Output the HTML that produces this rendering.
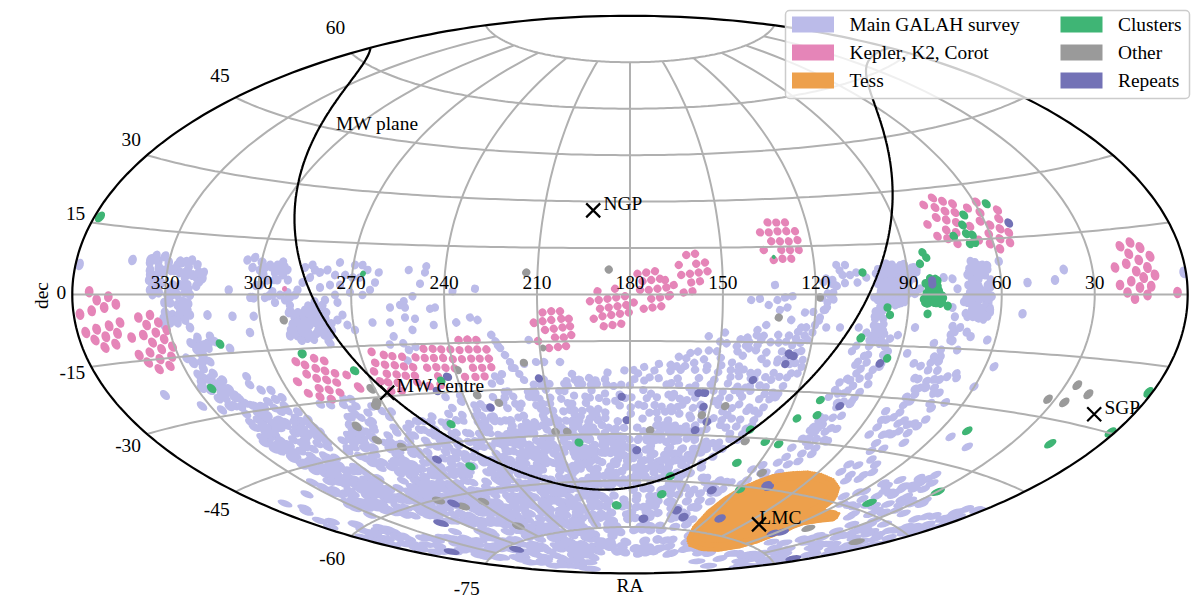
<!DOCTYPE html>
<html><head><meta charset="utf-8"><style>
html,body{margin:0;padding:0;background:#fff;width:1200px;height:614px;overflow:hidden}
svg{display:block}
text{font-family:"Liberation Serif",serif;fill:#000}
</style></head><body>
<svg width="1200" height="614" viewBox="0 0 1200 614">
<defs><clipPath id="ell"><path d="M1187.7,294.6 1187.6,299.0 1187.4,303.4 1187.1,307.8 1186.6,312.2 1186.0,316.5 1185.2,320.9 1184.3,325.3 1183.3,329.6 1182.1,334.0 1180.8,338.3 1179.3,342.7 1177.8,347.0 1176.0,351.3 1174.2,355.6 1172.2,359.8 1170.1,364.1 1167.8,368.4 1165.4,372.6 1162.9,376.8 1160.3,381.0 1157.5,385.1 1154.6,389.3 1151.5,393.4 1148.3,397.5 1145.0,401.6 1141.6,405.6 1138.0,409.6 1134.4,413.6 1130.5,417.5 1126.6,421.5 1122.5,425.4 1118.4,429.2 1114.1,433.1 1109.6,436.9 1105.1,440.6 1100.4,444.3 1095.7,448.0 1090.8,451.7 1085.8,455.3 1080.7,458.8 1075.4,462.4 1070.1,465.9 1064.6,469.3 1059.1,472.7 1053.4,476.1 1047.7,479.4 1041.8,482.6 1035.8,485.8 1029.7,489.0 1023.6,492.1 1017.3,495.2 1010.9,498.2 1004.5,501.2 997.9,504.1 991.3,507.0 984.5,509.8 977.7,512.6 970.8,515.3 963.8,518.0 956.7,520.6 949.6,523.1 942.3,525.6 935.0,528.0 927.6,530.4 920.2,532.7 912.6,535.0 905.0,537.2 897.4,539.3 889.6,541.4 881.8,543.4 873.9,545.3 866.0,547.2 858.0,549.0 850.0,550.8 841.9,552.5 833.7,554.1 825.5,555.7 817.3,557.2 809.0,558.7 800.7,560.0 792.3,561.4 783.8,562.6 775.4,563.8 766.9,564.9 758.4,565.9 749.8,566.9 741.2,567.8 732.6,568.7 723.9,569.4 715.3,570.1 706.6,570.8 697.9,571.3 689.2,571.8 680.4,572.3 671.7,572.6 662.9,572.9 654.1,573.2 645.3,573.3 636.6,573.4 627.8,573.4 619.0,573.4 610.2,573.2 601.4,573.1 592.7,572.8 583.9,572.5 575.2,572.1 566.4,571.6 557.7,571.1 549.0,570.5 540.4,569.8 531.7,569.1 523.1,568.2 514.5,567.4 505.9,566.4 497.3,565.4 488.8,564.3 480.3,563.2 471.9,562.0 463.5,560.7 455.1,559.4 446.8,558.0 438.5,556.5 430.3,554.9 422.1,553.3 414.0,551.7 405.9,549.9 397.9,548.1 390.0,546.3 382.1,544.4 374.2,542.4 366.5,540.3 358.8,538.2 351.1,536.1 343.6,533.8 336.1,531.6 328.6,529.2 321.3,526.8 314.0,524.3 306.8,521.8 299.7,519.3 292.6,516.6 285.7,513.9 278.8,511.2 272.1,508.4 265.4,505.6 258.8,502.7 252.3,499.7 245.8,496.7 239.5,493.7 233.3,490.6 227.2,487.4 221.1,484.2 215.2,481.0 209.4,477.7 203.7,474.4 198.1,471.0 192.6,467.6 187.2,464.1 181.9,460.6 176.7,457.1 171.7,453.5 166.7,449.8 161.9,446.2 157.2,442.5 152.6,438.7 148.1,435.0 143.7,431.1 139.5,427.3 135.4,423.4 131.4,419.5 127.5,415.6 123.8,411.6 120.1,407.6 116.6,403.6 113.3,399.5 110.0,395.4 106.9,391.3 103.9,387.2 101.1,383.1 98.4,378.9 95.8,374.7 93.3,370.5 91.0,366.2 88.8,362.0 86.7,357.7 84.8,353.4 83.0,349.1 81.4,344.8 79.9,340.5 78.5,336.2 77.3,331.8 76.2,327.5 75.2,323.1 74.4,318.7 73.7,314.3 73.1,310.0 72.7,305.6 72.4,301.2 72.3,296.8 72.3,292.4 72.4,288.0 72.7,283.6 73.1,279.2 73.7,274.9 74.4,270.5 75.2,266.1 76.2,261.7 77.3,257.4 78.5,253.0 79.9,248.7 81.4,244.4 83.0,240.1 84.8,235.8 86.7,231.5 88.8,227.2 91.0,223.0 93.3,218.7 95.8,214.5 98.4,210.3 101.1,206.1 103.9,202.0 106.9,197.9 110.0,193.8 113.3,189.7 116.6,185.6 120.1,181.6 123.8,177.6 127.5,173.6 131.4,169.7 135.4,165.8 139.5,161.9 143.7,158.1 148.1,154.2 152.6,150.5 157.2,146.7 161.9,143.0 166.7,139.4 171.7,135.7 176.7,132.1 181.9,128.6 187.2,125.1 192.6,121.6 198.1,118.2 203.7,114.8 209.4,111.5 215.2,108.2 221.1,105.0 227.2,101.8 233.3,98.6 239.5,95.5 245.8,92.5 252.3,89.5 258.8,86.5 265.4,83.6 272.1,80.8 278.8,78.0 285.7,75.3 292.6,72.6 299.7,69.9 306.8,67.4 314.0,64.9 321.3,62.4 328.6,60.0 336.1,57.6 343.6,55.4 351.1,53.1 358.8,51.0 366.5,48.9 374.2,46.8 382.1,44.8 390.0,42.9 397.9,41.1 405.9,39.3 414.0,37.5 422.1,35.9 430.3,34.3 438.5,32.7 446.8,31.2 455.1,29.8 463.5,28.5 471.9,27.2 480.3,26.0 488.8,24.9 497.3,23.8 505.9,22.8 514.5,21.8 523.1,21.0 531.7,20.1 540.4,19.4 549.0,18.7 557.7,18.1 566.4,17.6 575.2,17.1 583.9,16.7 592.7,16.4 601.4,16.1 610.2,16.0 619.0,15.8 627.8,15.8 636.6,15.8 645.3,15.9 654.1,16.0 662.9,16.3 671.7,16.6 680.4,16.9 689.2,17.4 697.9,17.9 706.6,18.4 715.3,19.1 723.9,19.8 732.6,20.5 741.2,21.4 749.8,22.3 758.4,23.3 766.9,24.3 775.4,25.4 783.8,26.6 792.3,27.8 800.7,29.2 809.0,30.5 817.3,32.0 825.5,33.5 833.7,35.1 841.9,36.7 850.0,38.4 858.0,40.2 866.0,42.0 873.9,43.9 881.8,45.8 889.6,47.8 897.4,49.9 905.0,52.0 912.6,54.2 920.2,56.5 927.6,58.8 935.0,61.2 942.3,63.6 949.6,66.1 956.7,68.6 963.8,71.2 970.8,73.9 977.7,76.6 984.5,79.4 991.3,82.2 997.9,85.1 1004.5,88.0 1010.9,91.0 1017.3,94.0 1023.6,97.1 1029.7,100.2 1035.8,103.4 1041.8,106.6 1047.7,109.8 1053.4,113.1 1059.1,116.5 1064.6,119.9 1070.1,123.3 1075.4,126.8 1080.7,130.4 1085.8,133.9 1090.8,137.5 1095.7,141.2 1100.4,144.9 1105.1,148.6 1109.6,152.3 1114.1,156.1 1118.4,160.0 1122.5,163.8 1126.6,167.7 1130.5,171.7 1134.4,175.6 1138.0,179.6 1141.6,183.6 1145.0,187.6 1148.3,191.7 1151.5,195.8 1154.6,199.9 1157.5,204.1 1160.3,208.2 1162.9,212.4 1165.4,216.6 1167.8,220.8 1170.1,225.1 1172.2,229.4 1174.2,233.6 1176.0,237.9 1177.8,242.2 1179.3,246.5 1180.8,250.9 1182.1,255.2 1183.3,259.6 1184.3,263.9 1185.2,268.3 1186.0,272.7 1186.6,277.0 1187.1,281.4 1187.4,285.8 1187.6,290.2 1187.7,294.6 Z"/></clipPath></defs>
<g clip-path="url(#ell)">
<path fill="#bbbbe9" stroke="#bbbbe9" stroke-width="8" stroke-linejoin="round" d=""/>
<g stroke="#bbbbe9" stroke-linecap="round" fill="none"><path transform="matrix(2.300 3.382 2.574 -1.750 195 350)" stroke-width="2.60" d="M-0.78 1.35h0M0.81 2.52h0M1.36 0.73h0M0.54 -3.72h0M0.49 4.75h0M-2.00 0.13h0M-1.44 2.25h0M0.39 3.61h0M0.16 0.46h0M1.41 3.91h0M2.14 1.32h0"/><path transform="matrix(2.791 3.234 2.291 -1.978 195 370)" stroke-width="2.60" d="M-1.44 1.02h0M-0.50 4.24h0M0.98 2.44h0M1.95 -0.19h0M1.24 -0.21h0M-1.77 1.49h0M-0.26 3.17h0M1.99 0.34h0M3.05 0.62h0"/><path transform="matrix(2.762 3.094 2.240 -2.000 225 370)" stroke-width="2.60" d="M-3.91 -1.88h0M-1.27 -3.64h0M-0.80 -5.19h0M1.43 -2.75h0"/><path transform="matrix(2.302 3.238 2.516 -1.788 225 350)" stroke-width="2.60" d="M0.39 1.63h0M-3.17 -1.08h0"/><path transform="matrix(2.733 2.967 2.194 -2.021 255 370)" stroke-width="2.60" d="M-0.18 -3.57h0"/><path transform="matrix(3.232 3.113 2.040 -2.118 195 390)" stroke-width="2.60" d="M-0.05 3.30h0M0.99 5.77h0M2.41 3.48h0M0.80 2.05h0"/><path transform="matrix(3.176 2.979 1.997 -2.129 225 390)" stroke-width="2.60" d="M-2.89 -0.88h0M-1.89 0.95h0M-0.90 -0.89h0M0.17 0.64h0M0.07 -1.91h0M0.65 -0.03h0M2.38 1.18h0M0.28 -3.74h0M1.60 -2.03h0M3.87 1.24h0M-3.12 -1.08h0M-2.36 -3.32h0M0.52 1.30h0M0.79 -1.93h0M2.79 0.29h0M3.36 1.29h0"/><path transform="matrix(3.581 2.879 1.777 -2.211 225 410)" stroke-width="2.60" d="M0.30 1.95h0M1.00 3.25h0M-0.51 -0.66h0"/><path transform="matrix(3.501 2.764 1.748 -2.215 255 410)" stroke-width="2.60" d="M-2.81 -2.28h0M-0.99 -3.04h0M1.11 5.23h0M-1.22 0.56h0M0.75 2.59h0M2.92 1.43h0M2.59 -1.02h0M-2.62 -0.17h0M-0.47 1.23h0M1.24 2.85h0M0.88 -0.36h0M2.08 1.09h0M2.24 -0.55h0"/><path transform="matrix(3.119 2.858 1.960 -2.140 255 390)" stroke-width="2.60" d="M-1.80 0.13h0M1.06 1.42h0"/><path transform="matrix(3.063 2.749 1.931 -2.152 285 390)" stroke-width="2.60" d="M-2.48 -3.34h0M-0.20 -4.61h0M0.68 -2.60h0"/><path transform="matrix(3.421 2.660 1.727 -2.221 285 410)" stroke-width="2.60" d="M-2.17 -1.71h0M-0.72 1.14h0M-0.56 -1.39h0M0.66 0.35h0M0.49 -3.87h0M3.10 -0.00h0M2.61 2.30h0"/><path transform="matrix(3.800 2.575 1.535 -2.265 285 430)" stroke-width="2.60" d="M-3.66 -0.36h0M-0.75 2.60h0M-2.08 -1.85h0M-1.18 -0.21h0M-0.24 1.68h0M1.69 3.65h0M-2.33 1.38h0M-2.53 -1.99h0M-1.38 -0.60h0M1.97 2.83h0M2.08 1.01h0M-2.44 -3.51h0M-1.22 -3.40h0M-0.76 -4.09h0M2.68 -1.26h0M0.84 4.36h0M1.87 4.90h0"/><path transform="matrix(3.699 2.488 1.527 -2.270 315 430)" stroke-width="2.60" d="M-3.47 0.15h0M-2.43 -1.83h0M-0.48 0.73h0M-0.02 0.26h0M2.19 -0.27h0M1.02 0.67h0M-2.57 -2.41h0M-1.35 0.45h0M-2.37 -3.96h0M-0.83 -3.15h0M-0.06 -1.68h0M1.37 0.13h0M-0.89 -4.13h0M1.47 -1.84h0"/><path transform="matrix(3.341 2.568 1.713 -2.229 315 410)" stroke-width="2.60" d="M-0.03 -4.06h0M0.19 2.73h0"/><path transform="matrix(3.900 2.672 1.551 -2.263 255 430)" stroke-width="2.60" d="M-0.18 0.93h0M-0.38 0.73h0M1.58 3.36h0M2.57 2.19h0M-1.70 1.38h0M-0.65 3.64h0M0.47 3.32h0M-0.53 0.67h0M1.30 1.88h0M1.94 2.78h0M2.10 1.42h0M2.07 -0.87h0M3.27 0.67h0"/><path transform="matrix(0.959 3.422 3.064 -0.859 285 310)" stroke-width="2.60" d="M1.05 0.91h0M3.00 2.30h0M2.80 3.68h0M-2.79 -2.39h0M-2.71 0.85h0M0.38 1.51h0M2.30 3.36h0M-0.88 1.88h0M0.89 1.67h0M1.70 3.78h0M2.74 2.21h0"/><path transform="matrix(1.017 3.324 3.026 -0.925 315 310)" stroke-width="2.60" d="M0.19 -1.85h0M1.23 0.37h0M2.59 -0.68h0M2.93 0.30h0M2.43 2.47h0M-0.84 -3.02h0M-1.11 -1.28h0M0.21 0.76h0M-0.74 2.73h0M-1.91 3.95h0M-2.37 0.66h0M-1.72 -1.66h0M-1.31 0.44h0M-0.25 -3.49h0M0.48 -1.14h0M0.79 1.60h0M1.58 3.20h0M0.79 -4.09h0M1.73 -1.93h0M3.19 2.41h0"/><path transform="matrix(1.790 3.173 2.719 -1.533 285 330)" stroke-width="2.60" d="M-0.39 3.16h0M-0.33 4.74h0M0.86 3.45h0M1.96 1.35h0M-0.18 2.88h0M1.87 0.61h0M2.88 2.70h0M0.80 1.65h0M2.13 0.47h0M3.07 2.49h0"/><path transform="matrix(1.829 3.058 2.664 -1.594 315 330)" stroke-width="2.60" d="M-3.53 -1.35h0M-1.98 -0.63h0M-1.84 1.46h0M-1.03 3.10h0M-2.22 -3.79h0M-1.38 -2.44h0M0.60 0.82h0M-1.03 -3.89h0M0.84 -1.80h0M1.09 -0.18h0M2.55 1.67h0M0.92 -3.62h0M2.15 -1.85h0M-3.37 -3.32h0M-2.28 -1.25h0M-1.81 1.24h0M-1.69 3.04h0M-0.97 4.42h0M0.12 -2.90h0M0.72 1.38h0M-2.11 2.17h0M-2.28 -2.09h0M-1.63 1.27h0M-0.27 1.83h0M0.26 4.05h0M-1.29 -3.82h0M-0.68 -2.16h0M1.96 2.53h0M0.18 -4.32h0M0.86 -1.98h0"/><path transform="matrix(1.870 2.948 2.610 -1.655 345 330)" stroke-width="2.60" d="M-0.95 -4.62h0M-2.30 -4.10h0M-3.57 -0.32h0M-0.83 1.55h0M1.53 2.73h0M-3.66 -2.51h0M-1.98 -3.55h0"/><path transform="matrix(2.309 2.871 2.364 -1.901 315 350)" stroke-width="2.60" d="M-4.28 -1.51h0M0.47 5.30h0"/><path transform="matrix(2.311 2.766 2.320 -1.938 345 350)" stroke-width="2.60" d="M-3.89 -2.39h0"/><path transform="matrix(2.951 2.558 1.891 -2.181 345 390)" stroke-width="2.60" d="M-1.09 -5.70h0M1.20 -2.56h0M2.69 -1.02h0"/><path transform="matrix(3.262 2.483 1.706 -2.241 345 410)" stroke-width="2.60" d="M-3.53 -1.73h0M-1.03 1.15h0M1.55 3.50h0M1.31 1.60h0M2.64 1.10h0M1.73 -1.40h0M2.21 -0.75h0"/><path transform="matrix(3.183 2.405 1.705 -2.256 375 410)" stroke-width="2.60" d="M-1.15 0.31h0M-1.00 -2.27h0M1.57 1.23h0M-1.63 -5.14h0M3.99 1.12h0"/><path transform="matrix(3.106 2.332 1.709 -2.276 405 410)" stroke-width="2.60" d="M-2.53 -3.29h0"/><path transform="matrix(3.494 2.339 1.536 -2.294 375 430)" stroke-width="2.60" d="M-1.76 2.11h0M-0.94 0.82h0M-2.40 -3.66h0M0.40 -2.44h0M3.34 1.05h0M0.91 -3.10h0M-2.06 0.92h0M-3.10 -2.63h0M-1.35 -2.12h0M-0.28 -0.02h0M-1.25 -4.74h0M0.00 -2.77h0"/><path transform="matrix(3.597 2.410 1.528 -2.280 345 430)" stroke-width="2.60" d="M0.41 2.14h0M1.89 -0.01h0M0.30 2.57h0M1.47 1.46h0M1.21 -0.91h0M2.97 0.81h0"/><path transform="matrix(3.393 2.273 1.550 -2.314 405 430)" stroke-width="2.60" d="M-2.51 -1.52h0M-1.35 -2.38h0M0.15 2.80h0M1.20 4.93h0M0.21 0.91h0M2.94 2.99h0M1.77 -0.83h0M2.65 0.24h0"/><path transform="matrix(4.211 2.481 1.350 -2.292 285 450)" stroke-width="2.60" d="M-1.66 1.86h0M0.04 1.50h0M2.15 -1.40h0M-1.78 2.36h0M-3.30 -0.59h0M-1.59 0.51h0M-0.59 2.19h0M0.17 2.59h0M-1.97 -1.86h0M-0.74 -1.34h0M0.21 0.12h0M1.81 1.22h0M1.94 -1.21h0M2.48 0.26h0"/><path transform="matrix(4.093 2.401 1.346 -2.295 315 450)" stroke-width="2.60" d="M-3.26 -0.40h0M-2.73 0.92h0M1.26 4.76h0M-2.26 -1.03h0M-0.41 -0.02h0M2.02 3.36h0M2.32 -0.05h0M-2.44 -3.07h0M-0.09 -2.68h0M2.53 -0.31h0M3.18 0.05h0M-0.13 2.54h0"/><path transform="matrix(3.971 2.330 1.351 -2.303 345 450)" stroke-width="2.60" d="M-0.12 4.21h0M0.72 0.17h0M-0.93 -4.29h0M-1.46 2.64h0M0.78 3.91h0M1.64 5.79h0M0.34 1.14h0M1.48 2.65h0M3.37 0.83h0"/><path transform="matrix(3.847 2.267 1.365 -2.316 375 450)" stroke-width="2.60" d="M-2.90 0.41h0M1.17 4.16h0M-0.54 0.52h0M2.73 3.01h0M-0.96 -4.55h0M0.45 -3.02h0M-3.05 0.50h0M-2.28 -1.48h0M-1.28 -0.24h0M0.54 -1.37h0"/><path transform="matrix(3.721 2.209 1.387 -2.337 405 450)" stroke-width="2.60" d="M-3.36 -0.59h0M-1.28 1.40h0M-0.42 -2.82h0M-0.33 3.95h0M0.68 1.71h0M1.89 0.14h0M2.82 2.24h0M-3.78 -0.11h0M-1.86 0.45h0M-1.00 -1.37h0M0.03 1.17h0M-1.08 -3.27h0"/><path transform="matrix(4.533 2.296 1.168 -2.305 315 470)" stroke-width="2.60" d="M-1.60 2.03h0M1.71 4.98h0M-0.28 0.14h0M1.71 1.48h0M-3.12 -0.14h0M-2.38 0.82h0M-1.40 2.72h0M-0.47 3.66h0M1.35 5.47h0M-2.64 -0.65h0M-1.36 0.59h0M0.30 0.89h0M1.20 2.49h0M-0.05 -0.47h0M2.19 0.22h0"/><path transform="matrix(4.398 2.232 1.173 -2.311 345 470)" stroke-width="2.60" d="M-1.54 0.74h0M-1.79 -1.90h0M-0.29 -0.22h0M0.86 0.68h0M-2.00 -4.63h0M2.72 -1.42h0M-3.14 0.81h0M-2.83 -1.97h0M-2.00 -0.23h0M-0.71 -0.14h0M1.52 2.77h0M-2.26 -2.56h0M-1.09 -2.73h0M1.32 0.89h0M2.13 1.55h0M-0.45 -4.49h0M0.13 -3.74h0M1.23 -1.75h0"/><path transform="matrix(4.257 2.177 1.189 -2.324 375 470)" stroke-width="2.60" d="M-1.02 2.45h0M-0.16 2.66h0M-1.56 -2.52h0M-0.98 -5.02h0M-0.21 -3.74h0M1.49 -2.15h0M-1.28 1.76h0M0.74 4.06h0M0.92 1.74h0M-2.13 -2.32h0M1.16 -2.55h0"/><path transform="matrix(4.109 2.129 1.215 -2.344 405 470)" stroke-width="2.60" d="M-2.91 0.33h0M-1.02 -0.97h0M1.00 3.42h0M0.84 0.41h0M1.88 0.71h0M1.77 -1.16h0M-2.75 1.28h0M-2.04 1.43h0M-0.93 3.31h0M-3.00 -1.54h0M-0.31 0.92h0M0.77 1.83h0M2.33 2.47h0M-0.72 -2.11h0M1.36 -0.78h0M3.43 -0.96h0"/><path transform="matrix(-2.592 -1.987 -1.857 2.422 555 370)" stroke-width="2.60" d="M1.01 4.71h0M4.16 0.11h0M0.28 -3.08h0"/><path transform="matrix(-2.736 -1.907 -1.741 2.497 555 390)" stroke-width="2.60" d="M-1.33 -4.59h0M4.31 1.33h0M2.43 -0.65h0M-1.20 -3.45h0M-2.40 -3.53h0M2.34 1.64h0M-1.22 -0.52h0M-2.50 -1.46h0M-0.16 2.94h0M-3.04 1.21h0"/><path transform="matrix(-2.708 -1.740 -1.666 2.593 585 370)" stroke-width="2.60" d="M0.98 4.45h0M-0.13 3.70h0M-2.41 1.46h0M2.73 3.37h0"/><path transform="matrix(-2.840 -1.631 -1.536 2.676 585 390)" stroke-width="2.60" d="M-1.33 -4.45h0M2.80 -0.64h0M1.69 -1.26h0M-0.79 -2.39h0M-2.19 -3.71h0M-1.77 -0.98h0M2.05 3.34h0M-1.09 1.78h0M-2.44 1.36h0M-4.94 -0.02h0M2.84 -2.00h0"/><path transform="matrix(-2.712 -2.054 -1.815 2.397 525 390)" stroke-width="2.60" d="M-1.14 -3.19h0M-1.90 -1.21h0M-2.91 -1.37h0M1.60 4.08h0M-2.17 1.05h0M-3.51 0.21h0M-4.90 -0.65h0M2.01 -2.45h0M-1.06 -0.07h0"/><path transform="matrix(-2.724 -2.156 -1.845 2.331 495 390)" stroke-width="2.60" d="M-2.56 -1.55h0M-3.21 -2.35h0M-0.83 2.30h0M-3.53 -0.11h0M1.83 -1.04h0M0.48 -3.42h0"/><path transform="matrix(2.966 2.186 1.723 -2.338 465 410)" stroke-width="2.60" d="M-2.14 1.50h0M1.35 3.26h0M-3.08 -2.01h0M2.57 2.43h0M0.22 -1.92h0M3.35 0.35h0"/><path transform="matrix(-2.911 -2.104 -1.724 2.385 495 410)" stroke-width="2.60" d="M4.18 1.22h0M-0.48 -3.85h0M2.59 1.41h0M1.48 0.54h0M-2.50 -3.01h0M1.97 4.25h0M-0.30 2.75h0M-0.76 2.02h0"/><path transform="matrix(-2.876 -2.000 -1.706 2.453 525 410)" stroke-width="2.60" d="M3.26 0.13h0M1.87 -1.03h0M-1.91 -3.48h0M1.65 0.46h0M0.28 3.29h0M-0.65 1.77h0"/><path transform="matrix(-2.880 -1.845 -1.639 2.558 555 410)" stroke-width="2.60" d="M3.91 0.42h0M2.29 -0.96h0M-2.14 -4.22h0M3.57 2.26h0M2.07 1.85h0M0.40 0.50h0M-2.29 -1.13h0M-3.69 -2.61h0M2.05 3.66h0M-0.84 2.02h0M1.20 4.33h0M-1.66 2.55h0"/><path transform="matrix(-2.966 -1.547 -1.429 2.740 585 410)" stroke-width="2.60" d="M4.30 0.05h0M0.73 -2.17h0M2.82 1.58h0M0.58 0.60h0M-1.28 -0.99h0M-3.39 -2.30h0M2.05 2.90h0M0.32 2.35h0M-2.58 -0.09h0M-3.08 0.14h0M-3.74 -0.27h0M-2.49 1.71h0M-4.43 0.54h0"/><path transform="matrix(3.033 2.260 1.716 -2.303 435 410)" stroke-width="2.60" d="M0.41 -2.38h0M3.52 1.74h0"/><path transform="matrix(3.293 2.207 1.569 -2.341 435 430)" stroke-width="2.60" d="M-3.82 0.21h0M-1.99 1.67h0M0.45 3.71h0M1.81 4.83h0M-2.25 -2.12h0M-0.08 0.25h0M1.95 3.29h0M-0.70 -1.96h0M0.60 -1.86h0M2.06 -0.48h0M3.83 -0.64h0"/><path transform="matrix(3.199 2.139 1.589 -2.377 465 430)" stroke-width="2.60" d="M-3.22 1.20h0M-1.79 2.32h0M1.77 4.74h0M-2.22 -3.63h0M-1.49 -2.49h0M0.76 -0.57h0M1.59 -0.03h0M3.71 1.65h0"/><path transform="matrix(-3.116 -2.060 -1.604 2.427 495 430)" stroke-width="2.60" d="M3.63 -0.83h0M1.53 -2.39h0M0.18 -3.45h0M-1.00 -4.77h0M3.28 1.53h0M1.79 0.45h0M1.72 2.31h0M0.70 1.81h0M-1.55 0.67h0M-3.46 -1.19h0M-2.50 0.47h0M-4.50 -0.29h0"/><path transform="matrix(-3.053 -1.958 -1.601 2.497 525 430)" stroke-width="2.60" d="M4.71 -0.26h0M0.81 -2.43h0M-1.11 -3.98h0M3.19 2.36h0M1.15 -0.27h0M-0.82 -1.99h0M-2.41 -3.32h0M2.01 3.19h0M1.30 2.04h0M-0.60 0.62h0M-2.45 -0.88h0M0.97 4.58h0M3.60 1.01h0M0.95 -0.31h0M-0.34 -1.36h0M2.94 2.93h0M1.50 2.22h0M-1.63 -0.33h0M-0.19 2.55h0"/><path transform="matrix(-3.031 -1.799 -1.546 2.606 555 430)" stroke-width="2.60" d="M2.49 -1.31h0M2.17 1.13h0M-1.92 0.38h0M-4.05 -0.44h0M1.10 3.91h0M-0.08 3.12h0M0.62 -3.31h0M-1.36 -4.50h0M3.58 0.71h0M-0.23 -1.99h0M-1.20 -1.96h0M2.01 1.24h0M0.16 1.38h0M-2.65 -1.68h0M1.51 4.70h0M-3.26 0.76h0"/><path transform="matrix(-3.092 -1.489 -1.343 2.790 585 430)" stroke-width="2.60" d="M0.05 -2.76h0M-2.27 -4.63h0M3.30 0.85h0M0.92 0.32h0M-0.19 -1.02h0M2.12 3.03h0M-0.04 1.58h0M-1.54 -0.07h0M1.62 3.78h0M0.32 3.45h0M-2.09 2.45h0M4.38 -1.01h0M2.71 -1.94h0M3.75 0.15h0M2.47 -0.58h0M-1.72 -1.88h0M3.24 1.82h0M-1.02 0.22h0M-3.01 -0.98h0M0.78 3.05h0M-0.61 2.77h0M-2.42 1.89h0"/><path transform="matrix(3.594 2.152 1.416 -2.365 435 450)" stroke-width="2.60" d="M-3.04 1.21h0M0.01 3.76h0M-2.06 0.50h0M-0.13 1.27h0M1.47 3.25h0M2.33 3.60h0M-1.29 -1.97h0M2.40 1.38h0M0.13 -3.60h0M2.79 -1.04h0M-2.38 -4.41h0"/><path transform="matrix(3.470 2.093 1.449 -2.403 465 450)" stroke-width="2.60" d="M-3.33 0.86h0M-2.48 1.61h0M-0.21 3.15h0M1.19 4.69h0M-2.05 0.17h0M2.18 3.58h0M-1.86 -2.51h0M-1.04 -2.03h0M0.66 -1.17h0M2.15 1.46h0M-1.64 -5.28h0M-0.90 -4.13h0M1.31 -2.74h0M2.58 -0.77h0"/><path transform="matrix(-3.354 -2.022 -1.480 2.455 495 450)" stroke-width="2.60" d="M4.21 -0.60h0M0.60 -2.96h0M-0.43 -3.89h0M-2.08 -4.97h0M3.01 1.23h0M1.37 -0.37h0M-0.39 -2.74h0M-1.85 -2.45h0M-0.78 0.89h0M-3.09 -2.06h0M2.03 5.20h0M0.53 4.33h0M-0.65 3.48h0M-1.94 1.76h0M-2.88 0.53h0M0.71 -2.32h0M-1.33 -4.44h0M-2.70 -1.54h0M-1.75 1.14h0"/><path transform="matrix(-3.256 -1.925 -1.495 2.529 525 450)" stroke-width="2.60" d="M1.95 -2.22h0M-1.38 -4.74h0M3.21 0.10h0M2.19 -0.38h0M0.04 -1.90h0M0.14 0.87h0M-1.56 0.19h0M-3.88 -1.34h0M1.87 5.35h0M-0.20 3.77h0M-2.90 0.52h0M3.46 0.03h0M1.78 -0.72h0M-0.40 -2.39h0M2.41 2.30h0M-0.82 -0.96h0M-2.41 -2.00h0M0.80 2.10h0M-1.04 1.69h0M-1.92 0.12h0"/><path transform="matrix(-3.198 -1.769 -1.461 2.641 555 450)" stroke-width="2.60" d="M-1.13 -3.85h0M3.93 0.96h0M1.26 -1.39h0M-2.59 -3.30h0M-0.14 1.25h0M-2.42 -0.97h0M1.58 4.41h0M0.81 4.25h0M-1.46 1.43h0M-2.42 1.03h0M4.38 0.10h0M2.66 -0.47h0M-2.75 -3.87h0M2.33 2.03h0M1.70 0.81h0M-0.22 -0.92h0M-1.95 -1.47h0M1.55 3.80h0M-1.82 1.07h0"/><path transform="matrix(-3.226 -1.456 -1.276 2.826 585 450)" stroke-width="2.60" d="M2.89 0.49h0M0.16 -0.62h0M-1.58 -1.76h0M-1.95 -2.79h0M2.51 2.37h0M0.81 1.05h0M-0.55 0.54h0M-2.79 -0.03h0M1.64 3.27h0M-0.48 2.66h0M-2.42 1.70h0M-4.41 1.26h0M3.10 -1.02h0M3.02 1.59h0M0.85 -0.27h0M-1.89 -1.00h0M-3.29 -1.13h0M1.93 2.74h0M-0.02 1.78h0M-1.52 1.53h0"/><path transform="matrix(3.955 2.084 1.251 -2.374 435 470)" stroke-width="2.60" d="M-1.70 1.74h0M0.59 2.16h0M-2.86 -1.79h0M-0.67 -1.00h0M-0.14 0.05h0M1.19 1.46h0M-1.27 -4.28h0M1.82 -0.40h0M2.66 0.05h0M-2.86 0.54h0M-0.17 0.71h0M-1.44 -3.97h0M-0.08 -2.36h0M1.33 -1.69h0M2.13 -0.49h0M-0.97 -5.05h0"/><path transform="matrix(3.798 2.038 1.296 -2.414 465 470)" stroke-width="2.60" d="M-3.30 -0.34h0M-1.13 0.65h0M1.20 2.79h0M-3.02 -2.55h0M-1.26 -1.58h0M-0.60 -0.36h0M1.03 0.55h0M-1.93 -3.71h0M0.29 -2.53h0M1.14 -1.03h0"/><path transform="matrix(-3.643 -1.981 -1.343 2.470 495 470)" stroke-width="2.60" d="M3.39 -0.32h0M1.97 -1.19h0M0.91 -1.31h0M-0.90 -3.80h0M-2.18 -4.51h0M1.35 2.06h0M0.71 0.33h0M-1.40 -0.81h0M-2.08 -0.89h0M-1.29 1.32h0M-2.38 1.24h0M-3.66 -0.40h0M0.77 -2.96h0M-0.56 -3.49h0M-0.32 -1.09h0M-2.17 -2.63h0M-2.75 -3.58h0M-0.68 1.78h0M-1.88 -0.34h0M-3.03 -1.38h0M-1.18 2.73h0M-3.46 0.71h0"/><path transform="matrix(-3.500 -1.899 -1.381 2.547 525 470)" stroke-width="2.60" d="M2.38 -0.10h0M0.72 -2.25h0M-2.13 -3.75h0M3.14 2.22h0M1.18 1.54h0M-0.88 0.15h0M-1.69 -1.71h0M0.86 2.43h0M-0.41 1.64h0M-2.44 1.45h0M-3.40 -0.02h0M1.86 -1.94h0M-1.71 -5.17h0M2.21 0.87h0M0.66 -0.75h0M-3.12 -2.28h0M0.80 1.65h0M-2.92 -1.23h0M2.01 5.11h0"/><path transform="matrix(-3.394 -1.755 -1.376 2.662 555 470)" stroke-width="2.60" d="M3.05 -0.54h0M1.24 -1.84h0M-0.02 -1.98h0M-1.38 -3.14h0M3.00 1.77h0M-1.15 -0.68h0M-2.84 -2.31h0M-1.88 1.27h0M3.30 -0.85h0M2.33 -1.64h0M0.03 -3.15h0M-0.78 -2.01h0M-2.93 -2.86h0M2.25 4.58h0M1.16 4.03h0M-0.29 3.39h0M-4.02 0.38h0"/><path transform="matrix(-3.373 -1.451 -1.226 2.850 585 470)" stroke-width="2.60" d="M3.33 0.25h0M2.01 -1.30h0M2.48 1.51h0M-1.20 -1.16h0M-2.78 -1.03h0M-1.83 1.75h0M-2.86 0.17h0M2.37 -1.12h0M0.78 -1.71h0M-0.48 -3.41h0M1.36 0.17h0M-2.87 -2.03h0M2.85 2.77h0M-2.54 -0.59h0M-3.78 -0.13h0"/><path transform="matrix(5.025 2.164 0.993 -2.307 315 490)" stroke-width="2.60" d="M-0.96 2.38h0M1.75 5.20h0M1.01 2.33h0M1.86 2.08h0M-1.03 -2.83h0"/><path transform="matrix(4.884 2.104 0.994 -2.308 345 490)" stroke-width="2.60" d="M-1.98 1.65h0M-0.64 1.94h0M1.46 4.95h0M-1.72 -1.62h0M0.87 0.62h0M2.03 2.80h0M-1.93 -3.02h0M-0.58 -2.35h0M0.63 -0.81h0M1.58 -0.57h0M-0.38 -2.01h0M1.72 -0.03h0M0.78 3.43h0M1.79 4.39h0"/><path transform="matrix(4.734 2.056 1.007 -2.318 375 490)" stroke-width="2.60" d="M-1.72 1.12h0M-0.67 2.61h0M-0.12 4.02h0M-2.38 -0.70h0M-1.37 -0.77h0M2.41 2.52h0M-0.18 -2.63h0M1.70 -1.03h0M2.95 0.54h0M2.56 -1.71h0M-2.52 -2.31h0M-1.62 -1.24h0M0.63 1.04h0M1.79 2.01h0M-0.94 -3.53h0M0.29 -1.56h0M-2.60 0.88h0M-1.25 1.10h0M0.32 2.19h0M-2.24 -0.95h0M-1.17 -0.17h0M-0.46 0.22h0"/><path transform="matrix(4.572 2.019 1.032 -2.336 405 490)" stroke-width="2.60" d="M-1.13 3.01h0M1.25 4.74h0M-1.33 -0.29h0M0.95 2.21h0M2.50 2.17h0M-0.06 -2.85h0M1.23 -0.38h0M2.24 0.61h0M2.28 -1.71h0M1.71 2.48h0M0.78 -0.01h0M1.13 2.00h0M-0.85 -3.84h0M1.44 -0.45h0M3.35 -0.32h0"/><path transform="matrix(4.398 1.989 1.070 -2.365 435 490)" stroke-width="2.60" d="M-3.20 -0.11h0M-2.19 1.35h0M-0.66 2.00h0M2.27 4.47h0M-1.74 -0.47h0M-0.18 -0.26h0M0.58 1.39h0M2.21 1.85h0M-1.81 -3.54h0M-0.58 -3.04h0M0.81 -1.88h0M2.26 -0.95h0M-0.05 -3.67h0M0.52 3.53h0M-2.05 -1.45h0M-0.74 -0.63h0M1.14 2.73h0M3.04 -1.35h0M-2.11 -2.30h0M-1.34 -0.66h0M-0.08 0.62h0M1.78 1.61h0M2.67 2.38h0M-1.62 -3.96h0M-0.09 -2.85h0M0.66 -1.05h0M2.99 -0.29h0"/><path transform="matrix(4.210 1.961 1.121 -2.407 465 490)" stroke-width="2.60" d="M-1.91 1.34h0M-0.66 3.21h0M0.84 3.82h0M-2.71 -1.43h0M-0.81 0.14h0M1.58 1.24h0M-2.10 -3.70h0M-1.27 -2.83h0M0.79 -1.91h0M1.93 -1.09h0M2.58 0.55h0M-2.87 -1.29h0M-1.52 -0.78h0M-0.78 -2.66h0M0.01 -2.15h0M-0.26 -4.06h0M-1.48 -1.48h0M-0.02 -0.24h0M2.86 1.92h0M-1.40 -4.25h0M2.73 -1.02h0"/><path transform="matrix(-4.012 -1.927 -1.184 2.465 495 490)" stroke-width="2.60" d="M2.50 -1.44h0M0.09 -3.43h0M-1.37 -4.34h0M1.98 0.53h0M-0.02 0.18h0M-1.08 -0.93h0M1.43 3.57h0M0.17 1.27h0M-3.21 -0.10h0M1.85 2.09h0M0.54 0.93h0M-1.76 -2.27h0M2.08 3.62h0M-0.48 1.61h0M-3.16 0.17h0M-2.21 -3.32h0"/><path transform="matrix(-3.814 -1.869 -1.248 2.546 525 490)" stroke-width="2.60" d="M2.01 -1.52h0M0.27 -2.28h0M-0.81 -3.86h0M3.28 1.93h0M2.31 0.88h0M0.76 0.21h0M-2.27 -2.73h0M1.64 3.86h0M0.39 2.92h0M-1.46 0.86h0M-1.16 2.65h0M-0.27 0.23h0M-1.29 -1.90h0M1.66 3.63h0M-0.22 1.95h0M-1.03 0.80h0M-2.88 0.69h0M-1.15 -4.29h0M0.03 -1.95h0"/><path transform="matrix(-3.640 -1.752 -1.283 2.665 555 490)" stroke-width="2.60" d="M1.64 -1.11h0M0.58 -1.84h0M-0.71 -4.00h0M2.99 0.75h0M0.93 0.47h0M-1.00 -1.43h0M2.36 2.59h0M-0.52 1.96h0M-2.20 -0.28h0M-3.86 -0.06h0M-0.42 3.37h0M2.94 2.47h0M1.40 0.98h0M-2.52 -2.08h0M1.71 3.13h0M-1.35 0.48h0M-0.41 -3.52h0M1.25 -1.19h0M0.42 -1.37h0M-1.84 -3.23h0M-2.67 -2.96h0"/><path transform="matrix(-3.548 -1.475 -1.187 2.857 585 490)" stroke-width="2.60" d="M4.18 -0.58h0M3.05 -1.16h0M1.39 -2.35h0M0.15 -3.12h0M-2.06 -4.25h0M3.50 1.52h0M1.62 0.43h0M0.18 -0.23h0M-1.51 -2.00h0M-0.04 1.10h0M-3.17 0.62h0M-2.98 1.64h0M2.15 -0.45h0M-0.35 -1.73h0M-2.92 -3.64h0M2.04 0.42h0M0.87 -0.34h0M-0.80 -0.68h0M-2.06 -1.49h0M0.67 2.98h0M-0.85 1.63h0M-2.08 0.24h0M-3.60 -0.18h0M3.67 -1.41h0M0.50 -3.00h0M-1.17 -3.81h0"/><path transform="matrix(5.427 1.932 0.818 -2.299 345 510)" stroke-width="2.60" d="M-0.14 3.52h0M0.92 4.95h0M0.33 3.37h0M1.84 5.39h0"/><path transform="matrix(5.283 1.887 0.822 -2.302 375 510)" stroke-width="2.60" d="M-2.57 1.46h0M-1.19 3.06h0M0.24 3.41h0M-1.50 -0.35h0M-0.22 0.86h0M2.01 2.33h0M1.65 0.98h0M-2.25 1.56h0M-1.18 3.00h0M0.68 3.48h0M-2.51 -0.37h0M-1.48 0.38h0M-0.03 1.09h0M1.65 1.64h0"/><path transform="matrix(5.124 1.857 0.839 -2.314 405 510)" stroke-width="2.60" d="M-3.08 1.62h0M-1.52 3.10h0M-0.35 3.70h0M0.06 1.04h0M-0.74 -1.69h0M0.32 -1.87h0M-0.32 3.78h0M1.41 4.45h0M-1.59 0.31h0M-0.45 -0.23h0M2.09 2.23h0M-1.75 -2.48h0M-1.07 -1.69h0M1.90 -0.93h0"/><path transform="matrix(4.944 1.840 0.870 -2.338 435 510)" stroke-width="2.60" d="M-3.24 1.38h0M-2.56 1.63h0M0.34 3.75h0M1.11 4.48h0M-2.22 -1.09h0M-1.35 0.79h0M-0.17 0.43h0M1.13 2.35h0M-1.62 -1.69h0M-0.10 -1.88h0M1.12 0.03h0M1.11 -2.68h0M-1.47 1.62h0M-0.21 3.47h0M0.90 4.16h0M-1.08 0.87h0M0.98 1.08h0M2.08 2.57h0M-2.23 -2.88h0M-1.02 -3.16h0M0.70 -1.22h0M1.63 0.10h0M1.14 -2.60h0"/><path transform="matrix(4.739 1.833 0.919 -2.376 465 510)" stroke-width="2.60" d="M-2.50 1.69h0M-1.67 2.73h0M-1.96 0.30h0M-0.33 1.50h0M1.06 2.97h0M2.14 2.54h0M-1.73 -3.22h0M-0.48 -1.65h0M2.17 1.32h0M2.82 -1.71h0M-3.19 0.38h0M-0.68 2.25h0M0.42 4.20h0M1.46 4.55h0M-0.34 1.27h0M1.39 1.44h0M1.39 -1.25h0M2.88 1.01h0M0.65 -2.86h0"/><path transform="matrix(4.505 1.830 0.988 -2.434 495 510)" stroke-width="2.60" d="M-3.24 1.64h0M-2.17 2.05h0M-0.09 3.30h0M-1.86 0.12h0M-0.53 0.86h0M0.10 1.68h0M2.18 2.17h0M-0.97 -1.07h0M0.63 -0.96h0M0.17 -3.74h0M-0.99 2.45h0M0.09 2.76h0M-1.94 -0.28h0M-0.17 0.69h0M2.05 2.72h0M-2.28 -2.75h0M-0.82 -2.19h0M1.27 -0.88h0M1.77 0.31h0M3.35 -0.81h0"/><path transform="matrix(-4.246 -1.814 -1.075 2.517 525 510)" stroke-width="2.60" d="M2.52 -1.89h0M-0.10 -4.04h0M2.51 0.41h0M0.46 -1.64h0M-1.32 -2.45h0M-2.83 -2.68h0M1.48 2.61h0M-1.35 0.38h0M0.45 3.33h0M-1.33 2.77h0M3.59 -1.18h0M2.04 -2.22h0M0.22 -3.71h0M1.70 0.41h0M0.34 -0.09h0M-2.36 -2.33h0M2.02 3.70h0M-0.69 1.07h0M1.51 4.48h0M-1.50 2.76h0"/><path transform="matrix(-3.981 -1.748 -1.159 2.640 555 510)" stroke-width="2.60" d="M3.20 -1.24h0M0.12 -3.50h0M-1.29 -3.80h0M1.20 0.29h0M-1.58 -1.88h0M1.57 1.96h0M-1.14 -0.40h0M-2.69 -0.13h0M2.34 4.77h0M0.37 3.65h0M-0.69 2.64h0M-2.83 1.90h0M3.20 -0.47h0M2.29 -1.42h0M1.50 -2.62h0M-0.27 -2.88h0M2.71 1.37h0M-1.92 -1.91h0M2.64 2.46h0M1.05 1.54h0M-1.51 0.60h0"/><path transform="matrix(-3.775 -1.528 -1.149 2.838 585 510)" stroke-width="2.60" d="M3.51 -1.61h0M1.91 -0.54h0M0.09 -0.53h0M-1.15 -1.86h0M-1.98 -2.73h0M1.05 2.07h0M-2.39 0.33h0M1.36 3.14h0M0.00 2.76h0M4.01 -0.16h0M-0.60 -3.34h0M-2.42 -3.60h0M3.39 0.46h0M2.13 0.18h0M0.21 -0.06h0M-2.76 -2.74h0M1.58 1.87h0M-1.55 1.25h0"/><path transform="matrix(5.410 1.607 0.690 -2.323 465 530)" stroke-width="2.60" d="M-2.96 1.86h0M-2.15 2.58h0M-2.31 2.27h0M-1.30 3.15h0M0.76 4.39h0M0.45 2.74h0M2.07 3.89h0M-1.07 -4.62h0M0.48 -3.23h0"/><path transform="matrix(5.179 1.634 0.748 -2.369 495 530)" stroke-width="2.60" d="M-2.38 2.28h0M0.44 4.24h0M-2.86 0.38h0M-1.60 1.78h0M-0.36 2.67h0M0.69 3.37h0M-1.97 -1.40h0M-0.61 -1.14h0M2.28 0.75h0M-2.62 2.15h0M-0.58 3.45h0M0.86 4.78h0M1.24 3.03h0M-2.50 -2.50h0M-1.29 -1.05h0M-0.12 -1.76h0M-1.16 -3.96h0M-0.28 -3.55h0"/><path transform="matrix(6.004 1.705 0.651 -2.294 345 530)" stroke-width="2.60" d="M1.36 3.31h0M1.45 3.73h0M-2.35 1.92h0M-2.33 -0.37h0"/><path transform="matrix(4.884 1.674 0.838 -2.445 525 530)" stroke-width="2.60" d="M-2.90 0.55h0M-1.59 1.50h0M-0.84 0.95h0M0.61 1.73h0M2.09 3.68h0M-0.77 -0.08h0M0.98 -0.30h0M1.83 0.92h0M-1.15 3.03h0M-2.14 -0.54h0M-1.74 0.80h0M1.66 2.49h0M-1.71 -1.27h0M-0.33 -0.92h0M2.40 1.44h0M1.40 -1.09h0M2.59 -0.14h0M-1.67 -5.13h0M-0.73 -4.58h0M0.87 -2.36h0M3.28 -1.46h0"/><path transform="matrix(-4.518 -1.695 -0.963 2.567 555 530)" stroke-width="2.60" d="M1.93 -0.02h0M0.70 -1.56h0M-0.33 -2.77h0M-1.85 -3.58h0M2.64 1.92h0M-0.59 0.20h0M-1.76 -0.32h0M-0.11 -3.91h0M3.28 -0.11h0M1.37 -0.48h0M0.58 -1.25h0M-2.09 -3.14h0M2.25 1.73h0M0.96 1.92h0M-0.30 -0.08h0M-0.50 1.30h0M-0.11 3.12h0M-0.91 2.96h0M-1.97 1.64h0"/><path transform="matrix(-4.129 -1.596 -1.072 2.773 585 530)" stroke-width="2.60" d="M2.73 0.11h0M1.53 -0.81h0M0.78 0.21h0M-0.87 -0.55h0M3.06 -1.49h0M1.88 -2.02h0M-1.04 -3.86h0M0.71 -0.79h0M-1.80 -3.10h0M2.48 2.23h0M1.24 1.39h0M-0.53 0.75h0M-2.38 0.11h0M2.12 3.08h0M-0.49 1.42h0M-0.78 2.31h0M-1.67 2.14h0"/><path transform="matrix(5.882 1.650 0.641 -2.286 375 530)" stroke-width="2.60" d="M-1.10 -1.63h0M0.03 -1.27h0M0.57 0.19h0M2.05 0.53h0M-1.89 -1.56h0M1.63 1.11h0M-1.75 -4.42h0M-0.23 -3.51h0M0.81 -2.68h0M2.31 -2.09h0"/><path transform="matrix(5.749 1.615 0.642 -2.286 405 530)" stroke-width="2.60" d="M-1.72 -2.01h0M-0.88 -3.99h0M1.00 -3.18h0"/><path transform="matrix(5.691 2.071 0.843 -2.316 285 510)" stroke-width="2.60" d="M-0.37 2.50h0"/><path transform="matrix(5.562 1.993 0.826 -2.304 315 510)" stroke-width="2.60" d="M-1.77 -0.71h0M-1.26 -1.91h0"/><path transform="matrix(6.121 1.777 0.670 -2.308 315 530)" stroke-width="2.60" d="M0.31 4.30h0"/><path transform="matrix(6.474 1.340 0.474 -2.288 375 550)" stroke-width="2.60" d="M0.53 4.34h0M1.44 3.64h0"/><path transform="matrix(5.595 1.601 0.657 -2.297 435 530)" stroke-width="2.60" d="M-1.71 -4.72h0M-0.90 -3.95h0M1.47 -2.18h0M2.69 -1.45h0"/><path transform="matrix(6.284 1.236 0.446 -2.266 435 550)" stroke-width="2.60" d="M-0.01 4.24h0M-1.42 1.62h0M0.36 2.08h0M-2.11 -0.68h0M0.01 -0.78h0M0.93 -0.17h0M1.86 0.52h0"/><path transform="matrix(6.171 1.221 0.448 -2.267 465 550)" stroke-width="2.60" d="M-1.28 3.68h0M0.75 4.55h0M1.96 5.30h0M-1.56 1.84h0M-0.07 1.72h0M0.91 2.77h0M1.63 3.28h0M-1.55 -1.69h0M-0.54 -0.39h0M0.05 0.45h0M1.28 0.60h0M2.27 -1.12h0"/><path transform="matrix(6.024 1.239 0.470 -2.283 495 550)" stroke-width="2.60" d="M0.41 4.54h0M1.38 4.80h0M-0.83 1.24h0M0.26 2.05h0M0.90 3.65h0M-2.25 -1.80h0M-1.37 -1.11h0M-0.54 0.01h0M0.56 0.82h0M2.02 1.76h0M-1.46 -3.71h0M-0.82 -2.53h0M0.61 -3.01h0M1.42 -2.37h0"/><path transform="matrix(5.464 1.422 0.627 -2.409 555 550)" stroke-width="2.60" d="M2.01 4.99h0M-2.32 0.22h0M0.11 1.81h0M0.92 3.15h0M1.98 2.76h0M-1.73 -0.49h0M-0.87 -1.03h0M0.66 0.84h0M-1.74 -4.13h0M-1.17 -3.72h0M0.49 -2.01h0M1.45 -2.32h0"/><path transform="matrix(-4.885 -1.558 -0.828 2.597 585 550)" stroke-width="2.60" d="M-1.87 -4.86h0M2.14 -0.85h0M0.72 -1.86h0M-1.66 -2.40h0M2.56 1.59h0M1.52 1.22h0M0.67 -0.10h0M-0.90 -0.61h0M-2.67 -1.03h0M1.84 3.29h0M0.35 1.86h0M-0.48 1.49h0M-1.94 1.58h0M0.51 4.09h0"/><path transform="matrix(6.382 1.277 0.455 -2.274 405 550)" stroke-width="2.60" d="M-2.01 1.18h0M-0.22 2.52h0M1.02 3.38h0M1.94 2.98h0M1.78 1.57h0"/><path transform="matrix(5.811 1.303 0.521 -2.322 525 550)" stroke-width="2.60" d="M-1.53 2.29h0M-0.69 2.08h0M0.64 2.17h0M1.32 3.23h0M-1.96 -1.06h0M-1.33 -0.70h0M0.25 -0.67h0M1.44 1.01h0M2.00 1.73h0M-1.15 -3.89h0M-0.11 -2.69h0M1.95 -0.87h0"/><path transform="matrix(6.710 0.515 0.172 -2.246 525 570)" stroke-width="2.60" d="M-0.34 4.30h0M0.66 3.49h0"/><path transform="matrix(6.670 0.481 0.162 -2.242 555 570)" stroke-width="2.60" d="M-2.20 2.77h0M-1.70 3.80h0M1.42 3.98h0M-0.16 1.90h0M0.98 2.33h0M1.95 2.38h0"/><path transform="matrix(6.599 0.533 0.182 -2.250 585 570)" stroke-width="2.60" d="M-2.08 3.76h0M0.51 3.58h0M-1.41 1.40h0M-0.99 1.79h0M0.11 0.83h0M1.10 0.81h0"/><path transform="matrix(4.327 2.574 1.364 -2.293 255 450)" stroke-width="2.60" d="M0.91 4.07h0"/><path transform="matrix(1.957 2.742 2.499 -1.783 405 330)" stroke-width="2.60" d="M1.27 2.02h0M-0.37 -4.27h0M-4.40 -2.56h0M1.29 1.99h0M-0.43 -4.17h0"/><path transform="matrix(2.314 2.668 2.279 -1.977 375 350)" stroke-width="2.60" d="M1.60 4.92h0"/><path transform="matrix(2.318 2.575 2.241 -2.017 405 350)" stroke-width="2.60" d="M-1.75 1.08h0M0.76 0.94h0M1.40 3.28h0"/><path transform="matrix(2.108 2.450 2.322 -1.998 495 330)" stroke-width="2.60" d="M0.38 -1.93h0M0.41 -2.01h0M0.42 -1.99h0"/><path transform="matrix(2.353 2.311 2.124 -2.163 495 350)" stroke-width="2.60" d="M-0.24 1.70h0M-1.68 2.14h0M0.66 1.63h0M3.23 1.13h0"/><path transform="matrix(2.544 2.222 1.975 -2.261 495 370)" stroke-width="2.60" d="M1.23 -1.59h0M2.34 0.53h0"/><path transform="matrix(2.797 2.318 1.865 -2.249 435 390)" stroke-width="2.60" d="M3.47 0.43h0"/><path transform="matrix(2.755 2.240 1.858 -2.285 465 390)" stroke-width="2.60" d="M-0.02 -2.58h0"/><path transform="matrix(2.591 2.471 2.042 -2.142 405 370)" stroke-width="2.60" d="M-1.31 2.96h0"/><path transform="matrix(1.589 2.984 2.745 -1.462 885 270)" stroke-width="2.60" d="M-1.53 1.27h0M-0.42 2.76h0M-1.17 -1.85h0M-0.67 -0.33h0M-0.24 1.36h0M0.87 3.37h0M1.76 4.13h0M-0.33 -3.15h0M0.27 -2.03h0M0.58 0.05h0M1.42 1.50h0M2.92 3.18h0M0.79 -2.90h0M2.05 -1.35h0M3.65 1.11h0M-1.24 0.78h0M-0.47 -0.33h0M0.32 1.13h0M0.58 2.06h0M1.39 3.14h0M-0.09 -1.23h0M0.66 -0.25h0M1.47 0.46h0M2.61 2.48h0M2.84 3.78h0M1.26 -1.43h0M2.43 -0.72h0M2.68 0.61h0M3.64 2.50h0"/><path transform="matrix(1.523 3.086 2.801 -1.382 915 270)" stroke-width="2.60" d="M-2.97 -2.39h0M-1.27 -2.45h0M-0.97 -0.63h0M0.14 0.50h0M-1.27 -4.11h0M-0.40 -1.78h0M0.58 0.16h0M1.10 -3.67h0M1.88 -1.69h0M-3.09 -3.52h0M-2.89 -2.39h0M-2.31 -3.25h0M-1.39 -2.43h0M-0.81 0.11h0M-0.62 -3.33h0M0.12 -1.38h0M0.70 0.13h0M0.60 -4.98h0M0.93 -3.12h0"/><path transform="matrix(0.409 3.300 3.127 -0.388 885 290)" stroke-width="2.60" d="M-2.18 -2.14h0M-2.36 -0.76h0M-1.64 2.28h0M-2.21 4.22h0M-1.48 -1.31h0M-0.39 4.76h0M0.19 -1.35h0M0.38 0.24h0M1.20 1.76h0M0.64 3.58h0M1.83 -3.68h0M1.66 -2.45h0M2.45 -0.05h0M2.36 1.51h0M2.64 3.33h0M2.66 -2.76h0M3.22 1.84h0M-2.35 -1.06h0M-2.35 0.09h0M-2.70 2.13h0M-1.95 3.88h0M-1.64 4.90h0M-1.58 -0.92h0M-0.71 0.56h0M-1.19 2.70h0M-0.09 -0.31h0M0.67 1.45h0M0.25 2.71h0M1.05 -1.06h0M1.32 0.36h0M2.00 3.98h0M2.80 -0.60h0M2.56 1.79h0M3.23 4.21h0"/><path transform="matrix(0.371 3.365 3.146 -0.347 915 290)" stroke-width="2.60" d="M-2.39 -3.23h0M-2.59 -1.52h0M-1.36 -3.11h0M0.09 -3.40h0M1.43 -3.18h0M-1.53 -4.29h0M-1.18 -2.07h0M-0.07 -4.47h0M-0.63 -3.26h0M-0.20 -1.78h0M1.19 -4.05h0M0.79 -2.09h0M2.53 -3.69h0M1.10 -0.13h0M-0.20 1.61h0"/><path transform="matrix(-1.159 3.141 2.940 1.085 885 310)" stroke-width="2.60" d="M-2.00 -2.34h0M-2.42 -0.15h0M-3.81 2.39h0M-0.50 -1.81h0M-1.36 -1.04h0M-1.77 0.34h0M-2.44 2.57h0M1.35 -2.67h0M0.55 -0.67h0M2.83 -2.39h0M1.62 -0.89h0M3.54 -1.96h0M2.68 0.43h0M-2.33 -2.37h0M-3.95 2.34h0M-2.03 -1.10h0M-2.25 0.01h0M-3.20 1.81h0M-3.13 3.30h0"/><path transform="matrix(-1.083 3.231 2.985 1.000 915 310)" stroke-width="2.60" d="M-1.32 -3.93h0M-0.72 -4.85h0"/><path transform="matrix(-1.912 2.843 2.555 1.718 885 330)" stroke-width="2.60" d="M0.66 -3.88h0M0.52 -2.67h0M-1.13 -1.41h0M1.58 -2.67h0M0.50 -0.40h0M3.66 -2.59h0M2.09 -0.59h0M1.06 0.48h0M4.58 -1.99h0M3.53 -0.19h0M1.80 -1.77h0M2.63 0.26h0M1.24 2.95h0M-0.87 4.40h0"/><path transform="matrix(-2.314 2.668 2.279 1.977 885 350)" stroke-width="2.60" d="M-1.24 -3.07h0M0.98 -4.88h0M-0.39 -2.65h0M-1.28 -1.47h0M1.36 0.58h0M-0.77 -0.81h0M-0.18 1.07h0"/><path transform="matrix(-2.592 2.471 2.042 2.142 855 370)" stroke-width="2.60" d="M-1.09 -1.22h0M0.33 1.12h0M-2.15 -1.33h0M-3.81 0.86h0M-1.35 1.04h0M3.31 0.31h0M0.76 3.23h0M-1.55 4.71h0"/><path transform="matrix(-2.617 2.556 2.064 2.114 885 370)" stroke-width="2.60" d="M0.45 -2.36h0M-0.41 -2.38h0M2.36 -2.90h0M0.41 -2.05h0"/><path transform="matrix(-2.845 2.395 1.870 2.222 855 390)" stroke-width="2.60" d="M-0.66 -3.67h0M-3.68 1.41h0M2.84 -1.60h0M-0.58 1.58h0M1.45 1.92h0M-0.24 -1.50h0M1.58 -1.47h0"/><path transform="matrix(-2.797 2.318 1.864 2.249 825 390)" stroke-width="2.60" d="M-4.40 1.20h0M-2.13 2.21h0M0.37 2.66h0M-2.16 3.78h0"/><path transform="matrix(-3.106 2.332 1.709 2.276 855 410)" stroke-width="2.60" d="M0.07 -2.69h0M1.15 -4.82h0M-0.61 -3.10h0M3.70 -1.22h0"/><path transform="matrix(-3.294 2.207 1.569 2.341 825 430)" stroke-width="2.60" d="M-0.11 -4.06h0M1.97 -3.28h0M-0.10 -1.95h0M-1.46 0.62h0M2.38 -1.34h0M3.16 0.94h0M1.56 2.72h0M0.77 -2.65h0M3.05 -2.92h0M1.34 -1.79h0M0.19 0.57h0M-2.62 1.98h0"/><path transform="matrix(-3.471 2.093 1.449 2.403 795 450)" stroke-width="2.60" d="M-3.50 -0.36h0M-3.45 1.31h0M0.39 -1.28h0M2.76 0.47h0M-1.00 2.36h0"/><path transform="matrix(-3.595 2.152 1.416 2.365 825 450)" stroke-width="2.60" d="M-1.53 -2.50h0M3.23 -1.18h0M-1.46 -2.18h0M1.74 -2.31h0"/><path transform="matrix(1.735 2.782 2.622 -1.635 825 270)" stroke-width="2.60" d="M2.47 3.91h0M2.40 -1.13h0M0.52 3.95h0"/><path transform="matrix(0.518 3.187 3.087 -0.502 825 290)" stroke-width="2.60" d="M-2.47 -0.11h0M-1.50 2.52h0M-0.62 3.97h0M1.20 0.68h0M1.26 2.50h0M2.27 -1.30h0M3.33 2.22h0M-2.68 2.88h0M-1.03 3.41h0M1.78 1.32h0"/><path transform="matrix(0.456 3.241 3.108 -0.438 855 290)" stroke-width="2.60" d="M-2.53 -2.86h0M-2.16 1.12h0"/><path transform="matrix(-1.346 2.959 2.832 1.288 825 310)" stroke-width="2.60" d="M-1.02 0.24h0M2.01 -3.13h0M-0.07 0.09h0M-2.42 -0.27h0M0.16 -0.37h0M2.74 -0.46h0"/><path transform="matrix(-2.003 2.645 2.443 1.851 825 330)" stroke-width="2.60" d="M-1.15 -3.39h0M0.62 -3.59h0M2.88 -2.76h0M-0.83 -0.17h0"/><path transform="matrix(-0.959 3.422 3.064 0.859 975 310)" stroke-width="2.60" d="M-3.04 2.72h0M-0.71 -1.01h0M-0.96 0.96h0M2.02 -1.75h0M1.93 -0.07h0M-1.44 -4.03h0M-1.65 -1.84h0M-0.17 -0.98h0M-0.30 0.97h0M-1.49 2.59h0M-1.70 4.27h0M0.97 0.31h0M-0.25 3.54h0M1.91 1.83h0M1.87 3.32h0M-1.46 -2.91h0M-2.22 0.12h0M-2.98 3.15h0M0.19 -0.76h0M-0.57 2.27h0M2.26 -1.74h0M1.84 1.39h0M0.74 4.31h0M-2.29 -1.93h0M-2.96 3.44h0M-1.17 -0.74h0M-1.50 2.64h0M1.61 -2.54h0M0.24 -0.65h0M-0.13 2.17h0M-0.50 4.72h0M2.35 -1.73h0M1.42 1.75h0"/><path transform="matrix(-1.017 3.324 3.026 0.925 945 310)" stroke-width="2.60" d="M1.03 3.61h0M-1.32 2.04h0"/><path transform="matrix(-1.829 3.058 2.664 1.594 945 330)" stroke-width="2.60" d="M0.28 2.34h0M-0.95 3.00h0M-1.98 1.45h0"/><path transform="matrix(-1.790 3.174 2.719 1.533 975 330)" stroke-width="2.60" d="M1.63 -1.97h0M2.19 -0.17h0M1.42 -4.58h0"/><path transform="matrix(-2.309 2.871 2.364 1.901 945 350)" stroke-width="2.60" d="M-3.15 0.05h0M0.69 -1.08h0M3.28 -1.43h0M0.48 -4.23h0M-3.06 -0.63h0M2.17 0.25h0M-2.08 3.16h0"/><path transform="matrix(-2.645 2.647 2.090 2.089 915 370)" stroke-width="2.60" d="M-1.79 0.40h0M-2.44 3.20h0M1.62 1.85h0M1.09 2.98h0M-1.03 -1.86h0"/><path transform="matrix(-2.674 2.745 2.120 2.065 945 370)" stroke-width="2.60" d="M1.20 -5.18h0M-0.41 -3.49h0M1.46 -1.72h0M-1.37 3.56h0M3.78 -0.50h0M2.74 1.00h0M-0.64 4.67h0M0.85 2.13h0"/><path transform="matrix(-2.951 2.559 1.891 2.181 915 390)" stroke-width="2.60" d="M-0.19 -0.30h0M2.86 -0.18h0M0.79 1.17h0M-3.74 0.32h0M-1.29 0.56h0M-2.46 1.94h0"/><path transform="matrix(-3.262 2.483 1.706 2.241 915 410)" stroke-width="2.60" d="M-0.31 -3.46h0M1.49 -3.85h0M-0.69 5.00h0"/><path transform="matrix(-3.183 2.405 1.705 2.256 885 410)" stroke-width="2.60" d="M0.05 0.48h0M2.18 2.09h0M1.11 3.07h0M-2.57 3.87h0M-0.61 3.85h0"/><path transform="matrix(-3.495 2.339 1.536 2.294 885 430)" stroke-width="2.60" d="M1.17 -2.44h0M1.07 0.97h0M-0.08 1.62h0M-3.48 0.67h0M-0.84 2.75h0M-2.57 3.21h0"/><path transform="matrix(-3.393 2.273 1.550 2.314 855 430)" stroke-width="2.60" d="M-2.28 4.17h0"/><path transform="matrix(-3.848 2.267 1.364 2.316 885 450)" stroke-width="2.60" d="M2.79 -2.41h0M0.22 -0.74h0M0.94 -3.90h0M3.69 0.49h0"/><path transform="matrix(-2.053 2.548 2.384 1.921 795 330)" stroke-width="2.60" d="M-0.15 1.15h0M2.47 -0.39h0M1.86 2.05h0M-0.52 3.59h0M-1.66 -3.00h0M-1.79 1.08h0M-2.75 2.35h0"/><path transform="matrix(-2.172 2.347 2.251 2.083 735 330)" stroke-width="2.60" d="M0.92 3.38h0M-0.58 4.92h0M2.70 -1.84h0M-0.93 4.65h0"/><path transform="matrix(-2.108 2.450 2.322 1.998 765 330)" stroke-width="2.60" d="M2.84 -0.94h0M1.61 0.91h0M-1.54 4.30h0M-1.42 -0.76h0M1.51 -1.86h0"/><path transform="matrix(-2.383 2.213 2.072 2.231 735 350)" stroke-width="2.60" d="M1.57 -5.36h0M0.49 -3.48h0M-1.22 -0.54h0M-3.41 1.38h0M-4.88 1.29h0M-0.31 0.88h0M-3.49 2.74h0M4.87 -1.26h0M-0.55 3.12h0"/><path transform="matrix(-2.353 2.311 2.124 2.163 765 350)" stroke-width="2.60" d="M0.62 -2.83h0M-2.88 -0.55h0M-4.54 1.40h0M1.99 -2.04h0M0.20 0.86h0M2.62 1.27h0M-0.77 5.28h0M-1.31 -3.22h0"/><path transform="matrix(-2.336 2.400 2.165 2.108 795 350)" stroke-width="2.60" d="M0.11 -4.08h0M-0.42 -1.71h0M-2.64 -0.33h0M3.04 -2.79h0M0.38 0.93h0M-1.11 1.74h0M3.90 -0.24h0M1.79 1.31h0M0.54 4.10h0M-4.74 0.66h0"/><path transform="matrix(-2.439 2.089 1.991 2.325 705 350)" stroke-width="2.60" d="M4.05 -2.33h0M1.97 -1.09h0M-0.81 0.96h0M-2.59 2.84h0M2.13 2.09h0"/><path transform="matrix(-2.561 1.877 1.822 2.486 675 350)" stroke-width="2.60" d="M0.28 2.52h0M-1.31 4.34h0"/><path transform="matrix(-3.026 0.982 0.960 2.959 645 370)" stroke-width="2.60" d="M-0.04 -1.00h0M-4.76 -0.47h0M3.41 -1.12h0M2.40 0.34h0M-2.77 1.09h0M4.08 1.74h0M-0.68 2.69h0M-3.31 3.87h0"/><path transform="matrix(-2.708 1.741 1.667 2.593 675 370)" stroke-width="2.60" d="M0.26 -2.18h0M-1.06 -0.76h0M-3.31 0.67h0M1.33 -0.54h0M-1.51 0.94h0M0.72 2.78h0"/><path transform="matrix(-2.592 1.988 1.857 2.422 705 370)" stroke-width="2.60" d="M1.32 -4.00h0M-1.27 -0.55h0M2.37 -2.04h0M-0.41 0.29h0M-2.80 3.15h0M2.99 0.92h0M-0.46 4.38h0"/><path transform="matrix(-2.552 2.123 1.934 2.325 735 370)" stroke-width="2.60" d="M2.29 -4.05h0M-0.72 -2.54h0M-1.62 -0.12h0M0.99 -0.89h0M-0.56 0.95h0M-2.12 1.71h0M2.39 0.83h0M0.26 2.44h0"/><path transform="matrix(-2.544 2.222 1.975 2.261 765 370)" stroke-width="2.60" d="M-1.65 -1.30h0M-4.20 0.78h0M3.83 -2.47h0M2.24 -1.00h0M-1.36 2.61h0M4.77 -1.09h0M4.14 -0.03h0M1.33 1.83h0M0.54 3.84h0M-1.86 4.88h0"/><path transform="matrix(-2.552 2.308 2.001 2.213 795 370)" stroke-width="2.60" d="M-0.05 -2.65h0M-1.40 -1.64h0M-2.06 0.74h0M1.53 -0.03h0M0.13 1.44h0M3.14 0.06h0"/><path transform="matrix(-3.027 -0.979 -0.957 2.960 615 370)" stroke-width="2.60" d="M2.00 1.50h0M-2.85 -0.81h0M2.08 3.82h0"/><path transform="matrix(-3.116 0.849 0.820 3.012 645 390)" stroke-width="2.60" d="M-0.55 -2.99h0M0.50 -0.15h0M-1.48 1.64h0M4.63 1.10h0M0.13 2.66h0M-2.97 3.24h0"/><path transform="matrix(-3.117 -0.846 -0.817 3.012 615 390)" stroke-width="2.60" d="M3.03 -1.07h0M0.75 -1.12h0M-1.42 -2.20h0M-4.08 -2.73h0M2.70 1.93h0M-1.76 1.01h0M-3.69 1.62h0"/><path transform="matrix(-2.840 1.631 1.537 2.675 675 390)" stroke-width="2.60" d="M1.39 -2.92h0M-0.05 -2.56h0M-1.86 -0.77h0M-4.14 1.60h0M2.43 0.26h0M0.85 0.92h0M1.93 1.59h0M0.03 3.20h0"/><path transform="matrix(-2.736 1.908 1.741 2.497 705 390)" stroke-width="2.60" d="M1.60 -3.04h0M-2.41 -0.51h0M3.51 -1.98h0M1.01 -0.08h0M-1.96 1.84h0M3.71 0.22h0M-2.27 5.02h0"/><path transform="matrix(-2.712 2.054 1.815 2.397 735 390)" stroke-width="2.60" d="M0.49 -3.15h0M-1.16 -0.44h0M-2.88 1.44h0M-4.16 1.97h0M3.23 -1.99h0M0.16 -0.04h0M-0.56 1.87h0M2.71 0.93h0M-0.43 3.24h0"/><path transform="matrix(-2.724 2.156 1.845 2.331 765 390)" stroke-width="2.60" d="M0.40 -2.39h0M-0.66 -0.63h0M3.43 -2.79h0M0.82 0.98h0M-1.29 2.27h0M-2.27 3.80h0M2.93 1.20h0M0.64 3.41h0M-1.15 4.21h0"/><path transform="matrix(-2.755 2.240 1.858 2.285 795 390)" stroke-width="2.60" d="M1.94 -3.60h0"/><path transform="matrix(-3.201 -0.759 -0.723 3.050 615 410)" stroke-width="2.60" d="M3.16 -2.01h0M0.54 -2.88h0M-1.07 -1.76h0M2.70 1.44h0M2.32 3.18h0"/><path transform="matrix(-2.966 1.548 1.430 2.740 675 410)" stroke-width="2.60" d="M-4.48 -1.08h0M3.10 -2.97h0M0.77 -1.46h0M-1.13 -0.49h0M-2.67 -0.40h0M2.82 -1.02h0M1.02 -0.14h0M-0.63 1.71h0M-3.12 3.74h0"/><path transform="matrix(-2.880 1.845 1.639 2.558 705 410)" stroke-width="2.60" d="M-3.62 -0.86h0M2.64 -2.70h0M0.22 -2.22h0M-4.12 0.98h0M0.93 -0.03h0M4.75 -0.24h0M2.36 2.00h0M-0.82 3.79h0"/><path transform="matrix(-3.201 0.762 0.726 3.049 645 410)" stroke-width="2.60" d="M4.02 -1.92h0M1.51 -2.17h0M-0.01 -1.34h0M-3.21 -0.86h0M4.45 0.10h0M-1.14 1.16h0M-3.28 1.57h0M1.33 2.48h0M-3.19 3.80h0"/><path transform="matrix(-2.876 2.000 1.706 2.453 735 410)" stroke-width="2.60" d="M0.44 -1.12h0M-1.88 -0.76h0M-3.77 2.05h0M3.18 -1.99h0M2.60 -0.13h0M-2.56 2.48h0M2.16 1.74h0M0.34 3.61h0"/><path transform="matrix(-2.911 2.104 1.724 2.385 765 410)" stroke-width="2.60" d="M-0.10 -1.03h0M2.52 -1.92h0M2.06 -0.28h0"/><path transform="matrix(-3.290 -0.705 -0.660 3.081 615 430)" stroke-width="2.60" d="M-0.28 -2.92h0M4.11 -0.68h0M1.96 -0.30h0M-0.21 -0.56h0M-2.50 -1.27h0M2.79 1.58h0M-0.03 0.57h0M-1.94 1.57h0M-0.79 2.84h0M-4.83 1.92h0M3.50 3.20h0M1.99 2.73h0M-0.23 2.37h0M-2.78 1.60h0"/><path transform="matrix(-3.092 1.490 1.344 2.789 675 430)" stroke-width="2.60" d="M0.62 -3.82h0M1.89 -2.54h0M-1.25 0.24h0M-3.25 0.40h0M1.86 -0.19h0M0.48 2.01h0M-1.67 1.77h0M4.73 0.75h0M1.96 2.14h0M-2.00 4.17h0M2.80 -3.18h0M1.11 -2.29h0M-0.48 -1.35h0M3.79 -1.92h0M1.47 -1.55h0M0.90 -0.41h0M-3.54 2.40h0M4.34 -0.21h0M1.79 1.45h0M-0.48 1.73h0"/><path transform="matrix(-3.031 1.799 1.547 2.605 705 430)" stroke-width="2.60" d="M-2.28 -2.09h0M1.74 -3.00h0M-0.47 -0.06h0M3.54 -1.02h0M3.92 1.10h0M2.59 -1.85h0M1.41 -0.49h0M4.50 -0.85h0M2.85 -0.31h0"/><path transform="matrix(-3.054 1.958 1.601 2.497 735 430)" stroke-width="2.60" d="M1.59 -5.23h0M2.64 -4.10h0M1.75 -2.32h0M-0.82 -0.80h0M-2.72 1.60h0M1.76 0.14h0M-1.10 2.45h0M2.54 1.57h0M0.83 3.30h0"/><path transform="matrix(-3.116 2.061 1.604 2.426 765 430)" stroke-width="2.60" d="M1.04 -4.95h0M2.26 -3.81h0"/><path transform="matrix(-3.289 0.708 0.663 3.080 645 430)" stroke-width="2.60" d="M-4.09 -0.57h0M-1.99 1.72h0M-3.45 1.99h0M2.33 2.24h0M-3.62 -0.61h0M2.10 -1.29h0M0.51 0.25h0M-0.25 2.29h0M2.65 2.61h0M-3.63 3.96h0"/><path transform="matrix(-3.388 -0.678 -0.622 3.107 615 450)" stroke-width="2.60" d="M2.12 -2.40h0M3.64 -0.56h0M0.54 -0.02h0M-1.06 -1.00h0M-3.52 -1.65h0M3.59 1.62h0M1.54 1.08h0M-1.00 1.06h0M-1.33 2.76h0M3.80 -1.55h0M1.10 -2.12h0M-0.40 -2.22h0M-1.63 -2.60h0M3.12 -0.51h0M-1.87 -1.10h0M-4.06 -1.51h0M2.73 1.50h0M1.16 1.23h0M-1.24 1.01h0M-2.88 1.03h0"/><path transform="matrix(-3.387 0.681 0.625 3.106 645 450)" stroke-width="2.60" d="M-3.53 -2.44h0M2.45 -0.54h0M-0.25 -0.06h0M-1.53 0.12h0M2.15 1.12h0M-1.30 2.16h0M-2.35 1.76h0M-1.13 -2.87h0M-2.73 -2.34h0M3.25 -1.34h0M-1.84 -0.89h0M4.27 0.88h0M2.52 0.00h0M3.73 1.80h0M-0.81 3.39h0"/><path transform="matrix(-3.225 1.457 1.277 2.826 675 450)" stroke-width="2.60" d="M-1.90 -2.42h0M1.04 -1.41h0M-1.75 0.64h0M3.23 -0.05h0M0.54 1.01h0M-0.49 1.42h0M-2.81 3.16h0M1.21 -3.54h0M-1.01 -2.75h0M1.75 -0.98h0M-2.13 0.57h0M2.67 0.42h0M0.84 1.63h0M-2.68 3.42h0M-0.09 2.95h0M-1.79 3.99h0"/><path transform="matrix(-3.199 1.769 1.461 2.641 705 450)" stroke-width="2.60" d="M-1.23 -2.35h0M-2.63 -0.86h0M-4.26 0.05h0M0.34 -1.70h0M-3.14 1.25h0M3.26 -0.41h0M-1.02 3.22h0M-1.35 -1.45h0M2.61 -2.30h0M-0.50 0.02h0M3.31 -0.87h0M1.29 0.15h0"/><path transform="matrix(-3.256 1.926 1.495 2.529 735 450)" stroke-width="2.60" d="M2.72 -2.49h0"/><path transform="matrix(-3.498 -0.677 -0.606 3.131 615 470)" stroke-width="2.60" d="M4.06 -1.66h0M0.49 -2.32h0M0.60 -2.50h0M-2.95 -3.52h0M1.39 -0.82h0M0.01 -1.92h0M-2.99 -1.76h0M1.62 0.83h0M-0.52 0.85h0M-1.97 -0.04h0M2.61 2.48h0M0.44 2.89h0M-0.59 2.41h0M-2.92 2.38h0"/><path transform="matrix(-3.498 0.680 0.609 3.130 645 470)" stroke-width="2.60" d="M0.53 -2.75h0M-3.95 -1.78h0M2.73 -1.26h0M0.85 -1.08h0M-0.24 -0.31h0M-2.68 0.11h0M2.55 0.90h0M0.53 1.61h0M-0.24 -3.05h0M1.41 -1.51h0M-1.99 -0.82h0M-4.35 -0.39h0M2.49 0.59h0M0.33 0.01h0M-2.34 1.30h0M4.33 1.61h0M2.57 1.85h0M0.28 2.04h0M-3.21 3.40h0"/><path transform="matrix(-3.373 1.452 1.226 2.849 675 470)" stroke-width="2.60" d="M0.39 -2.79h0M-1.17 -2.79h0M3.24 -1.85h0M-3.08 0.63h0M4.17 0.65h0M2.89 0.23h0M0.45 1.56h0M-1.17 2.41h0M2.36 -4.67h0M0.74 -3.21h0M1.38 -1.58h0M-2.27 -0.68h0M2.76 -0.25h0M2.10 -0.06h0M-0.09 0.98h0M-2.25 2.18h0M0.03 3.15h0"/><path transform="matrix(-3.394 1.755 1.376 2.662 705 470)" stroke-width="2.60" d="M-0.12 -2.67h0M0.55 -1.28h0M2.14 -5.06h0M3.81 -1.30h0M1.52 1.84h0M0.58 2.57h0"/><path transform="matrix(-3.624 0.709 0.616 3.151 645 490)" stroke-width="2.60" d="M-2.13 -2.64h0M1.87 -2.58h0M3.11 -0.78h0M0.21 -0.53h0M-1.41 -0.10h0M2.43 1.27h0M-0.98 2.16h0M-2.53 2.52h0M2.79 2.39h0"/><path transform="matrix(-3.624 -0.706 -0.614 3.152 615 490)" stroke-width="2.60" d="M2.56 -1.16h0M1.07 -1.69h0M-1.10 -2.44h0M-2.92 -2.55h0M1.48 -0.51h0M3.10 2.67h0M-0.02 1.74h0M2.19 3.25h0M-2.88 2.38h0"/><path transform="matrix(-3.548 1.476 1.188 2.856 675 490)" stroke-width="2.60" d="M0.62 -2.67h0M-1.04 -1.98h0M3.32 -1.75h0M1.92 -1.61h0M0.65 -0.95h0M-1.82 -0.16h0M-2.67 0.62h0M1.41 0.74h0M-0.39 1.78h0M-3.08 3.08h0"/><path transform="matrix(-3.641 1.752 1.282 2.665 705 490)" stroke-width="2.60" d="M-0.96 -2.45h0M-2.32 -0.58h0M-4.24 -0.81h0M2.55 -1.79h0M-0.88 -0.25h0M-2.25 1.26h0M1.46 0.30h0M-1.15 1.81h0M-2.51 2.64h0"/><path transform="matrix(-3.814 1.869 1.247 2.546 735 490)" stroke-width="2.60" d="M1.18 -4.05h0M0.14 -3.10h0M2.62 -2.13h0M-3.54 -1.32h0M-2.03 -0.95h0"/><path transform="matrix(-3.771 -0.777 -0.652 3.164 615 510)" stroke-width="2.60" d="M2.14 -2.27h0M2.43 -0.56h0M-1.63 -1.59h0M-2.92 -2.26h0M3.25 2.05h0M0.81 1.01h0M-3.26 0.61h0M3.41 3.25h0M1.75 2.57h0M-3.78 1.93h0"/><path transform="matrix(-3.771 0.781 0.655 3.163 645 510)" stroke-width="2.60" d="M-1.81 -2.24h0M-3.70 -1.89h0M1.96 -1.46h0M0.21 -1.01h0M-1.72 -0.98h0M-2.77 -0.68h0M3.58 -0.17h0M-0.29 0.54h0M-1.12 1.54h0M-3.09 1.68h0M2.87 1.80h0M-0.82 2.40h0"/><path transform="matrix(-3.776 1.529 1.149 2.838 675 510)" stroke-width="2.60" d="M0.71 -3.31h0M0.07 -2.89h0M-3.52 -1.19h0M0.59 -1.12h0M-0.73 -0.26h0M1.20 0.87h0M-1.37 1.66h0M-2.02 2.57h0M1.53 2.18h0M0.40 2.30h0M-1.29 3.47h0"/><path transform="matrix(-3.982 1.748 1.159 2.640 705 510)" stroke-width="2.60" d="M0.29 -3.80h0M-1.90 -2.00h0M2.45 -2.70h0M1.46 -1.83h0M3.60 1.19h0"/><path transform="matrix(-3.946 -0.926 -0.739 3.152 615 530)" stroke-width="2.60" d="M1.02 -2.61h0M1.91 -1.19h0M-0.07 -1.25h0M1.67 0.21h0M0.88 -0.04h0M-1.37 0.22h0M0.28 1.93h0"/><path transform="matrix(-3.946 0.930 0.743 3.151 645 530)" stroke-width="2.60" d="M0.90 -1.37h0M-0.36 -1.98h0M-1.45 -0.72h0M-3.80 -0.21h0M2.58 -0.76h0M0.51 -0.32h0M-1.27 0.43h0M-2.48 3.71h0"/><path transform="matrix(-4.131 1.597 1.071 2.772 675 530)" stroke-width="2.60" d="M-0.20 -1.00h0M-2.85 -0.35h0M2.88 -1.69h0M-2.54 3.41h0M1.41 2.70h0"/><path transform="matrix(-1.957 2.743 2.499 1.783 855 330)" stroke-width="2.60" d="M-1.34 3.52h0M1.98 -4.45h0M-1.25 0.52h0"/><path transform="matrix(-2.318 2.575 2.241 2.017 855 350)" stroke-width="2.60" d="M-4.95 1.36h0M-1.16 -0.60h0M-3.53 2.60h0M0.83 -0.49h0M-0.48 3.52h0M-1.49 4.29h0"/><path transform="matrix(-3.033 2.260 1.716 2.303 825 410)" stroke-width="2.60" d="M-3.74 0.53h0M-2.93 1.61h0M2.25 0.86h0M1.47 2.20h0M-0.41 3.74h0"/><path transform="matrix(-3.200 2.139 1.589 2.377 795 430)" stroke-width="2.60" d="M-0.31 3.94h0M-1.91 5.04h0"/><path transform="matrix(-3.643 1.982 1.343 2.469 765 470)" stroke-width="2.60" d="M-0.04 -1.96h0M-3.56 -0.13h0M2.65 -2.35h0M1.11 0.20h0M0.17 0.91h0M-2.67 3.28h0M0.87 1.74h0M-0.87 3.89h0"/><path transform="matrix(-3.799 2.038 1.295 2.414 795 470)" stroke-width="2.60" d="M0.83 -3.04h0M-1.64 -2.24h0M3.53 0.12h0"/><path transform="matrix(-4.012 1.926 1.183 2.465 765 490)" stroke-width="2.60" d="M1.30 -2.57h0M-0.80 -1.56h0"/><path transform="matrix(-3.007 2.649 1.908 2.165 945 390)" stroke-width="2.60" d="M1.58 -3.05h0M2.50 -1.91h0M1.58 -0.55h0M2.65 -1.65h0"/><path transform="matrix(-3.342 2.568 1.713 2.229 945 410)" stroke-width="2.60" d="M1.81 -5.14h0M-1.14 -2.06h0M2.35 -3.47h0"/><path transform="matrix(-3.597 2.410 1.528 2.280 915 430)" stroke-width="2.60" d="M0.92 -5.11h0M0.69 -3.02h0M-0.93 -0.68h0M1.81 -0.54h0M-0.62 -2.20h0"/><path transform="matrix(-3.972 2.330 1.351 2.303 915 450)" stroke-width="2.60" d="M1.28 -4.44h0"/><path transform="matrix(-4.109 2.129 1.214 2.344 855 470)" stroke-width="2.60" d="M0.64 -2.98h0M-1.01 -1.09h0M2.89 -1.86h0M1.39 0.84h0M-1.12 3.19h0M0.08 3.67h0"/><path transform="matrix(-4.257 2.177 1.188 2.324 885 470)" stroke-width="2.60" d="M1.23 -3.46h0M2.53 -1.43h0"/><path transform="matrix(-4.573 2.019 1.031 2.336 855 490)" stroke-width="2.60" d="M0.89 -4.84h0M-0.39 1.34h0M-1.73 2.05h0M2.57 0.49h0M-0.64 4.43h0"/><path transform="matrix(-4.398 2.232 1.173 2.311 915 470)" stroke-width="2.60" d="M-0.08 3.50h0M-1.54 5.31h0"/><path transform="matrix(-4.534 2.296 1.168 2.305 945 470)" stroke-width="2.60" d="M2.14 0.08h0"/><path transform="matrix(-4.735 2.056 1.007 2.318 885 490)" stroke-width="2.60" d="M-0.62 -1.20h0M0.21 0.24h0M-0.75 1.80h0M1.94 0.93h0M-0.22 -2.68h0M-1.09 3.13h0"/><path transform="matrix(-4.885 2.104 0.994 2.308 915 490)" stroke-width="2.60" d="M1.73 -3.16h0M0.39 -2.30h0M-0.74 -2.09h0M2.56 -2.28h0M0.05 -0.54h0M-1.60 1.04h0M2.97 1.27h0M1.85 -6.01h0M-1.36 -1.65h0M1.93 1.12h0"/><path transform="matrix(-5.026 2.164 0.993 2.307 945 490)" stroke-width="2.60" d="M1.70 -4.52h0"/><path transform="matrix(-5.428 1.932 0.818 2.299 915 510)" stroke-width="2.60" d="M0.26 -4.41h0M-2.14 -2.33h0M2.05 -4.26h0M0.10 -2.92h0M-1.45 -1.36h0M2.03 -0.27h0M0.49 3.47h0M-1.39 3.96h0"/><path transform="matrix(-5.124 1.856 0.838 2.314 855 510)" stroke-width="2.60" d="M1.90 -4.18h0M0.58 -2.61h0M-0.23 -1.33h0M-2.43 -0.23h0M0.52 1.27h0M-2.30 3.67h0M1.35 1.80h0"/><path transform="matrix(-5.283 1.886 0.822 2.302 885 510)" stroke-width="2.60" d="M1.58 -3.10h0M-0.85 -1.91h0M1.43 -0.86h0M0.35 0.74h0M-1.93 1.56h0"/><path transform="matrix(-5.883 1.650 0.641 2.286 885 530)" stroke-width="2.60" d="M1.20 -5.15h0M-0.19 -2.49h0M2.17 -0.89h0M1.14 1.08h0M-0.59 0.67h0M-1.92 1.40h0M1.83 2.41h0M-0.32 3.57h0"/><path transform="matrix(-5.749 1.615 0.642 2.286 855 530)" stroke-width="2.60" d="M0.26 -2.60h0M-1.05 -0.32h0M-2.59 -0.51h0M0.76 0.94h0M-0.42 0.68h0M-1.80 3.08h0M0.16 0.51h0M-1.61 1.14h0M1.66 1.18h0M0.53 3.21h0"/><path transform="matrix(-5.596 1.600 0.657 2.297 825 530)" stroke-width="2.60" d="M-1.81 1.64h0M-2.22 3.66h0M2.61 1.66h0M1.39 1.46h0M0.80 2.68h0M-1.59 4.27h0"/><path transform="matrix(-5.563 1.993 0.826 2.304 945 510)" stroke-width="2.60" d="M-1.42 2.32h0M-2.04 2.59h0M2.04 0.86h0M0.95 3.00h0M-0.50 3.10h0M-1.78 4.58h0"/><path transform="matrix(-5.692 2.071 0.843 2.316 975 510)" stroke-width="2.60" d="M1.25 -1.58h0M-0.54 0.81h0M-0.21 3.87h0M-1.51 4.62h0M-0.26 0.23h0"/><path transform="matrix(-5.818 2.166 0.869 2.333 1005 510)" stroke-width="2.60" d="M1.70 0.89h0M1.91 -0.79h0M0.94 0.44h0"/><path transform="matrix(-6.005 1.704 0.651 2.294 915 530)" stroke-width="2.60" d="M-2.09 -0.43h0M1.02 0.74h0M-1.69 1.86h0M1.05 -2.27h0M-0.16 -1.38h0M-2.25 -0.87h0M1.75 -0.11h0M-0.88 0.16h0M-1.74 2.26h0M0.07 3.48h0M-1.00 4.66h0M-1.90 4.71h0"/><path transform="matrix(-6.122 1.777 0.670 2.308 945 530)" stroke-width="2.60" d="M0.84 -2.05h0M-1.09 -2.28h0M2.26 -1.16h0M0.95 -0.29h0M-0.09 0.50h0M-1.43 0.88h0M-1.82 -2.62h0M-0.44 -2.74h0M-1.92 -0.86h0M2.27 -0.68h0M1.07 0.24h0M-0.49 1.61h0M-1.24 1.87h0"/><path transform="matrix(-6.237 1.868 0.697 2.328 975 530)" stroke-width="2.60" d="M1.68 -3.54h0M0.22 -3.57h0M-1.59 -0.22h0M1.31 -0.21h0M-0.58 0.22h0M0.72 -4.60h0M0.16 -3.20h0M-0.50 -2.70h0"/><path transform="matrix(-6.356 1.978 0.732 2.353 1005 530)" stroke-width="2.60" d="M1.38 -3.22h0M2.03 -1.80h0"/><path transform="matrix(-2.307 2.984 2.411 1.864 975 350)" stroke-width="2.60" d="M-4.09 1.19h0"/><path transform="matrix(-3.063 2.749 1.931 2.152 975 390)" stroke-width="2.60" d="M-0.34 -1.07h0"/><path transform="matrix(-2.733 2.967 2.194 2.021 1005 370)" stroke-width="2.60" d="M1.25 -3.46h0"/><path transform="matrix(-2.311 2.766 2.320 1.938 915 350)" stroke-width="2.60" d="M2.11 -1.27h0"/><path transform="matrix(-3.699 2.488 1.527 2.270 945 430)" stroke-width="2.60" d="M-0.18 3.21h0"/><path transform="matrix(-4.211 2.481 1.350 2.292 975 450)" stroke-width="2.60" d="M1.03 -2.49h0"/><path transform="matrix(-4.210 -1.232 -0.893 3.049 615 550)" stroke-width="2.60" d="M3.30 -1.48h0M1.54 -2.08h0M-1.85 -3.42h0M3.46 -0.07h0M1.58 -0.44h0M1.02 -1.16h0M-1.35 -1.76h0M-0.43 0.29h0M-2.27 -0.18h0"/><path transform="matrix(-4.211 1.237 0.895 3.047 645 550)" stroke-width="2.60" d="M-0.53 -2.83h0M2.05 -1.41h0M0.57 -0.85h0M-0.97 -0.44h0M-2.89 0.83h0M1.65 0.49h0M-0.08 0.79h0M-1.96 1.17h0"/><path transform="matrix(-4.888 1.557 0.827 2.596 675 550)" stroke-width="2.60" d="M1.16 -4.47h0M-2.67 -1.54h0M2.54 -2.27h0M0.94 -1.90h0M-1.79 0.69h0M1.39 0.67h0M0.67 0.76h0"/><path transform="matrix(-5.466 1.421 0.626 2.408 705 550)" stroke-width="2.60" d="M1.24 -3.83h0M2.46 -2.22h0M1.27 -1.39h0M1.13 0.48h0M-0.56 1.75h0"/><path transform="matrix(-6.025 1.238 0.469 2.283 765 550)" stroke-width="2.60" d="M-1.28 -2.78h0M-1.65 -0.14h0M2.44 0.44h0M1.06 1.74h0M0.57 1.09h0M-0.82 1.28h0M-1.83 1.76h0M2.23 2.67h0M0.71 3.98h0M-1.18 3.91h0"/><path transform="matrix(-6.171 1.220 0.448 2.267 795 550)" stroke-width="2.60" d="M1.42 -3.95h0M1.10 -1.14h0M1.78 0.77h0M2.42 2.97h0M1.01 3.51h0M-1.97 -2.28h0M-1.87 3.13h0"/><path transform="matrix(-5.812 1.302 0.520 2.322 735 550)" stroke-width="2.60" d="M0.72 1.08h0M-0.12 1.53h0M-1.28 2.96h0M2.76 2.11h0M-1.39 4.15h0"/><path transform="matrix(-6.671 0.479 0.161 2.242 705 570)" stroke-width="2.60" d="M1.12 -4.11h0M-0.57 -1.76h0"/><path transform="matrix(-6.710 0.513 0.172 2.246 735 570)" stroke-width="2.60" d="M-0.83 -3.73h0M-0.35 -1.10h0M-1.07 -2.17h0M-2.20 -1.33h0"/><path transform="matrix(-6.748 0.580 0.194 2.256 765 570)" stroke-width="2.60" d="M-0.30 -4.09h0M0.05 -2.80h0"/><path transform="matrix(-5.411 1.607 0.690 2.323 795 530)" stroke-width="2.60" d="M-0.68 4.34h0"/><path transform="matrix(-6.284 1.235 0.445 2.266 825 550)" stroke-width="2.60" d="M1.15 -3.37h0M0.19 -2.70h0M-0.34 -2.46h0M-1.46 -1.76h0M1.95 -2.20h0M1.45 -1.25h0M-1.12 0.14h0M-1.93 0.50h0M1.93 0.75h0M-0.47 1.76h0"/><path transform="matrix(-6.382 1.277 0.455 2.274 855 550)" stroke-width="2.60" d="M0.89 -2.68h0M-0.11 -2.28h0M-1.41 -3.06h0M1.55 -1.07h0M-0.58 -0.68h0"/><path transform="matrix(-6.474 1.340 0.474 2.288 885 550)" stroke-width="2.60" d="M1.94 -3.28h0M0.86 -2.98h0M-2.09 -2.34h0M1.79 -1.95h0"/><path transform="matrix(1.407 3.302 2.905 -1.237 975 270)" stroke-width="2.60" d="M-1.25 -0.70h0M-0.65 1.78h0M0.24 3.03h0M-0.11 -2.03h0M1.48 1.87h0M1.28 -2.08h0M1.84 -0.26h0M0.46 -2.81h0M-1.92 0.93h0M-0.46 2.81h0M-0.55 -1.46h0M1.19 1.15h0M2.37 2.29h0M-2.69 -0.18h0M-0.27 2.18h0M0.14 4.13h0M-0.94 -1.47h0M-0.24 0.28h0M1.14 3.71h0M0.77 -1.26h0M1.98 0.78h0M2.67 -0.14h0"/><path transform="matrix(0.316 3.517 3.186 -0.287 975 290)" stroke-width="2.60" d="M-1.05 -0.99h0M-0.18 1.69h0M1.28 2.16h0M1.88 -2.83h0M1.66 -1.55h0M2.80 1.00h0M2.47 3.20h0M2.91 4.11h0M-2.88 -0.50h0M-1.35 0.92h0M0.32 3.89h0M0.58 -1.63h0M1.54 1.42h0M-1.56 -1.93h0M-0.68 -0.42h0M-1.19 1.17h0M-1.04 4.12h0M0.57 -1.21h0M0.76 1.10h0M1.90 -2.48h0M2.05 -0.44h0M2.03 2.66h0"/><path transform="matrix(-2.552 -2.123 -1.934 2.326 525 370)" stroke-width="2.60" d="M5.02 1.14h0M2.78 1.68h0M0.54 2.21h0M1.39 -1.31h0M-1.01 -4.36h0M3.40 2.24h0"/><path transform="matrix(3.288 3.263 2.092 -2.107 165 390)" stroke-width="2.60" d="M0.76 -1.20h0"/><path transform="matrix(3.660 3.008 1.815 -2.208 195 410)" stroke-width="2.60" d="M0.61 2.64h0"/><path transform="matrix(-1.148 4.339 3.244 0.858 75 270)" stroke-width="2.60" d="M-1.44 0.88h0"/><path transform="matrix(-1.199 3.976 3.145 0.949 135 270)" stroke-width="2.60" d="M-2.13 -1.61h0M1.23 4.99h0"/><path transform="matrix(-1.231 3.819 3.097 0.999 165 270)" stroke-width="2.60" d="M-0.63 -5.09h0M-2.07 0.39h0M-0.11 -2.06h0M1.15 -4.39h0M2.25 -2.34h0M0.78 -0.50h0M-0.48 1.83h0M-2.14 3.18h0M-1.45 -2.72h0M-0.94 0.89h0M-1.67 3.11h0M2.01 -3.98h0M0.97 -1.70h0M0.23 -0.33h0M-0.68 2.94h0"/><path transform="matrix(-1.978 3.631 2.797 1.523 165 250)" stroke-width="2.60" d="M2.87 -1.10h0M1.33 0.94h0M2.22 -1.56h0M3.63 -2.59h0"/><path transform="matrix(-1.268 3.675 3.050 1.052 195 270)" stroke-width="2.60" d="M-0.77 -4.42h0M1.87 -4.14h0M0.63 -2.20h0M2.66 -2.17h0M1.43 -0.23h0M-1.43 0.23h0M-0.13 2.82h0M1.50 3.08h0M-0.88 -5.27h0M-1.30 -3.39h0M-2.13 -1.89h0M-0.12 -2.12h0M1.45 -2.70h0M0.24 1.33h0M1.66 1.26h0M0.83 2.80h0"/><path transform="matrix(-0.265 3.820 3.257 0.226 195 290)" stroke-width="2.60" d="M-1.17 -2.40h0M-1.03 -4.69h0M0.83 -3.00h0M1.39 -1.42h0M-0.91 -4.27h0M-0.89 -2.97h0M-1.07 0.30h0M-2.20 1.05h0M-0.22 -2.06h0"/><path transform="matrix(-0.253 3.946 3.284 0.211 165 290)" stroke-width="2.60" d="M-1.38 2.18h0M-1.14 -2.37h0M0.24 -4.55h0M0.73 -1.85h0M0.55 1.56h0M1.06 3.89h0M-0.96 -3.87h0M-1.71 -1.28h0M-0.21 -2.63h0M-0.57 1.63h0M-0.31 2.96h0M1.28 -3.68h0M1.04 0.79h0M1.03 2.18h0"/><path transform="matrix(0.796 3.895 3.211 -0.656 165 310)" stroke-width="2.60" d="M-1.60 1.95h0M-0.60 4.04h0M0.62 -0.15h0M1.61 1.94h0M-1.80 0.27h0M1.33 0.36h0M2.02 3.83h0M1.99 -0.93h0"/><path transform="matrix(0.829 3.761 3.174 -0.699 195 310)" stroke-width="2.60" d="M-2.46 -2.51h0M-0.20 -4.67h0M-0.42 -2.25h0M1.97 3.42h0M-2.90 -3.16h0M-2.00 -1.60h0M-1.52 -3.91h0M-1.46 -2.57h0M0.70 -3.38h0M0.94 -1.84h0"/><path transform="matrix(1.653 3.720 2.943 -1.308 165 330)" stroke-width="2.60" d="M-1.18 2.36h0M-0.44 4.49h0M-1.16 3.99h0M-1.14 0.40h0"/><path transform="matrix(1.684 3.568 2.886 -1.362 195 330)" stroke-width="2.60" d="M-3.37 -1.50h0M-1.11 -1.08h0M1.99 -0.29h0"/><path transform="matrix(1.717 3.428 2.830 -1.418 225 330)" stroke-width="2.60" d="M-0.29 -5.12h0"/><path transform="matrix(-0.279 3.707 3.231 0.243 225 290)" stroke-width="2.60" d="M-0.08 1.15h0"/><path transform="matrix(0.866 3.638 3.138 -0.747 225 310)" stroke-width="2.60" d="M2.09 1.81h0"/><path transform="matrix(0.909 3.526 3.101 -0.800 255 310)" stroke-width="2.60" d="M1.58 -0.87h0"/><path transform="matrix(1.752 3.296 2.775 -1.475 255 330)" stroke-width="2.60" d="M-0.04 -1.78h0"/><path transform="matrix(-1.356 3.419 2.954 1.172 255 270)" stroke-width="2.60" d="M-1.78 -3.35h0M-2.65 1.32h0M-0.38 -1.02h0M-0.50 1.46h0M-2.73 1.04h0M-1.58 2.73h0M0.35 2.97h0"/><path transform="matrix(-2.036 3.199 2.621 1.668 255 250)" stroke-width="2.60" d="M1.67 1.30h0"/><path transform="matrix(-1.407 3.302 2.905 1.237 285 270)" stroke-width="2.60" d="M0.36 -4.99h0M-0.46 -2.81h0M-1.01 -1.35h0M1.73 -2.60h0M1.55 -0.11h0M-0.27 0.73h0M-1.86 -1.56h0M0.68 -4.34h0M-0.02 -1.10h0M-0.77 -0.51h0M1.42 0.01h0M3.58 -1.80h0"/><path transform="matrix(-0.316 3.517 3.186 0.287 285 290)" stroke-width="2.60" d="M-2.63 -2.62h0M1.73 -3.75h0M1.54 -1.42h0M1.99 1.77h0M0.64 0.85h0M1.16 3.25h0M-0.32 3.89h0M-2.88 0.61h0M0.74 -3.90h0"/><path transform="matrix(-0.296 3.607 3.208 0.263 255 290)" stroke-width="2.60" d="M-3.04 3.62h0M-1.49 1.42h0M2.12 -0.58h0M1.84 3.29h0M-1.27 0.20h0M2.15 -1.27h0M2.21 -0.17h0M1.26 4.53h0"/><path transform="matrix(-0.341 3.436 3.165 0.314 315 290)" stroke-width="2.60" d="M-1.80 -4.14h0M-0.86 1.49h0"/><path transform="matrix(-1.462 3.192 2.854 1.307 315 270)" stroke-width="2.60" d="M2.54 -0.45h0M0.00 0.00h0M0.54 -3.23h0M-1.00 -1.39h0M0.05 1.78h0M-1.48 3.62h0"/><path transform="matrix(1.083 3.231 2.985 -1.000 345 310)" stroke-width="2.60" d="M1.16 -1.26h0M-2.79 -1.50h0"/><path transform="matrix(-1.523 3.086 2.801 1.382 345 270)" stroke-width="2.60" d="M2.59 -2.16h0M-1.31 -2.50h0M-2.59 2.16h0M1.30 0.71h0M0.99 3.22h0"/><path transform="matrix(-1.589 2.984 2.745 1.462 375 270)" stroke-width="2.60" d="M0.43 -4.30h0M1.04 -2.13h0M4.04 -3.12h0M0.13 1.44h0"/><path transform="matrix(-0.371 3.365 3.146 0.347 345 290)" stroke-width="2.60" d="M-0.98 -4.88h0M-1.31 -1.74h0M1.79 -2.97h0M0.57 1.66h0"/><path transform="matrix(-0.409 3.300 3.127 0.388 375 290)" stroke-width="2.60" d="M1.95 -3.74h0M0.18 -1.57h0M-2.24 -0.29h0"/><path transform="matrix(-1.659 2.883 2.685 1.546 405 270)" stroke-width="2.60" d="M-0.56 1.05h0"/><path transform="matrix(-1.735 2.782 2.622 1.635 435 270)" stroke-width="2.60" d="M0.44 -3.04h0M2.26 -2.32h0"/><path transform="matrix(-0.518 3.187 3.087 0.502 435 290)" stroke-width="2.60" d="M-1.17 -5.05h0"/><path transform="matrix(-0.456 3.241 3.108 0.438 405 290)" stroke-width="2.60" d="M1.57 2.64h0"/><path transform="matrix(1.246 3.051 2.890 -1.180 405 310)" stroke-width="2.60" d="M-2.60 0.69h0M-1.98 -0.88h0M-2.42 -4.15h0M-0.70 0.30h0M2.11 -0.91h0M3.61 1.91h0"/><path transform="matrix(1.346 2.958 2.832 -1.288 435 310)" stroke-width="2.60" d="M-0.99 -1.30h0M-0.70 0.33h0"/><path transform="matrix(1.912 2.843 2.555 -1.718 375 330)" stroke-width="2.60" d="M-2.22 0.69h0"/><path transform="matrix(2.003 2.645 2.443 -1.851 435 330)" stroke-width="2.60" d="M-1.43 0.66h0"/><path transform="matrix(-0.600 3.135 3.063 0.586 465 290)" stroke-width="2.60" d="M1.12 -3.86h0M-0.97 3.07h0"/><path transform="matrix(2.053 2.548 2.384 -1.921 465 330)" stroke-width="2.60" d="M-3.46 -0.69h0M0.02 5.23h0"/><path transform="matrix(1.460 2.861 2.764 -1.410 465 310)" stroke-width="2.60" d="M2.79 0.34h0"/><path transform="matrix(2.383 2.213 2.071 -2.231 525 350)" stroke-width="2.60" d="M-1.25 3.25h0"/><path transform="matrix(1.659 2.883 2.685 -1.546 855 270)" stroke-width="2.60" d="M-2.80 -1.99h0M-0.57 -4.30h0M0.55 -2.20h0M3.64 1.94h0M0.84 -0.05h0"/><path transform="matrix(0.713 3.080 3.031 -0.701 765 290)" stroke-width="2.60" d="M-0.83 3.49h0M2.34 -2.20h0"/><path transform="matrix(-1.589 2.754 2.682 1.548 765 310)" stroke-width="2.60" d="M-0.56 -5.46h0M-1.95 0.24h0M-4.69 1.88h0"/><path transform="matrix(0.600 3.135 3.063 -0.586 795 290)" stroke-width="2.60" d="M1.72 -3.60h0M1.78 -1.16h0"/><path transform="matrix(-1.460 2.861 2.764 1.410 795 310)" stroke-width="2.60" d="M2.12 -4.31h0M0.37 -2.52h0M-0.72 3.24h0"/><path transform="matrix(-2.253 2.226 2.160 2.187 705 330)" stroke-width="2.60" d="M0.54 2.30h0"/><path transform="matrix(1.462 3.192 2.854 -1.307 945 270)" stroke-width="2.60" d="M1.79 -1.36h0M3.16 1.01h0"/><path transform="matrix(0.341 3.437 3.166 -0.314 945 290)" stroke-width="2.60" d="M-0.00 3.95h0"/><path transform="matrix(-1.870 2.948 2.610 1.655 915 330)" stroke-width="2.60" d="M-0.60 -0.43h0"/><path transform="matrix(1.356 3.419 2.954 -1.171 1005 270)" stroke-width="2.60" d="M-2.84 -0.81h0"/><path transform="matrix(0.279 3.707 3.231 -0.243 1035 290)" stroke-width="2.60" d="M-2.16 -2.13h0"/><path transform="matrix(0.265 3.820 3.257 -0.226 1065 290)" stroke-width="2.60" d="M-2.79 -2.84h0"/><path transform="matrix(1.268 3.675 3.050 -1.052 1065 270)" stroke-width="2.60" d="M-0.23 -0.32h0"/><path transform="matrix(-0.866 3.638 3.138 0.747 1035 310)" stroke-width="2.60" d="M1.75 -3.50h0"/><path transform="matrix(1.148 4.340 3.244 -0.858 1185 270)" stroke-width="2.60" d="M0.47 -0.55h0"/><path transform="matrix(-0.909 3.526 3.101 0.800 1005 310)" stroke-width="2.60" d="M1.03 -4.53h0"/><path transform="matrix(0.296 3.607 3.208 -0.263 1005 290)" stroke-width="2.60" d="M-3.07 -4.16h0M-1.21 -4.39h0M1.42 -4.27h0"/></g>
<g fill="#fff"></g>
<g stroke="#bbbbe9" stroke-linecap="round" fill="none"><path transform="matrix(5.427 1.932 0.818 -2.299 345 510)" stroke-width="2.60" d="M0.58 2.30h0M1.54 2.02h0"/><path transform="matrix(5.283 1.887 0.822 -2.302 375 510)" stroke-width="2.60" d="M-0.54 -2.61h0"/><path transform="matrix(5.882 1.650 0.641 -2.286 375 530)" stroke-width="2.60" d="M0.68 1.58h0M2.06 1.85h0"/><path transform="matrix(5.749 1.615 0.642 -2.286 405 530)" stroke-width="2.60" d="M-0.00 -2.55h0"/><path transform="matrix(5.410 1.607 0.690 -2.323 465 530)" stroke-width="2.60" d="M-1.61 -1.83h0"/></g>
<path fill="#eda04c" stroke="#eda04c" stroke-width="8" stroke-linejoin="round" d="M693.3,538.3 698.3,527.5 710.8,513.3 726.7,500.8 742.5,490.8 757.5,484.7 773.7,478.8 790.0,476.3 806.3,475.5 819.2,477.7 829.2,482.2 834.2,489.2 832.0,495.8 827.5,501.7 820.8,506.7 811.7,512.0 821.7,512.0 834.2,514.2 832.5,517.5 819.2,518.7 802.5,521.3 792.5,525.0 785.8,528.3 772.5,533.3 755.8,539.7 739.7,544.2 720.0,547.0 704.2,546.3 695.0,543.3Z"/>
<g stroke="#eda04c" stroke-linecap="round" fill="none"><path transform="matrix(-4.131 1.597 1.071 2.772 675 530)" stroke-width="1.30" d="M-2.31 4.33h0M-2.31 4.33h0"/><path transform="matrix(-4.520 1.695 0.963 2.567 705 530)" stroke-width="1.30" d="M3.35 0.28h0M3.02 -0.26h0M2.69 -0.80h0M2.36 -1.34h0M2.03 -1.88h0M1.70 -2.42h0M1.29 -2.80h0M0.88 -3.18h0M0.47 -3.56h0M0.06 -3.94h0"/><path transform="matrix(-3.982 1.748 1.159 2.640 705 510)" stroke-width="1.30" d="M1.32 2.29h0M0.85 1.96h0M0.38 1.64h0M-0.08 1.32h0M-0.55 0.99h0M-1.02 0.80h0M-1.50 0.61h0M-1.97 0.42h0M-2.44 0.23h0M-2.92 0.04h0M-3.39 -0.15h0"/><path transform="matrix(-4.247 1.814 1.075 2.517 735 510)" stroke-width="1.30" d="M2.34 -4.73h0M1.89 -4.94h0"/><path transform="matrix(-3.814 1.869 1.247 2.546 735 490)" stroke-width="1.30" d="M3.47 1.25h0M2.98 1.09h0M2.47 1.02h0M1.96 0.96h0M1.46 0.89h0M0.95 0.83h0M0.44 0.76h0M-0.06 0.70h0M-0.57 0.64h0M-1.08 0.57h0M-1.58 0.51h0M-2.13 0.54h0M-2.69 0.57h0M-3.24 0.60h0"/><path transform="matrix(-4.012 1.926 1.183 2.465 765 490)" stroke-width="1.30" d="M2.46 -4.14h0M1.93 -4.12h0M1.40 -4.09h0M0.88 -4.07h0M0.38 -3.98h0M-0.11 -3.89h0"/><path transform="matrix(-3.643 1.982 1.343 2.469 765 470)" stroke-width="1.30" d="M1.53 2.61h0M1.01 2.73h0M0.48 2.86h0M-0.04 2.99h0M-0.57 3.11h0M-1.09 3.24h0M-1.57 3.50h0M-2.05 3.75h0M-2.53 4.01h0"/><path transform="matrix(-3.799 2.038 1.295 2.414 795 470)" stroke-width="1.30" d="M3.23 -0.83h0M2.77 -0.57h0M2.31 -0.31h0M1.85 -0.05h0M1.39 0.21h0M0.95 0.54h0M0.51 0.86h0M0.08 1.19h0M-0.36 1.51h0M-0.80 1.84h0M-1.24 2.17h0M-1.67 2.49h0M-2.11 2.82h0M-2.52 3.33h0"/><path transform="matrix(-3.956 2.084 1.251 2.374 825 470)" stroke-width="1.30" d="M3.10 -1.31h0M2.70 -0.79h0M2.30 -0.27h0M1.91 0.26h0M1.51 0.78h0M1.21 1.39h0M0.91 2.01h0M0.62 2.62h0M0.32 3.23h0M0.02 3.84h0"/><path transform="matrix(-4.398 1.989 1.069 2.365 825 490)" stroke-width="1.30" d="M-2.11 -2.45h0M-2.19 -1.68h0M-2.27 -0.91h0M-2.35 -0.14h0M-2.42 0.63h0M-2.50 1.40h0M-2.21 2.03h0M-1.91 2.66h0M-1.61 3.30h0M-1.32 3.93h0M-0.94 4.31h0"/><path transform="matrix(-4.945 1.840 0.870 2.338 825 510)" stroke-width="1.30" d="M-1.99 -2.71h0M-1.66 -2.26h0M-1.33 -1.81h0M-0.95 -1.57h0M-0.57 -1.33h0M-0.19 -1.10h0M0.19 -0.86h0M0.63 -0.71h0M1.08 -0.56h0M1.53 -0.42h0M1.97 -0.27h0M1.60 -0.03h0M1.22 0.22h0M0.84 0.46h0M0.46 0.71h0M0.07 1.13h0M-0.32 1.56h0M-0.71 1.99h0M-1.10 2.41h0M-1.49 2.84h0M-1.89 3.27h0M-1.56 3.90h0M-1.23 4.53h0M-0.82 4.36h0M-0.42 4.20h0M-0.01 4.03h0M0.39 3.87h0"/><path transform="matrix(-5.596 1.600 0.657 2.297 825 530)" stroke-width="1.30" d="M-0.35 -4.06h0M0.02 -4.16h0M0.39 -4.26h0M0.75 -4.38h0M1.11 -4.49h0M1.47 -4.61h0M1.83 -4.72h0"/><path transform="matrix(-5.411 1.607 0.690 2.323 795 530)" stroke-width="1.30" d="M-2.86 -1.30h0M-2.49 -1.42h0M-2.12 -1.54h0M-1.75 -1.66h0M-1.38 -1.63h0M-1.00 -1.60h0M-0.63 -1.57h0M-0.26 -1.54h0M0.11 -1.51h0M0.55 -1.34h0M0.98 -1.16h0M1.42 -0.98h0M1.83 -0.91h0M2.25 -0.84h0M2.67 -0.77h0"/><path transform="matrix(-5.180 1.634 0.747 2.368 765 530)" stroke-width="1.30" d="M-2.06 2.83h0M-1.62 2.88h0M-1.19 2.93h0M-0.77 3.00h0M-0.36 3.06h0M0.05 3.13h0M0.46 3.20h0M0.87 3.27h0"/><path transform="matrix(-6.025 1.238 0.469 2.283 765 550)" stroke-width="1.30" d="M0.34 -4.56h0M0.70 -4.39h0M1.05 -4.22h0M1.41 -4.14h0M1.76 -4.06h0M2.11 -3.97h0"/><path transform="matrix(-5.812 1.302 0.520 2.322 735 550)" stroke-width="1.30" d="M-2.40 -1.17h0M-2.03 -1.10h0M-1.67 -1.04h0M-1.31 -0.97h0M-0.94 -0.91h0M-0.56 -0.96h0M-0.19 -1.01h0M0.19 -1.06h0M0.57 -1.12h0M0.95 -1.17h0M1.32 -1.22h0M1.70 -1.27h0M2.08 -1.33h0M2.46 -1.38h0"/><path transform="matrix(-5.466 1.421 0.626 2.408 705 550)" stroke-width="1.30" d="M-2.22 1.27h0M-1.87 1.01h0M-1.51 0.76h0M-1.16 0.51h0M-0.81 0.26h0M-0.46 0.01h0M-0.10 -0.24h0M0.25 -0.49h0M0.55 -0.96h0M0.85 -1.43h0M1.16 -1.89h0M1.46 -2.36h0M1.76 -2.83h0M2.06 -3.29h0M2.11 -4.24h0M2.15 -5.19h0"/></g>
<g stroke="#e585b8" stroke-linecap="round" fill="none"><path transform="matrix(-0.228 4.425 3.382 0.175 75 290)" stroke-width="2.60" d="M0.21 4.20h0"/><path transform="matrix(0.745 4.209 3.289 -0.582 105 310)" stroke-width="2.60" d="M-2.64 -1.93h0M-0.90 3.50h0M-0.35 -3.97h0M-0.61 -0.12h0"/><path transform="matrix(-0.235 4.246 3.347 0.185 105 290)" stroke-width="2.60" d="M1.52 1.10h0"/><path transform="matrix(0.726 4.393 3.330 -0.550 75 310)" stroke-width="2.60" d="M1.11 1.26h0"/><path transform="matrix(1.625 3.886 3.000 -1.255 135 330)" stroke-width="2.60" d="M-3.02 -3.36h0M-0.03 3.90h0M1.34 -1.84h0M1.86 1.77h0"/><path transform="matrix(1.580 4.265 3.119 -1.155 75 330)" stroke-width="2.60" d="M1.34 2.79h0"/><path transform="matrix(1.601 4.066 3.059 -1.204 105 330)" stroke-width="2.60" d="M-0.88 -2.27h0M-0.54 1.64h0M1.49 -0.51h0M1.76 3.17h0"/><path transform="matrix(2.294 3.899 2.768 -1.629 105 350)" stroke-width="2.60" d="M-3.03 -1.10h0M-0.48 0.39h0M0.10 3.83h0"/><path transform="matrix(0.769 4.044 3.249 -0.618 135 310)" stroke-width="2.60" d="M1.94 0.57h0"/><path transform="matrix(0.796 3.895 3.211 -0.656 165 310)" stroke-width="2.60" d="M0.48 -4.79h0"/><path transform="matrix(1.653 3.720 2.943 -1.308 165 330)" stroke-width="2.60" d="M-2.35 -0.95h0M0.17 0.47h0M-0.35 -2.92h0M1.97 -1.39h0"/><path transform="matrix(2.297 3.539 2.635 -1.710 165 350)" stroke-width="2.60" d="M0.31 2.58h0M-3.10 -2.04h0M-0.60 -0.75h0M2.19 0.62h0M-1.44 -4.44h0M1.18 -2.92h0"/><path transform="matrix(2.295 3.711 2.700 -1.670 135 350)" stroke-width="2.60" d="M1.48 0.29h0"/><path transform="matrix(2.820 3.388 2.349 -1.954 165 370)" stroke-width="2.60" d="M-0.00 2.13h0M-0.99 -1.29h0"/><path transform="matrix(2.848 3.559 2.412 -1.930 135 370)" stroke-width="2.60" d="M0.54 4.89h0"/><path transform="matrix(2.704 2.851 2.154 -2.043 285 370)" stroke-width="2.60" d="M0.36 4.58h0"/><path transform="matrix(2.674 2.745 2.120 -2.065 315 370)" stroke-width="2.60" d="M-2.76 -1.24h0M-0.04 4.38h0M-0.74 -3.00h0M-0.16 0.59h0M1.98 2.22h0M1.86 -1.56h0"/><path transform="matrix(2.309 2.871 2.364 -1.901 315 350)" stroke-width="2.60" d="M1.62 -1.94h0"/><path transform="matrix(2.645 2.647 2.090 -2.089 345 370)" stroke-width="2.60" d="M-1.26 -3.19h0M1.26 -0.80h0"/><path transform="matrix(3.063 2.749 1.931 -2.152 285 390)" stroke-width="2.60" d="M0.91 5.03h0"/><path transform="matrix(3.007 2.649 1.908 -2.165 315 390)" stroke-width="2.60" d="M0.53 5.27h0M-0.70 -2.39h0M0.51 1.39h0M2.65 3.25h0M2.04 -0.59h0"/><path transform="matrix(2.951 2.558 1.891 -2.181 345 390)" stroke-width="2.60" d="M-2.87 0.07h0M-0.55 -1.79h0M2.02 3.90h0M-1.04 -5.43h0"/><path transform="matrix(2.336 2.400 2.165 -2.108 465 350)" stroke-width="2.60" d="M-3.47 0.67h0M0.35 5.01h0M-3.16 -3.33h0M-1.12 -1.30h0M0.65 1.01h0M2.43 3.04h0M-0.56 -5.01h0M1.35 -2.84h0M3.12 -0.52h0M4.90 1.51h0M-3.44 0.83h0M-1.62 2.90h0M0.20 4.98h0"/><path transform="matrix(2.053 2.548 2.384 -1.921 465 330)" stroke-width="2.60" d="M2.78 -1.34h0"/><path transform="matrix(2.314 2.668 2.279 -1.977 375 350)" stroke-width="2.60" d="M-0.23 -1.26h0M2.69 1.14h0"/><path transform="matrix(2.325 2.487 2.203 -2.060 435 350)" stroke-width="2.60" d="M-2.56 -2.51h0M-0.72 -0.29h0M1.13 1.64h0M-0.34 -4.29h0M1.49 -2.07h0M3.33 0.15h0"/><path transform="matrix(2.353 2.311 2.124 -2.163 495 350)" stroke-width="2.60" d="M-1.97 -1.85h0M0.50 -3.44h0"/><path transform="matrix(2.318 2.575 2.241 -2.017 405 350)" stroke-width="2.60" d="M-1.12 -4.48h0M0.90 -2.20h0M3.62 0.97h0"/><path transform="matrix(2.617 2.556 2.065 -2.114 375 370)" stroke-width="2.60" d="M-1.31 1.79h0M0.95 3.66h0M0.09 -0.57h0M3.06 1.87h0"/><path transform="matrix(2.591 2.471 2.042 -2.142 405 370)" stroke-width="2.60" d="M-2.96 -1.23h0M-0.87 0.61h0M1.09 2.60h0M-0.83 -3.04h0M1.26 -1.20h0M3.11 0.93h0"/><path transform="matrix(2.569 2.389 2.022 -2.174 435 370)" stroke-width="2.60" d="M-2.07 -1.24h0M-0.27 1.01h0M1.76 2.96h0M1.89 -0.83h0"/><path transform="matrix(2.552 2.308 2.001 -2.213 465 370)" stroke-width="2.60" d="M-2.54 -1.92h0M1.29 2.36h0M1.36 -1.71h0M3.60 0.63h0"/><path transform="matrix(2.544 2.222 1.975 -2.261 495 370)" stroke-width="2.60" d="M-3.30 -2.25h0M-1.38 -0.09h0M-1.09 -3.86h0"/><path transform="matrix(2.897 2.474 1.879 -2.199 375 390)" stroke-width="2.60" d="M-0.47 3.47h0M1.32 4.94h0M-3.25 -2.98h0"/><path transform="matrix(2.845 2.395 1.870 -2.222 405 390)" stroke-width="2.60" d="M-2.67 0.26h0M1.24 4.75h0M-2.68 -3.33h0M-0.55 -1.02h0"/><path transform="matrix(2.797 2.318 1.865 -2.249 435 390)" stroke-width="2.60" d="M-1.83 -0.14h0M0.29 2.58h0"/><path transform="matrix(2.172 2.346 2.251 -2.083 525 330)" stroke-width="2.60" d="M0.31 3.70h0M0.14 3.75h0"/><path transform="matrix(2.383 2.213 2.071 -2.231 525 350)" stroke-width="2.60" d="M1.05 5.07h0"/><path transform="matrix(-2.439 -2.088 -1.991 2.325 555 350)" stroke-width="2.60" d="M1.82 0.78h0M-0.10 -1.38h0M-1.79 -3.33h0"/><path transform="matrix(-0.316 3.517 3.186 0.287 285 290)" stroke-width="1.56" d="M-0.34 -0.19h0"/><path transform="matrix(-1.512 2.714 2.707 1.508 585 290)" stroke-width="2.60" d="M-1.61 3.72h0"/><path transform="matrix(2.098 2.304 2.286 -2.082 585 310)" stroke-width="2.60" d="M-1.00 3.10h0M0.60 5.46h0M3.97 0.19h0"/><path transform="matrix(-2.155 2.228 2.226 2.154 615 290)" stroke-width="2.60" d="M3.71 0.22h0M1.46 1.97h0M-0.79 3.72h0M-0.29 -0.28h0"/><path transform="matrix(-2.457 -1.898 -1.893 2.450 615 310)" stroke-width="2.60" d="M4.07 2.64h0M2.09 0.60h0M0.10 -1.45h0M-1.88 -3.50h0M1.96 4.07h0M-0.03 2.02h0M-2.01 -0.03h0M-4.00 -2.08h0"/><path transform="matrix(-2.455 1.900 1.895 2.449 645 310)" stroke-width="2.60" d="M1.39 -4.14h0M0.07 -0.57h0M-2.40 0.84h0"/><path transform="matrix(-2.748 -1.478 -1.467 2.728 615 330)" stroke-width="2.60" d="M3.74 0.65h0M1.46 -1.04h0M-0.82 -2.73h0"/><path transform="matrix(-2.608 -1.695 -1.687 2.597 645 270)" stroke-width="2.60" d="M1.37 2.34h0M-0.77 0.46h0M-2.91 -1.42h0"/><path transform="matrix(2.154 2.229 2.227 -2.153 645 290)" stroke-width="2.60" d="M-2.59 1.38h0M-0.92 3.69h0M-1.12 -1.16h0M0.84 0.87h0M2.51 3.18h0M3.43 -0.51h0"/><path transform="matrix(-2.258 -2.163 -2.136 2.230 675 270)" stroke-width="2.60" d="M1.53 5.41h0M0.24 -2.01h0M-2.55 -0.23h0"/><path transform="matrix(1.512 2.714 2.707 -1.507 675 290)" stroke-width="2.60" d="M-4.38 -1.25h0M-2.07 -2.07h0M-0.24 -5.41h0M0.78 -2.74h0M-1.60 0.43h0M2.07 2.07h0M0.62 -2.20h0"/><path transform="matrix(-2.098 2.304 2.287 2.082 675 310)" stroke-width="2.60" d="M2.08 -4.10h0"/><path transform="matrix(1.900 2.490 2.457 -1.876 555 310)" stroke-width="2.60" d="M-1.79 -3.71h0M-0.41 -1.21h0M1.29 1.04h0M4.88 1.82h0M3.43 -0.11h0"/><path transform="matrix(2.253 2.225 2.160 -2.187 555 330)" stroke-width="2.60" d="M-4.75 -0.83h0M-3.06 1.46h0M-2.25 -2.29h0M-0.56 0.00h0M1.13 2.29h0M1.66 -1.74h0M3.63 0.26h0"/><path transform="matrix(-2.384 -2.045 -2.009 2.341 585 330)" stroke-width="2.60" d="M4.40 2.24h0M2.29 4.13h0"/><path transform="matrix(2.445 2.266 2.051 -2.213 765 230)" stroke-width="2.60" d="M-0.98 2.39h0M0.95 4.36h0M-0.59 -1.73h0M1.33 0.24h0M3.01 2.51h0"/><path transform="matrix(2.440 2.353 2.085 -2.162 795 230)" stroke-width="2.60" d="M-3.66 -0.51h0M-1.60 -2.32h0M0.26 -0.30h0"/><path transform="matrix(2.234 2.376 2.220 -2.088 765 250)" stroke-width="2.60" d="M-0.64 3.46h0M-0.26 -0.30h0"/><path transform="matrix(2.200 2.468 2.272 -2.025 795 250)" stroke-width="2.60" d="M-4.99 -1.77h0M-3.23 0.38h0M-1.75 2.80h0M-2.77 -3.37h0M-1.01 -1.23h0M0.75 0.92h0M-0.54 -4.98h0M1.22 -2.83h0"/><path transform="matrix(1.904 2.575 2.477 -1.832 765 270)" stroke-width="2.60" d="M-0.89 4.21h0"/><path transform="matrix(-2.470 -1.964 -1.918 2.413 675 250)" stroke-width="2.60" d="M-3.78 -1.00h0"/><path transform="matrix(-2.346 -2.156 -2.076 2.258 705 250)" stroke-width="2.60" d="M1.51 3.11h0"/><path transform="matrix(2.110 2.335 2.287 -2.067 705 270)" stroke-width="2.60" d="M-3.34 -0.75h0M-1.77 1.63h0M-2.31 -4.43h0M-0.74 -2.05h0M0.83 0.33h0"/><path transform="matrix(1.123 2.910 2.893 -1.116 705 290)" stroke-width="2.60" d="M-3.83 -3.27h0M-3.19 -0.49h0M-1.07 -3.91h0"/><path transform="matrix(2.789 2.603 1.994 -2.137 915 210)" stroke-width="2.60" d="M0.78 3.29h0"/><path transform="matrix(3.162 2.610 1.815 -2.198 945 190)" stroke-width="2.60" d="M-1.11 -4.96h0"/><path transform="matrix(2.832 2.697 2.017 -2.118 945 210)" stroke-width="2.60" d="M-2.01 1.58h0M0.29 3.32h0M-2.29 -1.74h0M0.22 -0.31h0M2.29 1.74h0M-0.30 -3.92h0"/><path transform="matrix(2.874 2.800 2.046 -2.100 975 210)" stroke-width="2.60" d="M-1.69 -1.30h0M-1.17 2.25h0M1.33 0.58h0"/><path transform="matrix(2.917 2.913 2.081 -2.084 1005 210)" stroke-width="2.60" d="M-1.29 -1.80h0M0.43 -3.60h0"/><path transform="matrix(2.488 2.806 2.244 -1.989 945 230)" stroke-width="2.60" d="M-1.77 2.52h0M0.49 4.47h0M0.22 0.31h0M2.49 2.25h0M-0.08 -3.25h0M2.19 -1.31h0"/><path transform="matrix(2.475 2.705 2.207 -2.019 915 230)" stroke-width="2.60" d="M1.19 4.33h0"/><path transform="matrix(2.502 2.916 2.285 -1.960 975 230)" stroke-width="2.60" d="M-1.59 -0.45h0M-0.88 3.15h0M3.07 2.66h0"/><path transform="matrix(2.515 3.035 2.330 -1.931 1005 230)" stroke-width="2.60" d="M-3.40 -2.76h0M-1.05 -1.01h0M1.10 0.43h0M0.90 -3.12h0"/><path transform="matrix(2.077 2.960 2.514 -1.764 945 250)" stroke-width="2.60" d="M0.57 4.50h0"/><path transform="matrix(2.056 3.076 2.567 -1.716 975 250)" stroke-width="2.60" d="M-1.68 2.81h0"/><path transform="matrix(2.036 3.199 2.621 -1.668 1005 250)" stroke-width="2.60" d="M-3.51 -2.99h0M-0.96 2.65h0M-0.99 -1.14h0"/><path transform="matrix(1.961 3.801 2.859 -1.475 1125 250)" stroke-width="2.60" d="M-1.32 -0.85h0M-1.02 2.45h0M1.18 0.50h0"/><path transform="matrix(1.947 3.986 2.924 -1.428 1155 250)" stroke-width="2.60" d="M-1.99 -3.81h0M0.77 -2.22h0"/><path transform="matrix(1.199 3.976 3.145 -0.949 1125 270)" stroke-width="2.60" d="M-1.35 4.89h0M-1.27 -2.69h0M-1.35 0.91h0M1.07 3.17h0"/><path transform="matrix(1.171 4.149 3.194 -0.902 1155 270)" stroke-width="2.60" d="M-1.03 -1.97h0M1.12 -0.41h0M0.97 -3.88h0"/><path transform="matrix(0.235 4.247 3.347 -0.185 1155 290)" stroke-width="2.60" d="M-0.93 -1.06h0M-0.78 -4.43h0M1.08 -2.32h0"/><path transform="matrix(0.243 4.088 3.314 -0.197 1125 290)" stroke-width="2.60" d="M-1.29 -1.41h0M-2.04 2.04h0M0.65 0.71h0M2.28 2.85h0"/><path transform="matrix(0.228 4.425 3.382 -0.175 1185 290)" stroke-width="2.60" d="M0.48 -2.25h0"/></g>
<g stroke="#3fb575" stroke-linecap="round" fill="none"><path transform="matrix(2.302 3.238 2.516 -1.788 225 350)" stroke-width="2.60" d="M-1.95 -0.19h0"/><path transform="matrix(2.309 2.871 2.364 -1.901 315 350)" stroke-width="2.60" d="M-1.38 -4.22h0M-1.42 -3.90h0"/><path transform="matrix(2.645 2.647 2.090 -2.089 345 370)" stroke-width="2.60" d="M1.89 2.04h0M2.05 2.19h0"/><path transform="matrix(3.176 2.979 1.997 -2.129 225 390)" stroke-width="2.60" d="M-2.48 -2.73h0"/><path transform="matrix(3.199 2.139 1.589 -2.377 465 430)" stroke-width="2.60" d="M-3.85 -1.01h0"/><path transform="matrix(3.798 2.038 1.296 -2.414 465 470)" stroke-width="2.60" d="M0.70 2.15h0"/><path transform="matrix(-3.226 -1.456 -1.276 2.826 585 450)" stroke-width="2.60" d="M2.42 -1.40h0"/><path transform="matrix(2.797 2.318 1.865 -2.249 435 390)" stroke-width="2.60" d="M-0.33 3.84h0"/><path transform="matrix(0.371 3.365 3.146 -0.347 915 290)" stroke-width="2.60" d="M-1.60 3.54h0M-0.21 4.40h0M1.28 3.57h0M2.14 3.28h0M2.98 2.45h0M2.98 3.71h0M2.99 4.32h0"/><path transform="matrix(0.341 3.437 3.166 -0.314 945 290)" stroke-width="2.60" d="M0.57 -4.63h0M-0.20 -2.43h0M-3.04 -4.32h0M-2.67 -3.69h0M-2.86 -2.07h0M-1.72 -4.07h0M-1.84 -2.92h0M-1.32 -2.18h0M-1.12 -3.75h0M-0.71 -2.19h0M0.19 -4.52h0M0.15 -3.55h0M0.10 -1.92h0M0.83 -4.82h0M0.98 -4.27h0M1.40 -2.30h0M1.57 -1.07h0M2.61 -3.16h0M2.51 -1.92h0M2.20 -0.85h0"/><path transform="matrix(-1.083 3.231 2.985 1.000 915 310)" stroke-width="2.60" d="M-2.97 3.01h0M-3.03 2.31h0M-3.30 3.42h0M-0.10 4.17h0"/><path transform="matrix(-1.017 3.324 3.026 0.925 945 310)" stroke-width="2.60" d="M-1.44 -1.95h0M-1.93 -3.77h0M-1.17 -3.94h0M-1.27 -3.21h0M-2.00 -1.68h0M-1.32 0.46h0"/><path transform="matrix(-1.957 2.743 2.499 1.783 855 330)" stroke-width="2.60" d="M1.08 3.02h0M0.73 3.08h0"/><path transform="matrix(-2.314 2.668 2.279 1.977 885 350)" stroke-width="2.60" d="M1.39 2.36h0"/><path transform="matrix(-3.033 2.260 1.716 2.303 825 410)" stroke-width="2.60" d="M-0.58 -3.72h0M2.50 -0.22h0"/><path transform="matrix(-2.966 2.186 1.723 2.338 795 410)" stroke-width="2.60" d="M0.93 2.76h0"/><path transform="matrix(-3.116 2.061 1.604 2.426 765 430)" stroke-width="2.60" d="M3.22 -2.94h0"/><path transform="matrix(-3.354 2.022 1.480 2.455 765 450)" stroke-width="2.60" d="M-1.13 -2.38h0M-3.75 0.72h0"/><path transform="matrix(-3.501 1.899 1.381 2.547 735 470)" stroke-width="2.60" d="M-1.27 -1.85h0"/><path transform="matrix(-3.373 1.452 1.226 2.849 675 470)" stroke-width="2.60" d="M1.89 1.23h0"/><path transform="matrix(-3.548 1.476 1.188 2.856 675 490)" stroke-width="2.60" d="M3.61 -0.37h0"/><path transform="matrix(-3.771 -0.777 -0.652 3.164 615 510)" stroke-width="2.60" d="M-0.18 -1.53h0"/><path transform="matrix(-5.124 1.856 0.838 2.314 855 510)" stroke-width="2.60" d="M-2.82 -0.78h0"/><path transform="matrix(-3.800 2.575 1.535 2.265 975 430)" stroke-width="2.60" d="M1.49 -1.33h0"/><path transform="matrix(-5.026 2.164 0.993 2.307 945 490)" stroke-width="2.60" d="M1.44 -0.52h0M1.24 -0.44h0"/><path transform="matrix(-3.814 1.869 1.247 2.546 735 490)" stroke-width="2.60" d="M-1.13 0.56h0"/><path transform="matrix(-5.283 1.886 0.822 2.302 885 510)" stroke-width="2.60" d="M2.08 -4.89h0"/><path transform="matrix(-3.401 3.617 2.216 2.084 1155 390)" stroke-width="2.60" d="M1.22 -1.00h0"/><path transform="matrix(-4.298 3.209 1.702 2.279 1125 430)" stroke-width="2.60" d="M2.43 -2.38h0"/><path transform="matrix(-4.557 2.802 1.418 2.306 1065 450)" stroke-width="2.60" d="M1.74 -4.81h0"/><path transform="matrix(1.462 3.192 2.854 -1.307 945 270)" stroke-width="2.60" d="M0.45 -5.45h0M1.22 -3.96h0"/><path transform="matrix(-3.129 3.682 2.352 1.998 105 210)" stroke-width="2.60" d="M1.77 0.23h0"/><path transform="matrix(-1.589 2.984 2.745 1.462 375 270)" stroke-width="1.82" d="M2.65 -2.84h0"/><path transform="matrix(2.234 2.376 2.220 -2.088 765 250)" stroke-width="1.30" d="M3.40 0.52h0"/><path transform="matrix(1.659 2.883 2.685 -1.546 855 270)" stroke-width="2.60" d="M1.78 1.70h0"/><path transform="matrix(2.099 2.852 2.463 -1.813 915 250)" stroke-width="2.60" d="M1.82 1.49h0M3.59 1.51h0"/><path transform="matrix(1.523 3.086 2.801 -1.382 915 270)" stroke-width="2.60" d="M-0.99 2.32h0"/><path transform="matrix(-1.159 3.141 2.940 1.085 885 310)" stroke-width="2.60" d="M-0.96 0.47h0M0.88 2.05h0"/><path transform="matrix(2.874 2.800 2.046 -2.100 975 210)" stroke-width="2.60" d="M0.92 4.20h0M-1.14 -3.90h0"/><path transform="matrix(2.502 2.916 2.285 -1.960 975 230)" stroke-width="2.60" d="M-3.11 -2.07h0M-0.74 -3.02h0M0.56 -1.71h0"/><path transform="matrix(2.488 2.806 2.244 -1.989 945 230)" stroke-width="2.60" d="M2.79 0.80h0"/><path transform="matrix(2.056 3.076 2.567 -1.716 975 250)" stroke-width="2.60" d="M-2.16 -0.22h0M-1.69 1.35h0"/></g>
<g stroke="#9a9a9a" stroke-linecap="round" fill="none"><path transform="matrix(3.183 2.405 1.705 -2.256 375 410)" stroke-width="2.60" d="M-0.54 1.27h0M-0.85 2.74h0M-0.67 2.24h0"/><path transform="matrix(-2.552 -2.123 -1.934 2.326 525 370)" stroke-width="2.60" d="M1.66 -1.61h0"/><path transform="matrix(2.755 2.240 1.858 -2.285 465 390)" stroke-width="2.60" d="M3.56 1.25h0M3.61 1.25h0"/><path transform="matrix(-2.911 -2.104 -1.724 2.385 495 410)" stroke-width="2.60" d="M0.31 -2.75h0"/><path transform="matrix(2.897 2.474 1.879 -2.199 375 390)" stroke-width="2.60" d="M-0.70 -0.53h0M-1.12 -0.50h0M-1.05 -0.51h0"/><path transform="matrix(3.597 2.410 1.528 -2.280 345 430)" stroke-width="2.60" d="M1.88 3.38h0M1.70 3.63h0"/><path transform="matrix(3.847 2.267 1.365 -2.316 375 450)" stroke-width="2.60" d="M-0.74 3.52h0"/><path transform="matrix(3.721 2.209 1.387 -2.337 405 450)" stroke-width="2.60" d="M-0.97 0.43h0"/><path transform="matrix(-3.031 -1.799 -1.546 2.606 555 430)" stroke-width="2.60" d="M-3.26 -1.55h0M-0.41 0.42h0"/><path transform="matrix(4.944 1.840 0.870 -2.338 435 510)" stroke-width="2.60" d="M0.02 4.17h0M-0.02 3.97h0"/><path transform="matrix(4.739 1.833 0.919 -2.376 465 510)" stroke-width="2.60" d="M-0.49 1.18h0M-0.54 0.98h0"/><path transform="matrix(4.884 1.674 0.838 -2.445 525 530)" stroke-width="2.60" d="M-1.47 0.63h0"/><path transform="matrix(4.505 1.830 0.988 -2.434 495 510)" stroke-width="2.60" d="M-2.87 1.27h0"/><path transform="matrix(2.552 2.308 2.001 -2.213 465 370)" stroke-width="2.60" d="M-1.53 -1.68h0"/><path transform="matrix(-2.876 2.000 1.706 2.453 735 410)" stroke-width="2.60" d="M1.66 -2.94h0"/><path transform="matrix(-2.880 1.845 1.639 2.558 705 410)" stroke-width="2.60" d="M1.59 0.86h0"/><path transform="matrix(-3.289 0.708 0.663 3.080 645 430)" stroke-width="2.60" d="M-1.47 0.39h0"/><path transform="matrix(-3.643 1.982 1.343 2.469 765 470)" stroke-width="2.60" d="M0.98 0.39h0"/><path transform="matrix(-3.256 1.926 1.495 2.529 735 450)" stroke-width="2.60" d="M-3.52 -0.81h0"/><path transform="matrix(-5.411 1.607 0.690 2.323 795 530)" stroke-width="2.60" d="M-2.35 0.91h0"/><path transform="matrix(-6.382 1.277 0.455 2.274 855 550)" stroke-width="2.60" d="M-0.50 -3.38h0"/><path transform="matrix(-3.232 3.114 2.040 2.118 1065 390)" stroke-width="2.60" d="M-2.72 1.71h0"/><path transform="matrix(-3.288 3.263 2.091 2.107 1095 390)" stroke-width="2.60" d="M1.66 -0.55h0"/><path transform="matrix(-3.176 2.979 1.997 2.129 1035 390)" stroke-width="2.60" d="M-0.74 5.33h0"/><path transform="matrix(-3.661 3.008 1.815 2.208 1065 410)" stroke-width="2.60" d="M-0.90 -2.21h0"/><path transform="matrix(-2.439 -2.088 -1.991 2.325 555 350)" stroke-width="2.08" d="M3.24 2.05h0"/><path transform="matrix(1.790 3.173 2.719 -1.533 285 330)" stroke-width="2.60" d="M-2.56 1.22h0"/><path transform="matrix(-2.000 2.462 2.391 1.942 525 270)" stroke-width="2.60" d="M0.36 0.83h0"/><path transform="matrix(-2.610 1.692 1.685 2.598 615 270)" stroke-width="2.60" d="M1.60 -1.23h0"/><path transform="matrix(0.518 3.187 3.087 -0.502 825 290)" stroke-width="2.60" d="M2.04 -1.96h0"/><path transform="matrix(-1.589 2.754 2.682 1.548 765 310)" stroke-width="2.60" d="M-0.12 5.06h0"/></g>
<g stroke="#7372b6" stroke-linecap="round" fill="none"><path transform="matrix(2.569 2.389 2.022 -2.174 435 370)" stroke-width="2.60" d="M3.83 1.11h0M4.05 1.27h0"/><path transform="matrix(-2.552 -2.123 -1.934 2.326 525 370)" stroke-width="2.60" d="M-4.84 -0.80h0"/><path transform="matrix(-2.911 -2.104 -1.724 2.385 495 410)" stroke-width="2.60" d="M1.43 0.20h0"/><path transform="matrix(3.594 2.152 1.416 -2.365 435 450)" stroke-width="2.60" d="M1.59 -2.59h0"/><path transform="matrix(4.739 1.833 0.919 -2.376 465 510)" stroke-width="2.60" d="M-2.52 0.74h0M-2.61 0.79h0"/><path transform="matrix(5.595 1.601 0.657 -2.297 435 530)" stroke-width="2.60" d="M0.56 3.44h0M0.79 3.45h0"/><path transform="matrix(6.171 1.221 0.448 -2.267 465 550)" stroke-width="2.60" d="M-2.03 -1.83h0"/><path transform="matrix(5.811 1.303 0.521 -2.322 525 550)" stroke-width="2.60" d="M-1.39 -0.49h0"/><path transform="matrix(2.797 2.318 1.865 -2.249 435 390)" stroke-width="2.60" d="M0.59 0.17h0"/><path transform="matrix(-2.336 2.400 2.165 2.108 795 350)" stroke-width="2.60" d="M2.07 -0.70h0M1.60 1.11h0M2.05 0.05h0"/><path transform="matrix(-2.736 1.908 1.741 2.497 705 390)" stroke-width="2.60" d="M2.10 -0.44h0M0.46 0.82h0M0.84 0.47h0"/><path transform="matrix(-2.552 2.308 2.001 2.213 795 370)" stroke-width="2.60" d="M0.93 -3.66h0"/><path transform="matrix(-2.724 2.156 1.845 2.331 765 390)" stroke-width="2.60" d="M0.95 -5.14h0"/><path transform="matrix(-3.117 -0.846 -0.817 3.012 615 390)" stroke-width="2.60" d="M-2.55 1.53h0"/><path transform="matrix(-2.880 1.845 1.639 2.558 705 410)" stroke-width="2.60" d="M-0.14 -1.15h0"/><path transform="matrix(-3.290 -0.705 -0.660 3.081 615 430)" stroke-width="2.60" d="M-2.79 -3.84h0"/><path transform="matrix(-3.031 1.799 1.547 2.605 705 430)" stroke-width="2.60" d="M2.43 -1.61h0M-1.63 -2.01h0"/><path transform="matrix(-3.387 0.681 0.625 3.106 645 450)" stroke-width="2.60" d="M2.36 -0.45h0"/><path transform="matrix(-2.617 2.556 2.064 2.114 885 370)" stroke-width="2.60" d="M-0.25 -2.83h0"/><path transform="matrix(-3.033 2.260 1.716 2.303 825 410)" stroke-width="2.60" d="M-3.73 1.98h0"/><path transform="matrix(-3.641 1.752 1.282 2.665 705 490)" stroke-width="2.60" d="M-1.50 1.09h0"/><path transform="matrix(-4.012 1.926 1.183 2.465 765 490)" stroke-width="2.60" d="M-1.03 -0.44h0M-0.82 -1.38h0"/><path transform="matrix(-3.776 1.529 1.149 2.838 675 510)" stroke-width="2.60" d="M-0.38 0.31h0M-1.29 3.15h0"/><path transform="matrix(-3.771 0.781 0.655 3.163 645 510)" stroke-width="2.60" d="M0.86 2.52h0"/><path transform="matrix(-4.247 1.814 1.075 2.517 735 510)" stroke-width="2.60" d="M3.68 0.78h0M3.70 0.65h0"/><path transform="matrix(-5.411 1.607 0.690 2.323 795 530)" stroke-width="2.60" d="M2.31 -0.74h0"/><path transform="matrix(-5.180 1.634 0.747 2.368 765 530)" stroke-width="2.60" d="M-1.28 2.29h0"/><path transform="matrix(-6.171 1.220 0.448 2.267 795 550)" stroke-width="2.60" d="M0.52 3.40h0"/><path transform="matrix(0.341 3.437 3.166 -0.314 945 290)" stroke-width="2.60" d="M-3.07 -3.74h0M-2.05 -3.77h0"/><path transform="matrix(2.515 3.035 2.330 -1.931 1005 230)" stroke-width="2.60" d="M-0.76 2.43h0"/></g>
</g>
<path d="M774.3,563.9 773.9,563.1 773.4,562.4 772.9,561.6 772.3,560.9 771.7,560.1 771.1,559.4 770.4,558.6 769.7,557.9 769.0,557.2 768.2,556.5 767.4,555.8 766.5,555.1 765.6,554.4 764.7,553.7 763.8,553.0 762.8,552.3 761.7,551.7 760.7,551.0 759.6,550.4 758.5,549.7 757.3,549.1 756.1,548.5 754.9,547.8 753.7,547.2 752.4,546.6 751.1,546.0 749.8,545.5 748.4,544.9 747.0,544.3 745.6,543.8 744.2,543.2 742.7,542.7 741.2,542.1 739.7,541.6 738.2,541.1 736.6,540.6 735.1,540.1 733.5,539.6 731.8,539.1 730.2,538.7 728.5,538.2 726.8,537.7 725.1,537.3 723.4,536.9 721.6,536.4 719.9,536.0 718.1,535.6 716.3,535.2 714.5,534.8 712.6,534.5 710.8,534.1 708.9,533.7 707.0,533.4 705.1,533.0 703.2,532.7 701.2,532.4 699.3,532.1 697.3,531.8 695.4,531.5 693.4,531.2 691.4,530.9 689.4,530.6 687.3,530.4 685.3,530.1 683.3,529.9 681.2,529.7 679.2,529.4 677.1,529.2 675.0,529.0 672.9,528.8 670.8,528.6 668.7,528.5 666.6,528.3 664.5,528.2 662.4,528.0 660.2,527.9 658.1,527.7 655.9,527.6 653.8,527.5 651.6,527.4 649.5,527.3 647.3,527.2 645.2,527.2 643.0,527.1 640.8,527.1 638.7,527.0 636.5,527.0 634.3,527.0 632.2,527.0 630.0,526.9 627.8,527.0 625.6,527.0 623.5,527.0 621.3,527.0 619.1,527.1 617.0,527.1 614.8,527.2 612.6,527.2 610.5,527.3 608.3,527.4 606.2,527.5 604.0,527.6 601.9,527.7 599.7,527.9 597.6,528.0 595.5,528.2 593.4,528.3 591.2,528.5 589.1,528.6 587.0,528.8 585.0,529.0 582.9,529.2 580.8,529.4 578.7,529.7 576.7,529.9 574.6,530.1 572.6,530.4 570.6,530.6 568.6,530.9 566.6,531.2 564.6,531.5 562.6,531.8 560.7,532.1 558.7,532.4 556.8,532.7 554.9,533.0 553.0,533.4 551.1,533.7 549.2,534.1 547.3,534.5 545.5,534.8 543.7,535.2 541.9,535.6 540.1,536.0 538.3,536.4 536.6,536.9 534.8,537.3 533.1,537.7 531.4,538.2 529.8,538.7 528.1,539.1 526.5,539.6 524.9,540.1 523.3,540.6 521.8,541.1 520.2,541.6 518.7,542.1 517.2,542.7 515.8,543.2 514.3,543.8 512.9,544.3 511.5,544.9 510.2,545.5 508.9,546.0 507.6,546.6 506.3,547.2 505.0,547.8 503.8,548.5 502.6,549.1 501.5,549.7 500.4,550.4 499.3,551.0 498.2,551.7 497.2,552.3 496.2,553.0 495.2,553.7 494.3,554.4 493.4,555.1 492.6,555.8 491.8,556.5 491.0,557.2 490.2,557.9 489.5,558.6 488.8,559.4 488.2,560.1 487.6,560.9 487.1,561.6 486.5,562.4 486.1,563.1 485.6,563.9 M908.8,536.1 907.3,534.7 905.6,533.4 903.9,532.1 902.1,530.8 900.3,529.6 898.4,528.3 896.5,527.1 894.5,525.9 892.5,524.7 890.4,523.6 888.2,522.4 886.0,521.3 883.8,520.2 881.5,519.1 879.2,518.0 876.8,516.9 874.4,515.9 871.9,514.9 869.4,513.9 866.8,512.9 864.2,511.9 861.6,510.9 858.9,510.0 856.2,509.1 853.5,508.2 850.7,507.3 847.9,506.4 845.1,505.5 842.2,504.7 839.3,503.9 836.3,503.1 833.4,502.3 830.4,501.5 827.3,500.7 824.3,500.0 821.2,499.2 818.1,498.5 814.9,497.8 811.8,497.1 808.6,496.5 805.4,495.8 802.1,495.2 798.9,494.6 795.6,493.9 792.3,493.3 789.0,492.8 785.6,492.2 782.3,491.6 778.9,491.1 775.5,490.6 772.0,490.1 768.6,489.6 765.2,489.1 761.7,488.6 758.2,488.2 754.7,487.7 751.2,487.3 747.7,486.9 744.1,486.5 740.6,486.1 737.0,485.7 733.4,485.4 729.8,485.0 726.2,484.7 722.6,484.4 719.0,484.1 715.3,483.8 711.7,483.5 708.0,483.2 704.4,483.0 700.7,482.7 697.0,482.5 693.3,482.3 689.7,482.1 686.0,481.9 682.3,481.7 678.5,481.5 674.8,481.4 671.1,481.2 667.4,481.1 663.7,481.0 659.9,480.9 656.2,480.8 652.4,480.7 648.7,480.6 645.0,480.6 641.2,480.5 637.5,480.5 633.7,480.5 630.0,480.5 626.2,480.5 622.5,480.5 618.7,480.5 615.0,480.6 611.3,480.6 607.5,480.7 603.8,480.8 600.0,480.9 596.3,481.0 592.6,481.1 588.9,481.2 585.1,481.4 581.4,481.5 577.7,481.7 574.0,481.9 570.3,482.1 566.6,482.3 562.9,482.5 559.3,482.7 555.6,483.0 551.9,483.2 548.3,483.5 544.6,483.8 541.0,484.1 537.4,484.4 533.7,484.7 530.1,485.0 526.5,485.4 523.0,485.7 519.4,486.1 515.8,486.5 512.3,486.9 508.8,487.3 505.3,487.7 501.8,488.2 498.3,488.6 494.8,489.1 491.3,489.6 487.9,490.1 484.5,490.6 481.1,491.1 477.7,491.6 474.3,492.2 471.0,492.8 467.7,493.3 464.4,493.9 461.1,494.6 457.8,495.2 454.6,495.8 451.4,496.5 448.2,497.1 445.0,497.8 441.9,498.5 438.8,499.2 435.7,500.0 432.6,500.7 429.6,501.5 426.6,502.3 423.6,503.1 420.7,503.9 417.8,504.7 414.9,505.5 412.0,506.4 409.2,507.3 406.5,508.2 403.7,509.1 401.0,510.0 398.3,510.9 395.7,511.9 393.1,512.9 390.6,513.9 388.1,514.9 385.6,515.9 383.2,516.9 380.8,518.0 378.4,519.1 376.2,520.2 373.9,521.3 371.7,522.4 369.6,523.6 367.5,524.7 365.4,525.9 363.5,527.1 361.5,528.3 359.6,529.6 357.8,530.8 356.1,532.1 354.3,533.4 352.7,534.7 351.1,536.1 M1024.3,491.8 1021.2,490.2 1018.0,488.7 1014.8,487.2 1011.5,485.8 1008.1,484.4 1004.7,483.0 1001.3,481.6 997.8,480.3 994.2,479.0 990.6,477.7 987.0,476.4 983.3,475.2 979.6,474.0 975.8,472.8 972.0,471.6 968.2,470.5 964.3,469.4 960.4,468.3 956.5,467.2 952.5,466.2 948.5,465.2 944.5,464.2 940.4,463.2 936.3,462.2 932.1,461.3 928.0,460.4 923.8,459.5 919.6,458.6 915.4,457.7 911.1,456.9 906.8,456.1 902.5,455.3 898.2,454.5 893.8,453.7 889.4,452.9 885.0,452.2 880.6,451.5 876.2,450.8 871.7,450.1 867.3,449.5 862.8,448.8 858.3,448.2 853.7,447.6 849.2,447.0 844.6,446.4 840.1,445.8 835.5,445.2 830.9,444.7 826.3,444.2 821.6,443.7 817.0,443.2 812.4,442.7 807.7,442.2 803.0,441.8 798.3,441.3 793.6,440.9 788.9,440.5 784.2,440.1 779.5,439.7 774.7,439.3 770.0,439.0 765.3,438.6 760.5,438.3 755.7,438.0 750.9,437.7 746.2,437.4 741.4,437.1 736.6,436.9 731.8,436.6 727.0,436.4 722.1,436.1 717.3,435.9 712.5,435.7 707.7,435.5 702.8,435.3 698.0,435.2 693.2,435.0 688.3,434.8 683.5,434.7 678.6,434.6 673.7,434.5 668.9,434.4 664.0,434.3 659.2,434.2 654.3,434.2 649.4,434.1 644.6,434.1 639.7,434.0 634.8,434.0 630.0,434.0 625.1,434.0 620.2,434.0 615.4,434.1 610.5,434.1 605.7,434.2 600.8,434.2 595.9,434.3 591.1,434.4 586.2,434.5 581.4,434.6 576.5,434.7 571.7,434.8 566.8,435.0 562.0,435.2 557.1,435.3 552.3,435.5 547.5,435.7 542.6,435.9 537.8,436.1 533.0,436.4 528.2,436.6 523.4,436.9 518.6,437.1 513.8,437.4 509.0,437.7 504.2,438.0 499.5,438.3 494.7,438.6 490.0,439.0 485.2,439.3 480.5,439.7 475.7,440.1 471.0,440.5 466.3,440.9 461.6,441.3 456.9,441.8 452.3,442.2 447.6,442.7 443.0,443.2 438.3,443.7 433.7,444.2 429.1,444.7 424.5,445.2 419.9,445.8 415.3,446.4 410.8,447.0 406.2,447.6 401.7,448.2 397.2,448.8 392.7,449.5 388.2,450.1 383.8,450.8 379.3,451.5 374.9,452.2 370.5,452.9 366.1,453.7 361.8,454.5 357.5,455.3 353.2,456.1 348.9,456.9 344.6,457.7 340.4,458.6 336.2,459.5 332.0,460.4 327.8,461.3 323.7,462.2 319.6,463.2 315.5,464.2 311.5,465.2 307.5,466.2 303.5,467.2 299.5,468.3 295.6,469.4 291.7,470.5 287.9,471.6 284.1,472.8 280.4,474.0 276.6,475.2 273.0,476.4 269.3,477.7 265.7,479.0 262.2,480.3 258.7,481.6 255.2,483.0 251.8,484.4 248.5,485.8 245.2,487.2 241.9,488.7 238.7,490.2 235.6,491.8 M1113.0,434.0 1108.3,432.7 1103.6,431.4 1098.9,430.1 1094.1,428.9 1089.3,427.7 1084.5,426.5 1079.6,425.4 1074.7,424.2 1069.8,423.1 1064.9,422.1 1059.9,421.0 1054.9,420.0 1049.9,419.0 1044.9,418.0 1039.8,417.1 1034.7,416.1 1029.6,415.2 1024.5,414.3 1019.4,413.5 1014.2,412.6 1009.0,411.8 1003.8,411.0 998.6,410.2 993.4,409.4 988.2,408.7 982.9,407.9 977.6,407.2 972.3,406.5 967.0,405.8 961.7,405.2 956.4,404.5 951.1,403.9 945.7,403.3 940.4,402.7 935.0,402.1 929.6,401.5 924.2,400.9 918.8,400.4 913.4,399.9 908.0,399.3 902.5,398.8 897.1,398.3 891.6,397.9 886.2,397.4 880.7,397.0 875.3,396.5 869.8,396.1 864.3,395.7 858.8,395.3 853.3,394.9 847.8,394.5 842.3,394.1 836.8,393.8 831.2,393.4 825.7,393.1 820.2,392.8 814.6,392.5 809.1,392.1 803.5,391.9 798.0,391.6 792.4,391.3 786.8,391.0 781.3,390.8 775.7,390.5 770.1,390.3 764.5,390.1 759.0,389.9 753.4,389.7 747.8,389.5 742.2,389.3 736.6,389.1 731.0,389.0 725.4,388.8 719.8,388.7 714.2,388.5 708.6,388.4 703.0,388.3 697.4,388.2 691.8,388.1 686.2,388.0 680.5,387.9 674.9,387.8 669.3,387.8 663.7,387.7 658.1,387.6 652.5,387.6 646.8,387.6 641.2,387.6 635.6,387.5 630.0,387.5 624.4,387.5 618.7,387.6 613.1,387.6 607.5,387.6 601.9,387.6 596.3,387.7 590.6,387.8 585.0,387.8 579.4,387.9 573.8,388.0 568.2,388.1 562.6,388.2 557.0,388.3 551.4,388.4 545.8,388.5 540.2,388.7 534.6,388.8 529.0,389.0 523.4,389.1 517.8,389.3 512.2,389.5 506.6,389.7 501.0,389.9 495.4,390.1 489.8,390.3 484.3,390.5 478.7,390.8 473.1,391.0 467.6,391.3 462.0,391.6 456.4,391.9 450.9,392.1 445.3,392.5 439.8,392.8 434.3,393.1 428.7,393.4 423.2,393.8 417.7,394.1 412.2,394.5 406.7,394.9 401.2,395.3 395.7,395.7 390.2,396.1 384.7,396.5 379.2,397.0 373.8,397.4 368.3,397.9 362.9,398.3 357.4,398.8 352.0,399.3 346.6,399.9 341.2,400.4 335.8,400.9 330.4,401.5 325.0,402.1 319.6,402.7 314.2,403.3 308.9,403.9 303.6,404.5 298.2,405.2 292.9,405.8 287.6,406.5 282.3,407.2 277.1,407.9 271.8,408.7 266.6,409.4 261.3,410.2 256.1,411.0 250.9,411.8 245.8,412.6 240.6,413.5 235.5,414.3 230.3,415.2 225.2,416.1 220.2,417.1 215.1,418.0 210.1,419.0 205.0,420.0 200.1,421.0 195.1,422.1 190.2,423.1 185.2,424.2 180.3,425.4 175.5,426.5 170.7,427.7 165.9,428.9 161.1,430.1 156.4,431.4 151.7,432.7 147.0,434.0 M1168.7,366.8 1162.9,366.0 1157.1,365.3 1151.3,364.5 1145.5,363.8 1139.7,363.1 1133.8,362.5 1128.0,361.8 1122.1,361.2 1116.3,360.6 1110.4,359.9 1104.5,359.4 1098.6,358.8 1092.7,358.2 1086.8,357.7 1080.9,357.1 1075.0,356.6 1069.1,356.1 1063.2,355.6 1057.3,355.1 1051.4,354.7 1045.4,354.2 1039.5,353.8 1033.5,353.3 1027.6,352.9 1021.6,352.5 1015.7,352.1 1009.7,351.7 1003.8,351.3 997.8,350.9 991.8,350.6 985.8,350.2 979.9,349.9 973.9,349.5 967.9,349.2 961.9,348.9 955.9,348.6 949.9,348.3 943.9,348.0 937.9,347.7 931.9,347.4 925.9,347.1 919.9,346.9 913.9,346.6 907.9,346.4 901.9,346.1 895.9,345.9 889.8,345.6 883.8,345.4 877.8,345.2 871.8,345.0 865.7,344.8 859.7,344.6 853.7,344.4 847.7,344.2 841.6,344.0 835.6,343.9 829.6,343.7 823.5,343.5 817.5,343.4 811.5,343.2 805.4,343.1 799.4,342.9 793.3,342.8 787.3,342.7 781.3,342.5 775.2,342.4 769.2,342.3 763.1,342.2 757.1,342.1 751.0,342.0 745.0,341.9 738.9,341.8 732.9,341.7 726.8,341.7 720.8,341.6 714.7,341.5 708.7,341.5 702.6,341.4 696.6,341.4 690.5,341.3 684.5,341.3 678.4,341.2 672.4,341.2 666.3,341.2 660.3,341.1 654.2,341.1 648.1,341.1 642.1,341.1 636.0,341.1 630.0,341.1 623.9,341.1 617.9,341.1 611.8,341.1 605.8,341.1 599.7,341.1 593.7,341.2 587.6,341.2 581.5,341.2 575.5,341.3 569.4,341.3 563.4,341.4 557.3,341.4 551.3,341.5 545.2,341.5 539.2,341.6 533.1,341.7 527.1,341.7 521.0,341.8 515.0,341.9 508.9,342.0 502.9,342.1 496.8,342.2 490.8,342.3 484.8,342.4 478.7,342.5 472.7,342.7 466.6,342.8 460.6,342.9 454.5,343.1 448.5,343.2 442.5,343.4 436.4,343.5 430.4,343.7 424.4,343.9 418.3,344.0 412.3,344.2 406.3,344.4 400.2,344.6 394.2,344.8 388.2,345.0 382.2,345.2 376.1,345.4 370.1,345.6 364.1,345.9 358.1,346.1 352.1,346.4 346.1,346.6 340.1,346.9 334.0,347.1 328.0,347.4 322.0,347.7 316.0,348.0 310.0,348.3 304.1,348.6 298.1,348.9 292.1,349.2 286.1,349.5 280.1,349.9 274.1,350.2 268.1,350.6 262.2,350.9 256.2,351.3 250.2,351.7 244.3,352.1 238.3,352.5 232.4,352.9 226.4,353.3 220.5,353.8 214.5,354.2 208.6,354.7 202.7,355.1 196.8,355.6 190.8,356.1 184.9,356.6 179.0,357.1 173.1,357.7 167.2,358.2 161.3,358.8 155.4,359.4 149.6,359.9 143.7,360.6 137.8,361.2 132.0,361.8 126.1,362.5 120.3,363.1 114.5,363.8 108.7,364.5 102.9,365.3 97.1,366.0 91.3,366.8 M1187.7,294.6 1181.5,294.6 1175.3,294.6 1169.1,294.6 1162.9,294.6 1156.7,294.6 1150.5,294.6 1144.3,294.6 1138.1,294.6 1131.9,294.6 1125.7,294.6 1119.5,294.6 1113.3,294.6 1107.1,294.6 1100.9,294.6 1094.7,294.6 1088.5,294.6 1082.3,294.6 1076.1,294.6 1070.0,294.6 1063.8,294.6 1057.6,294.6 1051.4,294.6 1045.2,294.6 1039.0,294.6 1032.8,294.6 1026.6,294.6 1020.4,294.6 1014.2,294.6 1008.0,294.6 1001.8,294.6 995.6,294.6 989.4,294.6 983.2,294.6 977.0,294.6 970.8,294.6 964.6,294.6 958.4,294.6 952.2,294.6 946.0,294.6 939.8,294.6 933.6,294.6 927.4,294.6 921.2,294.6 915.0,294.6 908.8,294.6 902.6,294.6 896.4,294.6 890.2,294.6 884.0,294.6 877.9,294.6 871.7,294.6 865.5,294.6 859.3,294.6 853.1,294.6 846.9,294.6 840.7,294.6 834.5,294.6 828.3,294.6 822.1,294.6 815.9,294.6 809.7,294.6 803.5,294.6 797.3,294.6 791.1,294.6 784.9,294.6 778.7,294.6 772.5,294.6 766.3,294.6 760.1,294.6 753.9,294.6 747.7,294.6 741.5,294.6 735.3,294.6 729.1,294.6 722.9,294.6 716.7,294.6 710.5,294.6 704.3,294.6 698.1,294.6 691.9,294.6 685.8,294.6 679.6,294.6 673.4,294.6 667.2,294.6 661.0,294.6 654.8,294.6 648.6,294.6 642.4,294.6 636.2,294.6 630.0,294.6 623.8,294.6 617.6,294.6 611.4,294.6 605.2,294.6 599.0,294.6 592.8,294.6 586.6,294.6 580.4,294.6 574.2,294.6 568.0,294.6 561.8,294.6 555.6,294.6 549.4,294.6 543.2,294.6 537.0,294.6 530.8,294.6 524.6,294.6 518.4,294.6 512.2,294.6 506.0,294.6 499.8,294.6 493.7,294.6 487.5,294.6 481.3,294.6 475.1,294.6 468.9,294.6 462.7,294.6 456.5,294.6 450.3,294.6 444.1,294.6 437.9,294.6 431.7,294.6 425.5,294.6 419.3,294.6 413.1,294.6 406.9,294.6 400.7,294.6 394.5,294.6 388.3,294.6 382.1,294.6 375.9,294.6 369.7,294.6 363.5,294.6 357.3,294.6 351.1,294.6 344.9,294.6 338.7,294.6 332.5,294.6 326.3,294.6 320.1,294.6 313.9,294.6 307.7,294.6 301.6,294.6 295.4,294.6 289.2,294.6 283.0,294.6 276.8,294.6 270.6,294.6 264.4,294.6 258.2,294.6 252.0,294.6 245.8,294.6 239.6,294.6 233.4,294.6 227.2,294.6 221.0,294.6 214.8,294.6 208.6,294.6 202.4,294.6 196.2,294.6 190.0,294.6 183.8,294.6 177.6,294.6 171.4,294.6 165.2,294.6 159.0,294.6 152.8,294.6 146.6,294.6 140.4,294.6 134.2,294.6 128.0,294.6 121.8,294.6 115.6,294.6 109.4,294.6 103.3,294.6 97.1,294.6 90.9,294.6 84.7,294.6 78.5,294.6 72.3,294.6 M1168.7,222.4 1162.9,223.2 1157.1,223.9 1151.3,224.7 1145.5,225.4 1139.7,226.1 1133.8,226.7 1128.0,227.4 1122.1,228.0 1116.3,228.6 1110.4,229.3 1104.5,229.8 1098.6,230.4 1092.7,231.0 1086.8,231.5 1080.9,232.1 1075.0,232.6 1069.1,233.1 1063.2,233.6 1057.3,234.1 1051.4,234.5 1045.4,235.0 1039.5,235.4 1033.5,235.9 1027.6,236.3 1021.6,236.7 1015.7,237.1 1009.7,237.5 1003.8,237.9 997.8,238.3 991.8,238.6 985.8,239.0 979.9,239.3 973.9,239.7 967.9,240.0 961.9,240.3 955.9,240.6 949.9,240.9 943.9,241.2 937.9,241.5 931.9,241.8 925.9,242.1 919.9,242.3 913.9,242.6 907.9,242.8 901.9,243.1 895.9,243.3 889.8,243.6 883.8,243.8 877.8,244.0 871.8,244.2 865.7,244.4 859.7,244.6 853.7,244.8 847.7,245.0 841.6,245.2 835.6,245.3 829.6,245.5 823.5,245.7 817.5,245.8 811.5,246.0 805.4,246.1 799.4,246.3 793.3,246.4 787.3,246.5 781.3,246.7 775.2,246.8 769.2,246.9 763.1,247.0 757.1,247.1 751.0,247.2 745.0,247.3 738.9,247.4 732.9,247.5 726.8,247.5 720.8,247.6 714.7,247.7 708.7,247.7 702.6,247.8 696.6,247.8 690.5,247.9 684.5,247.9 678.4,248.0 672.4,248.0 666.3,248.0 660.3,248.1 654.2,248.1 648.1,248.1 642.1,248.1 636.0,248.1 630.0,248.1 623.9,248.1 617.9,248.1 611.8,248.1 605.8,248.1 599.7,248.1 593.7,248.0 587.6,248.0 581.5,248.0 575.5,247.9 569.4,247.9 563.4,247.8 557.3,247.8 551.3,247.7 545.2,247.7 539.2,247.6 533.1,247.5 527.1,247.5 521.0,247.4 515.0,247.3 508.9,247.2 502.9,247.1 496.8,247.0 490.8,246.9 484.8,246.8 478.7,246.7 472.7,246.5 466.6,246.4 460.6,246.3 454.5,246.1 448.5,246.0 442.5,245.8 436.4,245.7 430.4,245.5 424.4,245.3 418.3,245.2 412.3,245.0 406.3,244.8 400.2,244.6 394.2,244.4 388.2,244.2 382.2,244.0 376.1,243.8 370.1,243.6 364.1,243.3 358.1,243.1 352.1,242.8 346.1,242.6 340.1,242.3 334.0,242.1 328.0,241.8 322.0,241.5 316.0,241.2 310.0,240.9 304.1,240.6 298.1,240.3 292.1,240.0 286.1,239.7 280.1,239.3 274.1,239.0 268.1,238.6 262.2,238.3 256.2,237.9 250.2,237.5 244.3,237.1 238.3,236.7 232.4,236.3 226.4,235.9 220.5,235.4 214.5,235.0 208.6,234.5 202.7,234.1 196.8,233.6 190.8,233.1 184.9,232.6 179.0,232.1 173.1,231.5 167.2,231.0 161.3,230.4 155.4,229.8 149.6,229.3 143.7,228.6 137.8,228.0 132.0,227.4 126.1,226.7 120.3,226.1 114.5,225.4 108.7,224.7 102.9,223.9 97.1,223.2 91.3,222.4 M1113.0,155.2 1108.3,156.5 1103.6,157.8 1098.9,159.1 1094.1,160.3 1089.3,161.5 1084.5,162.7 1079.6,163.8 1074.7,165.0 1069.8,166.1 1064.9,167.1 1059.9,168.2 1054.9,169.2 1049.9,170.2 1044.9,171.2 1039.8,172.1 1034.7,173.1 1029.6,174.0 1024.5,174.9 1019.4,175.7 1014.2,176.6 1009.0,177.4 1003.8,178.2 998.6,179.0 993.4,179.8 988.2,180.5 982.9,181.3 977.6,182.0 972.3,182.7 967.0,183.4 961.7,184.0 956.4,184.7 951.1,185.3 945.7,185.9 940.4,186.5 935.0,187.1 929.6,187.7 924.2,188.3 918.8,188.8 913.4,189.3 908.0,189.9 902.5,190.4 897.1,190.9 891.6,191.3 886.2,191.8 880.7,192.2 875.3,192.7 869.8,193.1 864.3,193.5 858.8,193.9 853.3,194.3 847.8,194.7 842.3,195.1 836.8,195.4 831.2,195.8 825.7,196.1 820.2,196.4 814.6,196.7 809.1,197.1 803.5,197.3 798.0,197.6 792.4,197.9 786.8,198.2 781.3,198.4 775.7,198.7 770.1,198.9 764.5,199.1 759.0,199.3 753.4,199.5 747.8,199.7 742.2,199.9 736.6,200.1 731.0,200.2 725.4,200.4 719.8,200.5 714.2,200.7 708.6,200.8 703.0,200.9 697.4,201.0 691.8,201.1 686.2,201.2 680.5,201.3 674.9,201.4 669.3,201.4 663.7,201.5 658.1,201.6 652.5,201.6 646.8,201.6 641.2,201.6 635.6,201.7 630.0,201.7 624.4,201.7 618.7,201.6 613.1,201.6 607.5,201.6 601.9,201.6 596.3,201.5 590.6,201.4 585.0,201.4 579.4,201.3 573.8,201.2 568.2,201.1 562.6,201.0 557.0,200.9 551.4,200.8 545.8,200.7 540.2,200.5 534.6,200.4 529.0,200.2 523.4,200.1 517.8,199.9 512.2,199.7 506.6,199.5 501.0,199.3 495.4,199.1 489.8,198.9 484.3,198.7 478.7,198.4 473.1,198.2 467.6,197.9 462.0,197.6 456.4,197.3 450.9,197.1 445.3,196.7 439.8,196.4 434.3,196.1 428.7,195.8 423.2,195.4 417.7,195.1 412.2,194.7 406.7,194.3 401.2,193.9 395.7,193.5 390.2,193.1 384.7,192.7 379.2,192.2 373.8,191.8 368.3,191.3 362.9,190.9 357.4,190.4 352.0,189.9 346.6,189.3 341.2,188.8 335.8,188.3 330.4,187.7 325.0,187.1 319.6,186.5 314.2,185.9 308.9,185.3 303.6,184.7 298.2,184.0 292.9,183.4 287.6,182.7 282.3,182.0 277.1,181.3 271.8,180.5 266.6,179.8 261.3,179.0 256.1,178.2 250.9,177.4 245.8,176.6 240.6,175.7 235.5,174.9 230.3,174.0 225.2,173.1 220.2,172.1 215.1,171.2 210.1,170.2 205.0,169.2 200.1,168.2 195.1,167.1 190.2,166.1 185.2,165.0 180.3,163.8 175.5,162.7 170.7,161.5 165.9,160.3 161.1,159.1 156.4,157.8 151.7,156.5 147.0,155.2 M1024.3,97.4 1021.2,99.0 1018.0,100.5 1014.8,102.0 1011.5,103.4 1008.1,104.8 1004.7,106.2 1001.3,107.6 997.8,108.9 994.2,110.2 990.6,111.5 987.0,112.8 983.3,114.0 979.6,115.2 975.8,116.4 972.0,117.6 968.2,118.7 964.3,119.8 960.4,120.9 956.5,122.0 952.5,123.0 948.5,124.0 944.5,125.0 940.4,126.0 936.3,127.0 932.1,127.9 928.0,128.8 923.8,129.7 919.6,130.6 915.4,131.5 911.1,132.3 906.8,133.1 902.5,133.9 898.2,134.7 893.8,135.5 889.4,136.3 885.0,137.0 880.6,137.7 876.2,138.4 871.7,139.1 867.3,139.7 862.8,140.4 858.3,141.0 853.7,141.6 849.2,142.2 844.6,142.8 840.1,143.4 835.5,144.0 830.9,144.5 826.3,145.0 821.6,145.5 817.0,146.0 812.4,146.5 807.7,147.0 803.0,147.4 798.3,147.9 793.6,148.3 788.9,148.7 784.2,149.1 779.5,149.5 774.7,149.9 770.0,150.2 765.3,150.6 760.5,150.9 755.7,151.2 750.9,151.5 746.2,151.8 741.4,152.1 736.6,152.3 731.8,152.6 727.0,152.8 722.1,153.1 717.3,153.3 712.5,153.5 707.7,153.7 702.8,153.9 698.0,154.0 693.2,154.2 688.3,154.4 683.5,154.5 678.6,154.6 673.7,154.7 668.9,154.8 664.0,154.9 659.2,155.0 654.3,155.0 649.4,155.1 644.6,155.1 639.7,155.2 634.8,155.2 630.0,155.2 625.1,155.2 620.2,155.2 615.4,155.1 610.5,155.1 605.7,155.0 600.8,155.0 595.9,154.9 591.1,154.8 586.2,154.7 581.4,154.6 576.5,154.5 571.7,154.4 566.8,154.2 562.0,154.0 557.1,153.9 552.3,153.7 547.5,153.5 542.6,153.3 537.8,153.1 533.0,152.8 528.2,152.6 523.4,152.3 518.6,152.1 513.8,151.8 509.0,151.5 504.2,151.2 499.5,150.9 494.7,150.6 490.0,150.2 485.2,149.9 480.5,149.5 475.7,149.1 471.0,148.7 466.3,148.3 461.6,147.9 456.9,147.4 452.3,147.0 447.6,146.5 443.0,146.0 438.3,145.5 433.7,145.0 429.1,144.5 424.5,144.0 419.9,143.4 415.3,142.8 410.8,142.2 406.2,141.6 401.7,141.0 397.2,140.4 392.7,139.7 388.2,139.1 383.8,138.4 379.3,137.7 374.9,137.0 370.5,136.3 366.1,135.5 361.8,134.7 357.5,133.9 353.2,133.1 348.9,132.3 344.6,131.5 340.4,130.6 336.2,129.7 332.0,128.8 327.8,127.9 323.7,127.0 319.6,126.0 315.5,125.0 311.5,124.0 307.5,123.0 303.5,122.0 299.5,120.9 295.6,119.8 291.7,118.7 287.9,117.6 284.1,116.4 280.4,115.2 276.6,114.0 273.0,112.8 269.3,111.5 265.7,110.2 262.2,108.9 258.7,107.6 255.2,106.2 251.8,104.8 248.5,103.4 245.2,102.0 241.9,100.5 238.7,99.0 235.6,97.4 M908.8,53.1 907.3,54.5 905.6,55.8 903.9,57.1 902.1,58.4 900.3,59.6 898.4,60.9 896.5,62.1 894.5,63.3 892.5,64.5 890.4,65.6 888.2,66.8 886.0,67.9 883.8,69.0 881.5,70.1 879.2,71.2 876.8,72.3 874.4,73.3 871.9,74.3 869.4,75.3 866.8,76.3 864.2,77.3 861.6,78.3 858.9,79.2 856.2,80.1 853.5,81.0 850.7,81.9 847.9,82.8 845.1,83.7 842.2,84.5 839.3,85.3 836.3,86.1 833.4,86.9 830.4,87.7 827.3,88.5 824.3,89.2 821.2,90.0 818.1,90.7 814.9,91.4 811.8,92.1 808.6,92.7 805.4,93.4 802.1,94.0 798.9,94.6 795.6,95.3 792.3,95.9 789.0,96.4 785.6,97.0 782.3,97.6 778.9,98.1 775.5,98.6 772.0,99.1 768.6,99.6 765.2,100.1 761.7,100.6 758.2,101.0 754.7,101.5 751.2,101.9 747.7,102.3 744.1,102.7 740.6,103.1 737.0,103.5 733.4,103.8 729.8,104.2 726.2,104.5 722.6,104.8 719.0,105.1 715.3,105.4 711.7,105.7 708.0,106.0 704.4,106.2 700.7,106.5 697.0,106.7 693.3,106.9 689.7,107.1 686.0,107.3 682.3,107.5 678.5,107.7 674.8,107.8 671.1,108.0 667.4,108.1 663.7,108.2 659.9,108.3 656.2,108.4 652.4,108.5 648.7,108.6 645.0,108.6 641.2,108.7 637.5,108.7 633.7,108.7 630.0,108.7 626.2,108.7 622.5,108.7 618.7,108.7 615.0,108.6 611.3,108.6 607.5,108.5 603.8,108.4 600.0,108.3 596.3,108.2 592.6,108.1 588.9,108.0 585.1,107.8 581.4,107.7 577.7,107.5 574.0,107.3 570.3,107.1 566.6,106.9 562.9,106.7 559.3,106.5 555.6,106.2 551.9,106.0 548.3,105.7 544.6,105.4 541.0,105.1 537.4,104.8 533.7,104.5 530.1,104.2 526.5,103.8 523.0,103.5 519.4,103.1 515.8,102.7 512.3,102.3 508.8,101.9 505.3,101.5 501.8,101.0 498.3,100.6 494.8,100.1 491.3,99.6 487.9,99.1 484.5,98.6 481.1,98.1 477.7,97.6 474.3,97.0 471.0,96.4 467.7,95.9 464.4,95.3 461.1,94.6 457.8,94.0 454.6,93.4 451.4,92.7 448.2,92.1 445.0,91.4 441.9,90.7 438.8,90.0 435.7,89.2 432.6,88.5 429.6,87.7 426.6,86.9 423.6,86.1 420.7,85.3 417.8,84.5 414.9,83.7 412.0,82.8 409.2,81.9 406.5,81.0 403.7,80.1 401.0,79.2 398.3,78.3 395.7,77.3 393.1,76.3 390.6,75.3 388.1,74.3 385.6,73.3 383.2,72.3 380.8,71.2 378.4,70.1 376.2,69.0 373.9,67.9 371.7,66.8 369.6,65.6 367.5,64.5 365.4,63.3 363.5,62.1 361.5,60.9 359.6,59.6 357.8,58.4 356.1,57.1 354.3,55.8 352.7,54.5 351.1,53.1 M774.3,25.3 773.9,26.1 773.4,26.8 772.9,27.6 772.3,28.3 771.7,29.1 771.1,29.8 770.4,30.6 769.7,31.3 769.0,32.0 768.2,32.7 767.4,33.4 766.5,34.1 765.6,34.8 764.7,35.5 763.8,36.2 762.8,36.9 761.7,37.5 760.7,38.2 759.6,38.8 758.5,39.5 757.3,40.1 756.1,40.7 754.9,41.4 753.7,42.0 752.4,42.6 751.1,43.2 749.8,43.7 748.4,44.3 747.0,44.9 745.6,45.4 744.2,46.0 742.7,46.5 741.2,47.1 739.7,47.6 738.2,48.1 736.6,48.6 735.1,49.1 733.5,49.6 731.8,50.1 730.2,50.5 728.5,51.0 726.8,51.5 725.1,51.9 723.4,52.3 721.6,52.8 719.9,53.2 718.1,53.6 716.3,54.0 714.5,54.4 712.6,54.7 710.8,55.1 708.9,55.5 707.0,55.8 705.1,56.2 703.2,56.5 701.2,56.8 699.3,57.1 697.3,57.4 695.4,57.7 693.4,58.0 691.4,58.3 689.4,58.6 687.3,58.8 685.3,59.1 683.3,59.3 681.2,59.5 679.2,59.8 677.1,60.0 675.0,60.2 672.9,60.4 670.8,60.6 668.7,60.7 666.6,60.9 664.5,61.0 662.4,61.2 660.2,61.3 658.1,61.5 655.9,61.6 653.8,61.7 651.6,61.8 649.5,61.9 647.3,62.0 645.2,62.0 643.0,62.1 640.8,62.1 638.7,62.2 636.5,62.2 634.3,62.2 632.2,62.2 630.0,62.3 627.8,62.2 625.6,62.2 623.5,62.2 621.3,62.2 619.1,62.1 617.0,62.1 614.8,62.0 612.6,62.0 610.5,61.9 608.3,61.8 606.2,61.7 604.0,61.6 601.9,61.5 599.7,61.3 597.6,61.2 595.5,61.0 593.4,60.9 591.2,60.7 589.1,60.6 587.0,60.4 585.0,60.2 582.9,60.0 580.8,59.8 578.7,59.5 576.7,59.3 574.6,59.1 572.6,58.8 570.6,58.6 568.6,58.3 566.6,58.0 564.6,57.7 562.6,57.4 560.7,57.1 558.7,56.8 556.8,56.5 554.9,56.2 553.0,55.8 551.1,55.5 549.2,55.1 547.3,54.7 545.5,54.4 543.7,54.0 541.9,53.6 540.1,53.2 538.3,52.8 536.6,52.3 534.8,51.9 533.1,51.5 531.4,51.0 529.8,50.5 528.1,50.1 526.5,49.6 524.9,49.1 523.3,48.6 521.8,48.1 520.2,47.6 518.7,47.1 517.2,46.5 515.8,46.0 514.3,45.4 512.9,44.9 511.5,44.3 510.2,43.7 508.9,43.2 507.6,42.6 506.3,42.0 505.0,41.4 503.8,40.7 502.6,40.1 501.5,39.5 500.4,38.8 499.3,38.2 498.2,37.5 497.2,36.9 496.2,36.2 495.2,35.5 494.3,34.8 493.4,34.1 492.6,33.4 491.8,32.7 491.0,32.0 490.2,31.3 489.5,30.6 488.8,29.8 488.2,29.1 487.6,28.3 487.1,27.6 486.5,26.8 486.1,26.1 485.6,25.3 M763.8,553.0 780.3,549.1 796.5,545.0 812.4,540.6 827.9,535.9 843.0,531.1 857.8,526.0 872.1,520.7 886.1,515.2 899.7,509.5 912.8,503.6 925.5,497.6 937.8,491.3 949.7,484.9 961.1,478.4 972.0,471.6 982.6,464.8 992.6,457.8 1002.3,450.6 1011.4,443.4 1020.1,436.0 1028.3,428.5 1036.1,420.9 1043.4,413.2 1050.2,405.4 1056.5,397.5 1062.4,389.6 1067.7,381.6 1072.6,373.5 1077.0,365.3 1080.9,357.1 1084.4,348.9 1087.3,340.6 1089.8,332.3 1091.7,323.9 1093.2,315.6 1094.2,307.2 1094.7,298.8 1094.7,290.4 1094.2,282.0 1093.2,273.6 1091.7,265.3 1089.8,256.9 1087.3,248.6 1084.4,240.3 1080.9,232.1 1077.0,223.9 1072.6,215.7 1067.7,207.6 1062.4,199.6 1056.5,191.7 1050.2,183.8 1043.4,176.0 1036.1,168.3 1028.3,160.7 1020.1,153.2 1011.4,145.8 1002.3,138.6 992.6,131.4 982.6,124.4 972.0,117.6 961.1,110.8 949.7,104.3 937.8,97.9 925.5,91.6 912.8,85.6 899.7,79.7 886.1,74.0 872.1,68.5 857.8,63.2 843.0,58.1 827.9,53.3 812.4,48.6 796.5,44.2 780.3,40.1 763.8,36.2 M745.6,543.8 759.4,539.0 772.8,534.0 785.7,528.8 798.3,523.5 810.5,518.1 822.3,512.5 833.7,506.8 844.7,500.9 855.4,494.9 865.6,488.9 875.5,482.7 884.9,476.4 894.0,470.0 902.8,463.5 911.1,456.9 919.1,450.2 926.6,443.5 933.8,436.6 940.7,429.8 947.2,422.8 953.3,415.8 959.0,408.7 964.4,401.6 969.4,394.4 974.0,387.2 978.3,379.9 982.2,372.7 985.8,365.3 989.0,358.0 991.8,350.6 994.3,343.2 996.4,335.7 998.2,328.3 999.6,320.8 1000.7,313.3 1001.4,305.8 1001.7,298.3 1001.7,290.9 1001.4,283.4 1000.7,275.9 999.6,268.4 998.2,260.9 996.4,253.5 994.3,246.0 991.8,238.6 989.0,231.2 985.8,223.9 982.2,216.5 978.3,209.3 974.0,202.0 969.4,194.8 964.4,187.6 959.0,180.5 953.3,173.4 947.2,166.4 940.7,159.4 933.8,152.6 926.6,145.7 919.1,139.0 911.1,132.3 902.8,125.7 894.0,119.2 884.9,112.8 875.5,106.5 865.6,100.3 855.4,94.3 844.7,88.3 833.7,82.4 822.3,76.7 810.5,71.1 798.3,65.7 785.7,60.4 772.8,55.2 759.4,50.2 745.6,45.4 M721.6,536.4 732.2,531.0 742.4,525.4 752.2,519.8 761.7,514.1 770.9,508.2 779.7,502.3 788.2,496.4 796.3,490.3 804.1,484.2 811.7,478.0 818.9,471.8 825.7,465.5 832.3,459.2 838.6,452.8 844.6,446.4 850.4,439.9 855.8,433.4 860.9,426.8 865.8,420.2 870.4,413.6 874.7,407.0 878.8,400.3 882.6,393.6 886.1,386.9 889.4,380.1 892.4,373.4 895.1,366.6 897.6,359.8 899.9,352.9 901.9,346.1 903.6,339.3 905.1,332.4 906.3,325.5 907.3,318.7 908.1,311.8 908.6,304.9 908.8,298.0 908.8,291.2 908.6,284.3 908.1,277.4 907.3,270.5 906.3,263.7 905.1,256.8 903.6,249.9 901.9,243.1 899.9,236.3 897.6,229.4 895.1,222.6 892.4,215.8 889.4,209.1 886.1,202.3 882.6,195.6 878.8,188.9 874.7,182.2 870.4,175.6 865.8,169.0 860.9,162.4 855.8,155.8 850.4,149.3 844.6,142.8 838.6,136.4 832.3,130.0 825.7,123.7 818.9,117.4 811.7,111.2 804.1,105.0 796.3,98.9 788.2,92.8 779.7,86.9 770.9,81.0 761.7,75.1 752.2,69.4 742.4,63.8 732.2,58.2 721.6,52.8 M693.4,531.2 700.5,525.3 707.4,519.4 714.0,513.4 720.3,507.4 726.4,501.4 732.2,495.3 737.8,489.2 743.2,483.0 748.4,476.9 753.3,470.7 758.0,464.4 762.5,458.2 766.8,451.9 770.9,445.7 774.7,439.3 778.4,433.0 782.0,426.7 785.3,420.3 788.4,414.0 791.4,407.6 794.1,401.2 796.7,394.8 799.2,388.4 801.4,381.9 803.5,375.5 805.4,369.1 807.2,362.6 808.8,356.2 810.2,349.7 811.5,343.2 812.6,336.7 813.5,330.3 814.3,323.8 814.9,317.3 815.4,310.8 815.7,304.3 815.9,297.8 815.9,291.4 815.7,284.9 815.4,278.4 814.9,271.9 814.3,265.4 813.5,258.9 812.6,252.5 811.5,246.0 810.2,239.5 808.8,233.0 807.2,226.6 805.4,220.1 803.5,213.7 801.4,207.3 799.2,200.8 796.7,194.4 794.1,188.0 791.4,181.6 788.4,175.2 785.3,168.9 782.0,162.5 778.4,156.2 774.7,149.9 770.9,143.5 766.8,137.3 762.5,131.0 758.0,124.8 753.3,118.5 748.4,112.3 743.2,106.2 737.8,100.0 732.2,93.9 726.4,87.8 720.3,81.8 714.0,75.8 707.4,69.8 700.5,63.9 693.4,58.0 M662.4,528.0 666.0,521.9 669.4,515.8 672.7,509.6 675.9,503.5 678.9,497.3 681.8,491.1 684.6,485.0 687.3,478.8 689.8,472.6 692.3,466.4 694.6,460.2 696.8,454.0 698.9,447.8 700.9,441.5 702.8,435.3 704.6,429.1 706.4,422.9 708.0,416.6 709.5,410.4 711.0,404.1 712.3,397.9 713.6,391.7 714.8,385.4 715.9,379.1 716.9,372.9 717.8,366.6 718.7,360.4 719.5,354.1 720.2,347.9 720.8,341.6 721.3,335.3 721.8,329.1 722.2,322.8 722.5,316.5 722.7,310.3 722.8,304.0 722.9,297.7 722.9,291.5 722.8,285.2 722.7,278.9 722.5,272.7 722.2,266.4 721.8,260.1 721.3,253.9 720.8,247.6 720.2,241.3 719.5,235.1 718.7,228.8 717.8,222.6 716.9,216.3 715.9,210.1 714.8,203.8 713.6,197.5 712.3,191.3 711.0,185.1 709.5,178.8 708.0,172.6 706.4,166.3 704.6,160.1 702.8,153.9 700.9,147.7 698.9,141.4 696.8,135.2 694.6,129.0 692.3,122.8 689.8,116.6 687.3,110.4 684.6,104.2 681.8,98.1 678.9,91.9 675.9,85.7 672.7,79.6 669.4,73.4 666.0,67.3 662.4,61.2 M630.0,526.9 630.0,520.8 630.0,514.6 630.0,508.4 630.0,502.2 630.0,496.0 630.0,489.8 630.0,483.6 630.0,477.4 630.0,471.2 630.0,465.0 630.0,458.8 630.0,452.6 630.0,446.4 630.0,440.2 630.0,434.0 630.0,427.8 630.0,421.6 630.0,415.4 630.0,409.2 630.0,403.0 630.0,396.8 630.0,390.6 630.0,384.4 630.0,378.2 630.0,372.0 630.0,365.9 630.0,359.7 630.0,353.5 630.0,347.3 630.0,341.1 630.0,334.9 630.0,328.7 630.0,322.5 630.0,316.3 630.0,310.1 630.0,303.9 630.0,297.7 630.0,291.5 630.0,285.3 630.0,279.1 630.0,272.9 630.0,266.7 630.0,260.5 630.0,254.3 630.0,248.1 630.0,241.9 630.0,235.7 630.0,229.5 630.0,223.3 630.0,217.2 630.0,211.0 630.0,204.8 630.0,198.6 630.0,192.4 630.0,186.2 630.0,180.0 630.0,173.8 630.0,167.6 630.0,161.4 630.0,155.2 630.0,149.0 630.0,142.8 630.0,136.6 630.0,130.4 630.0,124.2 630.0,118.0 630.0,111.8 630.0,105.6 630.0,99.4 630.0,93.2 630.0,87.0 630.0,80.8 630.0,74.6 630.0,68.4 630.0,62.3 M597.6,528.0 594.0,521.9 590.6,515.8 587.2,509.6 584.1,503.5 581.0,497.3 578.1,491.1 575.4,485.0 572.7,478.8 570.1,472.6 567.7,466.4 565.4,460.2 563.2,454.0 561.1,447.8 559.0,441.5 557.1,435.3 555.3,429.1 553.6,422.9 552.0,416.6 550.4,410.4 549.0,404.1 547.6,397.9 546.4,391.7 545.2,385.4 544.1,379.1 543.1,372.9 542.1,366.6 541.3,360.4 540.5,354.1 539.8,347.9 539.2,341.6 538.6,335.3 538.2,329.1 537.8,322.8 537.5,316.5 537.3,310.3 537.1,304.0 537.0,297.7 537.0,291.5 537.1,285.2 537.3,278.9 537.5,272.7 537.8,266.4 538.2,260.1 538.6,253.9 539.2,247.6 539.8,241.3 540.5,235.1 541.3,228.8 542.1,222.6 543.1,216.3 544.1,210.1 545.2,203.8 546.4,197.5 547.6,191.3 549.0,185.1 550.4,178.8 552.0,172.6 553.6,166.3 555.3,160.1 557.1,153.9 559.0,147.7 561.1,141.4 563.2,135.2 565.4,129.0 567.7,122.8 570.1,116.6 572.7,110.4 575.4,104.2 578.1,98.1 581.0,91.9 584.1,85.7 587.2,79.6 590.6,73.4 594.0,67.3 597.6,61.2 M566.6,531.2 559.4,525.3 552.6,519.4 546.0,513.4 539.6,507.4 533.6,501.4 527.7,495.3 522.1,489.2 516.7,483.0 511.6,476.9 506.7,470.7 502.0,464.4 497.5,458.2 493.2,451.9 489.1,445.7 485.2,439.3 481.5,433.0 478.0,426.7 474.7,420.3 471.6,414.0 468.6,407.6 465.8,401.2 463.2,394.8 460.8,388.4 458.5,381.9 456.5,375.5 454.5,369.1 452.8,362.6 451.2,356.2 449.8,349.7 448.5,343.2 447.4,336.7 446.5,330.3 445.7,323.8 445.0,317.3 444.6,310.8 444.3,304.3 444.1,297.8 444.1,291.4 444.3,284.9 444.6,278.4 445.0,271.9 445.7,265.4 446.5,258.9 447.4,252.5 448.5,246.0 449.8,239.5 451.2,233.0 452.8,226.6 454.5,220.1 456.5,213.7 458.5,207.3 460.8,200.8 463.2,194.4 465.8,188.0 468.6,181.6 471.6,175.2 474.7,168.9 478.0,162.5 481.5,156.2 485.2,149.9 489.1,143.5 493.2,137.3 497.5,131.0 502.0,124.8 506.7,118.5 511.6,112.3 516.7,106.2 522.1,100.0 527.7,93.9 533.6,87.8 539.6,81.8 546.0,75.8 552.6,69.8 559.4,63.9 566.6,58.0 M538.3,536.4 527.8,531.0 517.6,525.4 507.7,519.8 498.2,514.1 489.1,508.2 480.3,502.3 471.8,496.4 463.6,490.3 455.8,484.2 448.3,478.0 441.1,471.8 434.2,465.5 427.6,459.2 421.3,452.8 415.3,446.4 409.6,439.9 404.2,433.4 399.0,426.8 394.1,420.2 389.5,413.6 385.2,407.0 381.2,400.3 377.4,393.6 373.8,386.9 370.6,380.1 367.6,373.4 364.8,366.6 362.3,359.8 360.1,352.9 358.1,346.1 356.4,339.3 354.9,332.4 353.6,325.5 352.6,318.7 351.9,311.8 351.4,304.9 351.2,298.0 351.2,291.2 351.4,284.3 351.9,277.4 352.6,270.5 353.6,263.7 354.9,256.8 356.4,249.9 358.1,243.1 360.1,236.3 362.3,229.4 364.8,222.6 367.6,215.8 370.6,209.1 373.8,202.3 377.4,195.6 381.2,188.9 385.2,182.2 389.5,175.6 394.1,169.0 399.0,162.4 404.2,155.8 409.6,149.3 415.3,142.8 421.3,136.4 427.6,130.0 434.2,123.7 441.1,117.4 448.3,111.2 455.8,105.0 463.6,98.9 471.8,92.8 480.3,86.9 489.1,81.0 498.2,75.1 507.7,69.4 517.6,63.8 527.8,58.2 538.3,52.8 M514.3,543.8 500.6,539.0 487.2,534.0 474.2,528.8 461.6,523.5 449.4,518.1 437.7,512.5 426.2,506.8 415.2,500.9 404.6,494.9 394.3,488.9 384.5,482.7 375.0,476.4 365.9,470.0 357.2,463.5 348.9,456.9 340.9,450.2 333.3,443.5 326.1,436.6 319.3,429.8 312.8,422.8 306.7,415.8 301.0,408.7 295.6,401.6 290.6,394.4 286.0,387.2 281.7,379.9 277.8,372.7 274.2,365.3 271.0,358.0 268.1,350.6 265.7,343.2 263.5,335.7 261.8,328.3 260.3,320.8 259.3,313.3 258.6,305.8 258.2,298.3 258.2,290.9 258.6,283.4 259.3,275.9 260.3,268.4 261.8,260.9 263.5,253.5 265.7,246.0 268.1,238.6 271.0,231.2 274.2,223.9 277.8,216.5 281.7,209.3 286.0,202.0 290.6,194.8 295.6,187.6 301.0,180.5 306.7,173.4 312.8,166.4 319.3,159.4 326.1,152.6 333.3,145.7 340.9,139.0 348.9,132.3 357.2,125.7 365.9,119.2 375.0,112.8 384.5,106.5 394.3,100.3 404.6,94.3 415.2,88.3 426.2,82.4 437.7,76.7 449.4,71.1 461.6,65.7 474.2,60.4 487.2,55.2 500.6,50.2 514.3,45.4 M496.2,553.0 479.6,549.1 463.4,545.0 447.6,540.6 432.1,535.9 416.9,531.1 402.2,526.0 387.8,520.7 373.9,515.2 360.3,509.5 347.2,503.6 334.5,497.6 322.2,491.3 310.3,484.9 298.9,478.4 287.9,471.6 277.4,464.8 267.3,457.8 257.7,450.6 248.5,443.4 239.8,436.0 231.6,428.5 223.9,420.9 216.6,413.2 209.8,405.4 203.4,397.5 197.6,389.6 192.2,381.6 187.3,373.5 182.9,365.3 179.0,357.1 175.6,348.9 172.6,340.6 170.2,332.3 168.2,323.9 166.8,315.6 165.8,307.2 165.3,298.8 165.3,290.4 165.8,282.0 166.8,273.6 168.2,265.3 170.2,256.9 172.6,248.6 175.6,240.3 179.0,232.1 182.9,223.9 187.3,215.7 192.2,207.6 197.6,199.6 203.4,191.7 209.8,183.8 216.6,176.0 223.9,168.3 231.6,160.7 239.8,153.2 248.5,145.8 257.7,138.6 267.3,131.4 277.4,124.4 287.9,117.6 298.9,110.8 310.3,104.3 322.2,97.9 334.5,91.6 347.2,85.6 360.3,79.7 373.9,74.0 387.8,68.5 402.2,63.2 416.9,58.1 432.1,53.3 447.6,48.6 463.4,44.2 479.6,40.1 496.2,36.2" fill="none" stroke="#b0b0b0" stroke-width="2"/>
<g clip-path="url(#ell)"><path d="M387.2,392.6 386.4,391.9 385.6,391.3 384.8,390.6 384.1,389.9 383.3,389.2 382.5,388.5 381.8,387.8 381.0,387.1 380.3,386.4 379.5,385.8 378.7,385.1 378.0,384.4 377.2,383.7 376.5,383.0 375.8,382.3 375.0,381.6 374.3,380.9 373.6,380.2 372.8,379.5 372.1,378.8 371.4,378.1 370.7,377.4 369.9,376.6 369.2,375.9 368.5,375.2 367.8,374.5 367.1,373.8 366.4,373.1 365.7,372.4 365.0,371.7 364.3,370.9 363.6,370.2 362.9,369.5 362.2,368.8 361.6,368.1 360.9,367.4 360.2,366.6 359.5,365.9 358.9,365.2 358.2,364.5 357.6,363.7 356.9,363.0 356.2,362.3 355.6,361.6 354.9,360.8 354.3,360.1 353.6,359.4 353.0,358.6 352.4,357.9 351.7,357.2 351.1,356.4 350.5,355.7 349.9,355.0 349.2,354.2 348.6,353.5 348.0,352.7 347.4,352.0 346.8,351.3 346.2,350.5 345.6,349.8 345.0,349.0 344.4,348.3 343.8,347.5 343.2,346.8 342.6,346.1 342.0,345.3 341.5,344.6 340.9,343.8 340.3,343.1 339.8,342.3 339.2,341.6 338.6,340.8 338.1,340.1 337.5,339.3 337.0,338.5 336.4,337.8 335.9,337.0 335.3,336.3 334.8,335.5 334.3,334.8 333.7,334.0 333.2,333.2 332.7,332.5 332.2,331.7 331.6,331.0 331.1,330.2 330.6,329.4 330.1,328.7 329.6,327.9 329.1,327.1 328.6,326.4 328.1,325.6 327.6,324.8 327.1,324.1 326.6,323.3 326.2,322.5 325.7,321.7 325.2,321.0 324.7,320.2 324.3,319.4 323.8,318.7 323.3,317.9 322.9,317.1 322.4,316.3 322.0,315.6 321.5,314.8 321.1,314.0 320.7,313.2 320.2,312.4 319.8,311.7 319.4,310.9 318.9,310.1 318.5,309.3 318.1,308.5 317.7,307.8 317.3,307.0 316.9,306.2 316.5,305.4 316.1,304.6 315.7,303.8 315.3,303.1 314.9,302.3 314.5,301.5 314.1,300.7 313.7,299.9 313.4,299.1 313.0,298.3 312.6,297.5 312.3,296.8 311.9,296.0 311.5,295.2 311.2,294.4 310.8,293.6 310.5,292.8 310.1,292.0 309.8,291.2 309.5,290.4 309.1,289.6 308.8,288.8 308.5,288.0 308.2,287.2 307.8,286.4 307.5,285.6 307.2,284.9 306.9,284.1 306.6,283.3 306.3,282.5 306.0,281.7 305.7,280.9 305.4,280.1 305.1,279.3 304.9,278.5 304.6,277.7 304.3,276.9 304.0,276.1 303.8,275.3 303.5,274.5 303.3,273.7 303.0,272.8 302.7,272.0 302.5,271.2 302.3,270.4 302.0,269.6 301.8,268.8 301.5,268.0 301.3,267.2 301.1,266.4 300.9,265.6 300.6,264.8 300.4,264.0 300.2,263.2 300.0,262.4 299.8,261.6 299.6,260.8 299.4,260.0 299.2,259.1 299.0,258.3 298.8,257.5 298.7,256.7 298.5,255.9 298.3,255.1 298.1,254.3 298.0,253.5 297.8,252.7 297.7,251.9 297.5,251.0 297.4,250.2 297.2,249.4 297.1,248.6 296.9,247.8 296.8,247.0 296.7,246.2 296.5,245.4 296.4,244.6 296.3,243.7 296.2,242.9 296.1,242.1 296.0,241.3 295.9,240.5 295.7,239.7 295.7,238.9 295.6,238.0 295.5,237.2 295.4,236.4 295.3,235.6 295.2,234.8 295.2,234.0 295.1,233.2 295.0,232.3 295.0,231.5 294.9,230.7 294.8,229.9 294.8,229.1 294.7,228.3 294.7,227.5 294.7,226.6 294.6,225.8 294.6,225.0 294.6,224.2 294.5,223.4 294.5,222.6 294.5,221.8 294.5,220.9 294.5,220.1 294.5,219.3 294.5,218.5 294.5,217.7 294.5,216.9 294.5,216.1 294.5,215.2 294.5,214.4 294.6,213.6 294.6,212.8 294.6,212.0 294.7,211.2 294.7,210.3 294.7,209.5 294.8,208.7 294.8,207.9 294.9,207.1 294.9,206.3 295.0,205.5 295.1,204.6 295.1,203.8 295.2,203.0 295.3,202.2 295.4,201.4 295.5,200.6 295.5,199.8 295.6,199.0 295.7,198.1 295.8,197.3 295.9,196.5 296.1,195.7 296.2,194.9 296.3,194.1 296.4,193.3 296.5,192.5 296.7,191.7 296.8,190.8 296.9,190.0 297.1,189.2 297.2,188.4 297.4,187.6 297.5,186.8 297.7,186.0 297.8,185.2 298.0,184.4 298.2,183.6 298.3,182.8 298.5,182.0 298.7,181.1 298.9,180.3 299.0,179.5 299.2,178.7 299.4,177.9 299.6,177.1 299.8,176.3 300.0,175.5 300.2,174.7 300.5,173.9 300.7,173.1 300.9,172.3 301.1,171.5 301.3,170.7 301.6,169.9 301.8,169.1 302.1,168.3 302.3,167.5 302.5,166.7 302.8,165.9 303.0,165.1 303.3,164.3 303.6,163.5 303.8,162.7 304.1,161.9 304.4,161.1 304.6,160.4 304.9,159.6 305.2,158.8 305.5,158.0 305.8,157.2 306.1,156.4 306.4,155.6 306.7,154.8 307.0,154.0 307.3,153.3 307.6,152.5 307.9,151.7 308.2,150.9 308.6,150.1 308.9,149.3 309.2,148.5 309.5,147.8 309.9,147.0 310.2,146.2 310.6,145.4 310.9,144.7 311.3,143.9 311.6,143.1 312.0,142.3 312.3,141.6 312.7,140.8 313.1,140.0 313.4,139.2 313.8,138.5 314.2,137.7 314.6,136.9 314.9,136.2 315.3,135.4 315.7,134.6 316.1,133.9 316.5,133.1 316.9,132.3 317.3,131.6 317.7,130.8 318.1,130.1 318.5,129.3 318.9,128.6 319.3,127.8 319.7,127.1 320.2,126.3 320.6,125.5 321.0,124.8 321.4,124.1 321.9,123.3 322.3,122.6 322.7,121.8 323.2,121.1 323.6,120.3 324.1,119.6 324.5,118.9 324.9,118.1 325.4,117.4 325.8,116.6 326.3,115.9 326.8,115.2 327.2,114.4 327.7,113.7 328.1,113.0 328.6,112.3 329.1,111.5 329.5,110.8 330.0,110.1 330.5,109.4 330.9,108.7 331.4,108.0 331.9,107.2 332.4,106.5 332.8,105.8 333.3,105.1 333.8,104.4 334.3,103.7 334.8,103.0 335.3,102.3 335.7,101.6 336.2,100.9 336.7,100.2 337.2,99.5 337.7,98.8 338.2,98.1 338.7,97.4 339.2,96.7 339.6,96.1 340.1,95.4 340.6,94.7 341.1,94.0 341.6,93.3 342.1,92.7 342.6,92.0 343.1,91.3 343.6,90.7 344.1,90.0 344.6,89.3 345.0,88.7 345.5,88.0 346.0,87.4 346.5,86.7 347.0,86.1 347.5,85.4 348.0,84.8 348.5,84.1 348.9,83.5 349.4,82.8 349.9,82.2 350.4,81.6 350.8,80.9 351.3,80.3 351.8,79.7 352.3,79.0 352.7,78.4 353.2,77.8 353.6,77.2 354.1,76.6 354.6,76.0 355.0,75.4 355.5,74.7 355.9,74.1 356.3,73.5 356.8,72.9 357.2,72.3 357.6,71.8 358.1,71.2 358.5,70.6 358.9,70.0 359.3,69.4 359.7,68.8 360.1,68.3 360.5,67.7 360.9,67.1 361.3,66.5 361.7,66.0 362.1,65.4 362.5,64.9 362.8,64.3 363.2,63.8 363.5,63.2 363.9,62.7 364.2,62.1 364.6,61.6 364.9,61.0 365.2,60.5 365.5,60.0 365.8,59.5 366.1,58.9 366.4,58.4 366.7,57.9 367.0,57.4 367.2,56.9 367.5,56.4 367.8,55.9 368.0,55.4 368.2,54.9 368.5,54.4 368.7,53.9 368.9,53.4 369.1,52.9 369.3,52.4 369.4,51.9 369.6,51.5 369.8,51.0 369.9,50.5 370.0,50.1 370.2,49.6 370.3,49.1 370.4,48.7 370.5,48.2 M889.4,47.8 888.6,48.0 887.9,48.3 887.1,48.5 886.4,48.7 885.7,49.0 885.0,49.2 884.3,49.5 883.6,49.7 882.9,50.0 882.3,50.2 881.7,50.5 881.0,50.8 880.4,51.0 879.8,51.3 879.3,51.6 878.7,51.9 878.1,52.2 877.6,52.5 877.1,52.8 876.6,53.1 876.1,53.4 875.6,53.7 875.1,54.0 874.7,54.3 874.2,54.6 873.8,54.9 873.4,55.3 873.0,55.6 872.6,55.9 872.2,56.3 871.8,56.6 871.5,57.0 871.1,57.3 870.8,57.7 870.5,58.0 870.2,58.4 869.9,58.8 869.6,59.1 869.3,59.5 869.1,59.9 868.8,60.3 868.6,60.7 868.4,61.0 868.2,61.4 868.0,61.8 867.8,62.2 867.6,62.6 867.4,63.0 867.3,63.5 867.1,63.9 867.0,64.3 866.8,64.7 866.7,65.1 866.6,65.6 866.5,66.0 866.4,66.5 866.3,66.9 866.3,67.3 866.2,67.8 866.2,68.2 866.1,68.7 866.1,69.2 866.0,69.6 866.0,70.1 866.0,70.6 866.0,71.0 866.0,71.5 866.0,72.0 866.0,72.5 866.1,73.0 866.1,73.5 866.1,74.0 866.2,74.5 866.2,75.0 866.3,75.5 866.4,76.0 866.4,76.5 866.5,77.0 866.6,77.5 866.7,78.0 866.8,78.6 866.9,79.1 867.0,79.6 867.1,80.1 867.2,80.7 867.4,81.2 867.5,81.8 867.6,82.3 867.7,82.9 867.9,83.4 868.0,84.0 868.2,84.5 868.3,85.1 868.5,85.6 868.7,86.2 868.8,86.8 869.0,87.3 869.2,87.9 869.3,88.5 869.5,89.1 869.7,89.7 869.9,90.2 870.1,90.8 870.2,91.4 870.4,92.0 870.6,92.6 870.8,93.2 871.0,93.8 871.2,94.4 871.4,95.0 871.6,95.6 871.8,96.2 872.1,96.8 872.3,97.4 872.5,98.1 872.7,98.7 872.9,99.3 873.1,99.9 873.3,100.5 873.5,101.2 873.8,101.8 874.0,102.4 874.2,103.0 874.4,103.7 874.7,104.3 874.9,105.0 875.1,105.6 875.3,106.2 875.5,106.9 875.8,107.5 876.0,108.2 876.2,108.8 876.4,109.5 876.7,110.1 876.9,110.8 877.1,111.4 877.3,112.1 877.6,112.8 877.8,113.4 878.0,114.1 878.2,114.8 878.5,115.4 878.7,116.1 878.9,116.8 879.1,117.4 879.4,118.1 879.6,118.8 879.8,119.5 880.0,120.1 880.2,120.8 880.4,121.5 880.7,122.2 880.9,122.9 881.1,123.5 881.3,124.2 881.5,124.9 881.7,125.6 881.9,126.3 882.1,127.0 882.3,127.7 882.6,128.4 882.8,129.1 883.0,129.8 883.2,130.5 883.4,131.2 883.6,131.9 883.8,132.6 883.9,133.3 884.1,134.0 884.3,134.7 884.5,135.4 884.7,136.1 884.9,136.8 885.1,137.5 885.3,138.2 885.4,138.9 885.6,139.6 885.8,140.3 886.0,141.1 886.2,141.8 886.3,142.5 886.5,143.2 886.7,143.9 886.8,144.6 887.0,145.4 887.2,146.1 887.3,146.8 887.5,147.5 887.6,148.3 887.8,149.0 887.9,149.7 888.1,150.4 888.2,151.2 888.4,151.9 888.5,152.6 888.7,153.3 888.8,154.1 888.9,154.8 889.1,155.5 889.2,156.3 889.3,157.0 889.5,157.7 889.6,158.5 889.7,159.2 889.8,159.9 889.9,160.7 890.1,161.4 890.2,162.1 890.3,162.9 890.4,163.6 890.5,164.3 890.6,165.1 890.7,165.8 890.8,166.6 890.9,167.3 891.0,168.0 891.1,168.8 891.2,169.5 891.2,170.3 891.3,171.0 891.4,171.8 891.5,172.5 891.6,173.2 891.6,174.0 891.7,174.7 891.8,175.5 891.8,176.2 891.9,177.0 892.0,177.7 892.0,178.5 892.1,179.2 892.1,180.0 892.2,180.7 892.2,181.5 892.3,182.2 892.3,183.0 892.3,183.7 892.4,184.5 892.4,185.2 892.4,186.0 892.5,186.7 892.5,187.5 892.5,188.2 892.5,189.0 892.6,189.7 892.6,190.5 892.6,191.2 892.6,192.0 892.6,192.8 892.6,193.5 892.6,194.3 892.6,195.0 892.6,195.8 892.6,196.5 892.6,197.3 892.6,198.0 892.6,198.8 892.6,199.6 892.5,200.3 892.5,201.1 892.5,201.8 892.5,202.6 892.4,203.3 892.4,204.1 892.4,204.9 892.3,205.6 892.3,206.4 892.2,207.1 892.2,207.9 892.1,208.6 892.1,209.4 892.0,210.2 892.0,210.9 891.9,211.7 891.9,212.4 891.8,213.2 891.7,214.0 891.6,214.7 891.6,215.5 891.5,216.2 891.4,217.0 891.3,217.8 891.3,218.5 891.2,219.3 891.1,220.0 891.0,220.8 890.9,221.6 890.8,222.3 890.7,223.1 890.6,223.8 890.5,224.6 890.4,225.4 890.3,226.1 890.1,226.9 890.0,227.6 889.9,228.4 889.8,229.2 889.7,229.9 889.5,230.7 889.4,231.4 889.3,232.2 889.1,233.0 889.0,233.7 888.8,234.5 888.7,235.2 888.6,236.0 888.4,236.8 888.3,237.5 888.1,238.3 887.9,239.0 887.8,239.8 887.6,240.6 887.5,241.3 887.3,242.1 887.1,242.8 886.9,243.6 886.8,244.4 886.6,245.1 886.4,245.9 886.2,246.6 886.0,247.4 885.8,248.1 885.6,248.9 885.5,249.7 885.3,250.4 885.1,251.2 884.8,251.9 884.6,252.7 884.4,253.5 884.2,254.2 884.0,255.0 883.8,255.7 883.6,256.5 883.3,257.2 883.1,258.0 882.9,258.8 882.7,259.5 882.4,260.3 882.2,261.0 882.0,261.8 881.7,262.5 881.5,263.3 881.2,264.0 881.0,264.8 880.7,265.6 880.5,266.3 880.2,267.1 880.0,267.8 879.7,268.6 879.4,269.3 879.2,270.1 878.9,270.8 878.6,271.6 878.4,272.3 878.1,273.1 877.8,273.8 877.5,274.6 877.2,275.3 876.9,276.1 876.6,276.9 876.4,277.6 876.1,278.4 875.8,279.1 875.5,279.9 875.2,280.6 874.8,281.4 874.5,282.1 874.2,282.9 873.9,283.6 873.6,284.4 873.3,285.1 873.0,285.8 872.6,286.6 872.3,287.3 872.0,288.1 871.6,288.8 871.3,289.6 871.0,290.3 870.6,291.1 870.3,291.8 869.9,292.6 869.6,293.3 869.2,294.1 868.9,294.8 868.5,295.5 868.2,296.3 867.8,297.0 867.5,297.8 867.1,298.5 866.7,299.3 866.4,300.0 866.0,300.7 865.6,301.5 865.2,302.2 864.8,303.0 864.5,303.7 864.1,304.4 863.7,305.2 863.3,305.9 862.9,306.7 862.5,307.4 862.1,308.1 861.7,308.9 861.3,309.6 860.9,310.3 860.5,311.1 860.1,311.8 859.7,312.6 859.3,313.3 858.8,314.0 858.4,314.8 858.0,315.5 857.6,316.2 857.1,317.0 856.7,317.7 856.3,318.4 855.8,319.2 855.4,319.9 855.0,320.6 854.5,321.3 854.1,322.1 853.6,322.8 853.2,323.5 852.7,324.3 852.3,325.0 851.8,325.7 851.3,326.4 850.9,327.2 850.4,327.9 849.9,328.6 849.5,329.3 849.0,330.1 848.5,330.8 848.0,331.5 847.6,332.2 847.1,333.0 846.6,333.7 846.1,334.4 845.6,335.1 845.1,335.8 844.6,336.6 844.1,337.3 843.6,338.0 843.1,338.7 842.6,339.4 842.1,340.1 841.6,340.9 841.1,341.6 840.6,342.3 840.1,343.0 839.6,343.7 839.0,344.4 838.5,345.1 838.0,345.8 837.5,346.6 836.9,347.3 836.4,348.0 835.9,348.7 835.3,349.4 834.8,350.1 834.2,350.8 833.7,351.5 833.1,352.2 832.6,352.9 832.0,353.6 831.5,354.3 830.9,355.0 830.4,355.7 829.8,356.4 829.2,357.2 828.7,357.9 828.1,358.6 827.5,359.3 827.0,359.9 826.4,360.6 825.8,361.3 825.2,362.0 824.6,362.7 824.1,363.4 823.5,364.1 822.9,364.8 822.3,365.5 821.7,366.2 821.1,366.9 820.5,367.6 819.9,368.3 819.3,369.0 818.7,369.7 818.1,370.3 817.5,371.0 816.9,371.7 816.2,372.4 815.6,373.1 815.0,373.8 814.4,374.5 813.8,375.1 813.1,375.8 812.5,376.5 811.9,377.2 811.2,377.9 810.6,378.5 810.0,379.2 809.3,379.9 808.7,380.6 808.0,381.2 807.4,381.9 806.7,382.6 806.1,383.3 805.4,383.9 804.8,384.6 804.1,385.3 803.5,385.9 802.8,386.6 802.1,387.3 801.5,387.9 800.8,388.6 800.1,389.3 799.4,389.9 798.8,390.6 798.1,391.3 797.4,391.9 796.7,392.6 796.0,393.2 795.4,393.9 794.7,394.6 794.0,395.2 793.3,395.9 792.6,396.5 791.9,397.2 791.2,397.8 790.5,398.5 789.8,399.1 789.1,399.8 788.4,400.4 787.7,401.1 787.0,401.7 786.2,402.4 785.5,403.0 784.8,403.7 784.1,404.3 783.4,404.9 782.6,405.6 781.9,406.2 781.2,406.8 780.5,407.5 779.7,408.1 779.0,408.8 778.2,409.4 777.5,410.0 776.8,410.6 776.0,411.3 775.3,411.9 774.5,412.5 773.8,413.2 773.0,413.8 772.3,414.4 771.5,415.0 770.8,415.6 770.0,416.3 769.2,416.9 768.5,417.5 767.7,418.1 767.0,418.7 766.2,419.3 765.4,420.0 764.6,420.6 763.9,421.2 763.1,421.8 762.3,422.4 761.5,423.0 760.7,423.6 760.0,424.2 759.2,424.8 758.4,425.4 757.6,426.0 756.8,426.6 756.0,427.2 755.2,427.8 754.4,428.4 753.6,429.0 752.8,429.6 752.0,430.1 751.2,430.7 750.4,431.3 749.6,431.9 748.8,432.5 748.0,433.1 747.2,433.6 746.4,434.2 745.6,434.8 744.7,435.4 743.9,435.9 743.1,436.5 742.3,437.1 741.4,437.6 740.6,438.2 739.8,438.8 739.0,439.3 738.1,439.9 737.3,440.4 736.5,441.0 735.6,441.6 734.8,442.1 734.0,442.7 733.1,443.2 732.3,443.8 731.4,444.3 730.6,444.8 729.7,445.4 728.9,445.9 728.1,446.5 727.2,447.0 726.3,447.5 725.5,448.1 724.6,448.6 723.8,449.1 722.9,449.6 722.1,450.2 721.2,450.7 720.3,451.2 719.5,451.7 718.6,452.2 717.8,452.7 716.9,453.3 716.0,453.8 715.2,454.3 714.3,454.8 713.4,455.3 712.5,455.8 711.7,456.3 710.8,456.8 709.9,457.3 709.0,457.7 708.2,458.2 707.3,458.7 706.4,459.2 705.5,459.7 704.6,460.2 703.8,460.6 702.9,461.1 702.0,461.6 701.1,462.0 700.2,462.5 699.3,463.0 698.4,463.4 697.5,463.9 696.7,464.3 695.8,464.8 694.9,465.2 694.0,465.7 693.1,466.1 692.2,466.5 691.3,467.0 690.4,467.4 689.5,467.8 688.6,468.3 687.7,468.7 686.8,469.1 685.9,469.5 685.0,469.9 684.1,470.3 683.2,470.8 682.3,471.2 681.4,471.6 680.5,472.0 679.6,472.3 678.7,472.7 677.8,473.1 676.9,473.5 675.9,473.9 675.0,474.3 674.1,474.6 673.2,475.0 672.3,475.4 671.4,475.7 670.5,476.1 669.6,476.4 668.7,476.8 667.7,477.1 666.8,477.5 665.9,477.8 665.0,478.2 664.1,478.5 663.2,478.8 662.3,479.1 661.3,479.5 660.4,479.8 659.5,480.1 658.6,480.4 657.7,480.7 656.8,481.0 655.8,481.3 654.9,481.6 654.0,481.8 653.1,482.1 652.2,482.4 651.2,482.7 650.3,482.9 649.4,483.2 648.5,483.4 647.6,483.7 646.6,483.9 645.7,484.2 644.8,484.4 643.9,484.7 642.9,484.9 642.0,485.1 641.1,485.3 640.2,485.5 639.2,485.7 638.3,485.9 637.4,486.1 636.5,486.3 635.5,486.5 634.6,486.7 633.7,486.9 632.7,487.1 631.8,487.2 630.9,487.4 629.9,487.5 629.0,487.7 628.1,487.8 627.1,488.0 626.2,488.1 625.3,488.2 624.3,488.4 623.4,488.5 622.5,488.6 621.5,488.7 620.6,488.8 619.6,488.9 618.7,489.0 617.8,489.1 616.8,489.1 615.9,489.2 614.9,489.3 614.0,489.4 613.0,489.4 612.1,489.5 611.1,489.5 610.2,489.5 609.2,489.6 608.3,489.6 607.3,489.6 606.4,489.6 605.4,489.7 604.5,489.7 603.5,489.7 602.6,489.7 601.6,489.6 600.6,489.6 599.7,489.6 598.7,489.6 597.8,489.5 596.8,489.5 595.8,489.5 594.8,489.4 593.9,489.4 592.9,489.3 591.9,489.2 591.0,489.2 590.0,489.1 589.0,489.0 588.0,488.9 587.1,488.8 586.1,488.7 585.1,488.6 584.1,488.5 583.1,488.4 582.1,488.2 581.2,488.1 580.2,488.0 579.2,487.8 578.2,487.7 577.2,487.6 576.2,487.4 575.2,487.2 574.2,487.1 573.2,486.9 572.2,486.7 571.2,486.6 570.2,486.4 569.2,486.2 568.2,486.0 567.2,485.8 566.2,485.6 565.2,485.4 564.2,485.2 563.2,484.9 562.2,484.7 561.1,484.5 560.1,484.2 559.1,484.0 558.1,483.8 557.1,483.5 556.1,483.3 555.0,483.0 554.0,482.7 553.0,482.5 552.0,482.2 551.0,481.9 549.9,481.7 548.9,481.4 547.9,481.1 546.9,480.8 545.8,480.5 544.8,480.2 543.8,479.9 542.7,479.6 541.7,479.3 540.7,479.0 539.7,478.6 538.6,478.3 537.6,478.0 536.6,477.6 535.5,477.3 534.5,477.0 533.5,476.6 532.4,476.3 531.4,475.9 530.4,475.6 529.3,475.2 528.3,474.8 527.2,474.5 526.2,474.1 525.2,473.7 524.1,473.4 523.1,473.0 522.1,472.6 521.0,472.2 520.0,471.8 519.0,471.4 517.9,471.0 516.9,470.6 515.9,470.2 514.8,469.8 513.8,469.4 512.7,469.0 511.7,468.6 510.7,468.1 509.6,467.7 508.6,467.3 507.6,466.9 506.5,466.4 505.5,466.0 504.5,465.6 503.4,465.1 502.4,464.7 501.4,464.2 500.4,463.8 499.3,463.3 498.3,462.9 497.3,462.4 496.2,461.9 495.2,461.5 494.2,461.0 493.2,460.5 492.2,460.1 491.1,459.6 490.1,459.1 489.1,458.6 488.1,458.1 487.1,457.7 486.0,457.2 485.0,456.7 484.0,456.2 483.0,455.7 482.0,455.2 481.0,454.7 480.0,454.2 478.9,453.7 477.9,453.2 476.9,452.6 475.9,452.1 474.9,451.6 473.9,451.1 472.9,450.6 471.9,450.1 470.9,449.5 469.9,449.0 468.9,448.5 467.9,447.9 467.0,447.4 466.0,446.9 465.0,446.3 464.0,445.8 463.0,445.2 462.0,444.7 461.0,444.2 460.1,443.6 459.1,443.1 458.1,442.5 457.1,441.9 456.2,441.4 455.2,440.8 454.2,440.3 453.3,439.7 452.3,439.1 451.3,438.6 450.4,438.0 449.4,437.4 448.4,436.9 447.5,436.3 446.5,435.7 445.6,435.1 444.6,434.5 443.7,434.0 442.7,433.4 441.8,432.8 440.9,432.2 439.9,431.6 439.0,431.0 438.0,430.4 437.1,429.8 436.2,429.2 435.3,428.6 434.3,428.0 433.4,427.4 432.5,426.8 431.6,426.2 430.6,425.6 429.7,425.0 428.8,424.4 427.9,423.8 427.0,423.2 426.1,422.5 425.2,421.9 424.3,421.3 423.4,420.7 422.5,420.1 421.6,419.4 420.7,418.8 419.8,418.2 418.9,417.6 418.1,416.9 417.2,416.3 416.3,415.7 415.4,415.0 414.5,414.4 413.7,413.8 412.8,413.1 411.9,412.5 411.1,411.8 410.2,411.2 409.4,410.6 408.5,409.9 407.6,409.3 406.8,408.6 405.9,408.0 405.1,407.3 404.3,406.7 403.4,406.0 402.6,405.3 401.7,404.7 400.9,404.0 400.1,403.4 399.3,402.7 398.4,402.0 397.6,401.4 396.8,400.7 396.0,400.0 395.2,399.4 394.4,398.7 393.5,398.0 392.7,397.4 391.9,396.7 391.1,396.0 390.3,395.3 389.5,394.7 388.8,394.0 388.0,393.3 387.2,392.6" fill="none" stroke="#000" stroke-width="2.2"/></g>
<path d="M1187.7,294.6 1187.6,299.0 1187.4,303.4 1187.1,307.8 1186.6,312.2 1186.0,316.5 1185.2,320.9 1184.3,325.3 1183.3,329.6 1182.1,334.0 1180.8,338.3 1179.3,342.7 1177.8,347.0 1176.0,351.3 1174.2,355.6 1172.2,359.8 1170.1,364.1 1167.8,368.4 1165.4,372.6 1162.9,376.8 1160.3,381.0 1157.5,385.1 1154.6,389.3 1151.5,393.4 1148.3,397.5 1145.0,401.6 1141.6,405.6 1138.0,409.6 1134.4,413.6 1130.5,417.5 1126.6,421.5 1122.5,425.4 1118.4,429.2 1114.1,433.1 1109.6,436.9 1105.1,440.6 1100.4,444.3 1095.7,448.0 1090.8,451.7 1085.8,455.3 1080.7,458.8 1075.4,462.4 1070.1,465.9 1064.6,469.3 1059.1,472.7 1053.4,476.1 1047.7,479.4 1041.8,482.6 1035.8,485.8 1029.7,489.0 1023.6,492.1 1017.3,495.2 1010.9,498.2 1004.5,501.2 997.9,504.1 991.3,507.0 984.5,509.8 977.7,512.6 970.8,515.3 963.8,518.0 956.7,520.6 949.6,523.1 942.3,525.6 935.0,528.0 927.6,530.4 920.2,532.7 912.6,535.0 905.0,537.2 897.4,539.3 889.6,541.4 881.8,543.4 873.9,545.3 866.0,547.2 858.0,549.0 850.0,550.8 841.9,552.5 833.7,554.1 825.5,555.7 817.3,557.2 809.0,558.7 800.7,560.0 792.3,561.4 783.8,562.6 775.4,563.8 766.9,564.9 758.4,565.9 749.8,566.9 741.2,567.8 732.6,568.7 723.9,569.4 715.3,570.1 706.6,570.8 697.9,571.3 689.2,571.8 680.4,572.3 671.7,572.6 662.9,572.9 654.1,573.2 645.3,573.3 636.6,573.4 627.8,573.4 619.0,573.4 610.2,573.2 601.4,573.1 592.7,572.8 583.9,572.5 575.2,572.1 566.4,571.6 557.7,571.1 549.0,570.5 540.4,569.8 531.7,569.1 523.1,568.2 514.5,567.4 505.9,566.4 497.3,565.4 488.8,564.3 480.3,563.2 471.9,562.0 463.5,560.7 455.1,559.4 446.8,558.0 438.5,556.5 430.3,554.9 422.1,553.3 414.0,551.7 405.9,549.9 397.9,548.1 390.0,546.3 382.1,544.4 374.2,542.4 366.5,540.3 358.8,538.2 351.1,536.1 343.6,533.8 336.1,531.6 328.6,529.2 321.3,526.8 314.0,524.3 306.8,521.8 299.7,519.3 292.6,516.6 285.7,513.9 278.8,511.2 272.1,508.4 265.4,505.6 258.8,502.7 252.3,499.7 245.8,496.7 239.5,493.7 233.3,490.6 227.2,487.4 221.1,484.2 215.2,481.0 209.4,477.7 203.7,474.4 198.1,471.0 192.6,467.6 187.2,464.1 181.9,460.6 176.7,457.1 171.7,453.5 166.7,449.8 161.9,446.2 157.2,442.5 152.6,438.7 148.1,435.0 143.7,431.1 139.5,427.3 135.4,423.4 131.4,419.5 127.5,415.6 123.8,411.6 120.1,407.6 116.6,403.6 113.3,399.5 110.0,395.4 106.9,391.3 103.9,387.2 101.1,383.1 98.4,378.9 95.8,374.7 93.3,370.5 91.0,366.2 88.8,362.0 86.7,357.7 84.8,353.4 83.0,349.1 81.4,344.8 79.9,340.5 78.5,336.2 77.3,331.8 76.2,327.5 75.2,323.1 74.4,318.7 73.7,314.3 73.1,310.0 72.7,305.6 72.4,301.2 72.3,296.8 72.3,292.4 72.4,288.0 72.7,283.6 73.1,279.2 73.7,274.9 74.4,270.5 75.2,266.1 76.2,261.7 77.3,257.4 78.5,253.0 79.9,248.7 81.4,244.4 83.0,240.1 84.8,235.8 86.7,231.5 88.8,227.2 91.0,223.0 93.3,218.7 95.8,214.5 98.4,210.3 101.1,206.1 103.9,202.0 106.9,197.9 110.0,193.8 113.3,189.7 116.6,185.6 120.1,181.6 123.8,177.6 127.5,173.6 131.4,169.7 135.4,165.8 139.5,161.9 143.7,158.1 148.1,154.2 152.6,150.5 157.2,146.7 161.9,143.0 166.7,139.4 171.7,135.7 176.7,132.1 181.9,128.6 187.2,125.1 192.6,121.6 198.1,118.2 203.7,114.8 209.4,111.5 215.2,108.2 221.1,105.0 227.2,101.8 233.3,98.6 239.5,95.5 245.8,92.5 252.3,89.5 258.8,86.5 265.4,83.6 272.1,80.8 278.8,78.0 285.7,75.3 292.6,72.6 299.7,69.9 306.8,67.4 314.0,64.9 321.3,62.4 328.6,60.0 336.1,57.6 343.6,55.4 351.1,53.1 358.8,51.0 366.5,48.9 374.2,46.8 382.1,44.8 390.0,42.9 397.9,41.1 405.9,39.3 414.0,37.5 422.1,35.9 430.3,34.3 438.5,32.7 446.8,31.2 455.1,29.8 463.5,28.5 471.9,27.2 480.3,26.0 488.8,24.9 497.3,23.8 505.9,22.8 514.5,21.8 523.1,21.0 531.7,20.1 540.4,19.4 549.0,18.7 557.7,18.1 566.4,17.6 575.2,17.1 583.9,16.7 592.7,16.4 601.4,16.1 610.2,16.0 619.0,15.8 627.8,15.8 636.6,15.8 645.3,15.9 654.1,16.0 662.9,16.3 671.7,16.6 680.4,16.9 689.2,17.4 697.9,17.9 706.6,18.4 715.3,19.1 723.9,19.8 732.6,20.5 741.2,21.4 749.8,22.3 758.4,23.3 766.9,24.3 775.4,25.4 783.8,26.6 792.3,27.8 800.7,29.2 809.0,30.5 817.3,32.0 825.5,33.5 833.7,35.1 841.9,36.7 850.0,38.4 858.0,40.2 866.0,42.0 873.9,43.9 881.8,45.8 889.6,47.8 897.4,49.9 905.0,52.0 912.6,54.2 920.2,56.5 927.6,58.8 935.0,61.2 942.3,63.6 949.6,66.1 956.7,68.6 963.8,71.2 970.8,73.9 977.7,76.6 984.5,79.4 991.3,82.2 997.9,85.1 1004.5,88.0 1010.9,91.0 1017.3,94.0 1023.6,97.1 1029.7,100.2 1035.8,103.4 1041.8,106.6 1047.7,109.8 1053.4,113.1 1059.1,116.5 1064.6,119.9 1070.1,123.3 1075.4,126.8 1080.7,130.4 1085.8,133.9 1090.8,137.5 1095.7,141.2 1100.4,144.9 1105.1,148.6 1109.6,152.3 1114.1,156.1 1118.4,160.0 1122.5,163.8 1126.6,167.7 1130.5,171.7 1134.4,175.6 1138.0,179.6 1141.6,183.6 1145.0,187.6 1148.3,191.7 1151.5,195.8 1154.6,199.9 1157.5,204.1 1160.3,208.2 1162.9,212.4 1165.4,216.6 1167.8,220.8 1170.1,225.1 1172.2,229.4 1174.2,233.6 1176.0,237.9 1177.8,242.2 1179.3,246.5 1180.8,250.9 1182.1,255.2 1183.3,259.6 1184.3,263.9 1185.2,268.3 1186.0,272.7 1186.6,277.0 1187.1,281.4 1187.4,285.8 1187.6,290.2 1187.7,294.6 Z" fill="none" stroke="#000" stroke-width="2.2"/>
<path d="M586.2,203.4 L600.2,217.4 M600.2,203.4 L586.2,217.4 M380.2,385.6 L394.2,399.6 M394.2,385.6 L380.2,399.6 M1087.2,407.3 L1101.2,421.3 M1101.2,407.3 L1087.2,421.3 M752.0,517.4 L766.0,531.4 M766.0,517.4 L752.0,531.4" fill="none" stroke="#000" stroke-width="2.2"/>
<g font-size="19.4">
<text x="165.2" y="288.6" text-anchor="middle">330</text>
<text x="258.2" y="288.6" text-anchor="middle">300</text>
<text x="351.1" y="288.6" text-anchor="middle">270</text>
<text x="444.1" y="288.6" text-anchor="middle">240</text>
<text x="537.0" y="288.6" text-anchor="middle">210</text>
<text x="630.0" y="288.6" text-anchor="middle">180</text>
<text x="722.9" y="288.6" text-anchor="middle">150</text>
<text x="815.9" y="288.6" text-anchor="middle">120</text>
<text x="908.8" y="288.6" text-anchor="middle">90</text>
<text x="1001.8" y="288.6" text-anchor="middle">60</text>
<text x="1094.7" y="288.6" text-anchor="middle">30</text>
<text x="345.1" y="33.5" text-anchor="end">60</text>
<text x="229.6" y="82.2" text-anchor="end">45</text>
<text x="141.0" y="145.8" text-anchor="end">30</text>
<text x="85.3" y="219.7" text-anchor="end">15</text>
<text x="66.3" y="299.1" text-anchor="end">0</text>
<text x="85.3" y="378.5" text-anchor="end">-15</text>
<text x="141.0" y="452.4" text-anchor="end">-30</text>
<text x="229.6" y="516.0" text-anchor="end">-45</text>
<text x="345.1" y="564.7" text-anchor="end">-60</text>
<text x="479.6" y="595.3" text-anchor="end">-75</text>
<text x="0" y="0" transform="translate(48.2,295.5) rotate(-90)" text-anchor="middle">dec</text>
<text x="630" y="591.7" text-anchor="middle">RA</text>
<text x="603.5" y="210.0">NGP</text>
<text x="396.7" y="391.6">MW centre</text>
<text x="1104.5" y="413.9">SGP</text>
<text x="759.3" y="523.8">LMC</text>
<text x="336" y="129.8">MW plane</text>
</g>
<rect x="785.5" y="10.5" width="404" height="88" rx="4" ry="4" fill="#fff" fill-opacity="0.8" stroke="#cccccc" stroke-width="1.5"/>
<rect x="792" y="16.5" width="42" height="16" fill="#bbbbe9"/>
<rect x="792" y="44.5" width="42" height="16" fill="#e585b8"/>
<rect x="792" y="72.5" width="42" height="16" fill="#eda04c"/>
<rect x="1060.5" y="16.5" width="42" height="16" fill="#3fb575"/>
<rect x="1060.5" y="44.5" width="42" height="16" fill="#9a9a9a"/>
<rect x="1060.5" y="72.5" width="42" height="16" fill="#7372b6"/>
<g font-size="19.4">
<text x="849.5" y="31">Main GALAH survey</text>
<text x="849.5" y="59">Kepler, K2, Corot</text>
<text x="849.5" y="87">Tess</text>
<text x="1118" y="31">Clusters</text>
<text x="1118" y="59">Other</text>
<text x="1118" y="87">Repeats</text>
</g>
</svg>
</body></html>
